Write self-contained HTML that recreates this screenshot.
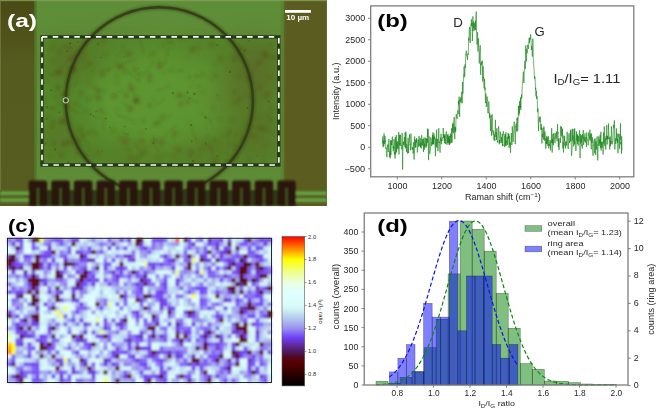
<!DOCTYPE html><html><head><meta charset="utf-8"><style>html,body{margin:0;padding:0;background:#fff;overflow:hidden}svg{display:block}text{font-family:"Liberation Sans",sans-serif}</style></head><body>
<svg width="656" height="409" viewBox="0 0 656 409">
<defs>
<filter id="bl05" x="-5%" y="-5%" width="110%" height="110%"><feGaussianBlur stdDeviation="0.5"/></filter>
<filter id="bl07" x="-5%" y="-5%" width="110%" height="110%"><feGaussianBlur stdDeviation="0.7"/></filter>
<filter id="bl11" x="-5%" y="-5%" width="110%" height="110%"><feGaussianBlur stdDeviation="1.2"/></filter>
<filter id="bl13" x="-5%" y="-20%" width="110%" height="140%"><feGaussianBlur stdDeviation="1.3"/></filter>
<filter id="bl15" x="-5%" y="-5%" width="110%" height="110%"><feGaussianBlur stdDeviation="1.5"/></filter>
<filter id="bl1" x="-10%" y="-10%" width="120%" height="120%"><feGaussianBlur stdDeviation="1"/></filter>
<filter id="bl6" x="-20%" y="-20%" width="140%" height="140%"><feGaussianBlur stdDeviation="12"/></filter>
<linearGradient id="olL" x1="0" y1="0" x2="0" y2="1"><stop offset="0" stop-color="#4a4a14"/><stop offset="0.3" stop-color="#555a1e"/><stop offset="1" stop-color="#575c20"/></linearGradient>
<clipPath id="clipA"><rect x="0" y="0" width="326.8" height="206.2"/></clipPath>
</defs>
<rect width="656" height="409" fill="#fff"/>
<g id="pa" clip-path="url(#clipA)">
<rect x="0" y="0" width="327" height="206" fill="#5f8e38"/>
<rect x="42" y="37" width="237" height="128" fill="#54882c"/>
<ellipse cx="160" cy="100" rx="72" ry="52" fill="#5e9932" filter="url(#bl6)" opacity="0.85"/>
<g filter="url(#bl6)" opacity="0.55">
<ellipse cx="70" cy="60" rx="28" ry="20" fill="#5f5a22" opacity="0.8"/>
<ellipse cx="255" cy="70" rx="26" ry="35" fill="#5f5a22" opacity="0.9"/>
<ellipse cx="258" cy="135" rx="22" ry="28" fill="#5f5a22" opacity="0.8"/>
<ellipse cx="60" cy="140" rx="20" ry="24" fill="#5f5a22" opacity="0.6"/>
<ellipse cx="150" cy="155" rx="70" ry="10" fill="#5f5a22" opacity="0.6"/>
<ellipse cx="215" cy="150" rx="30" ry="14" fill="#5f5a22" opacity="0.6"/>
<ellipse cx="120" cy="45" rx="40" ry="8" fill="#5f5a22" opacity="0.4"/>
<ellipse cx="200" cy="48" rx="30" ry="8" fill="#5f5a22" opacity="0.5"/>
<ellipse cx="225" cy="100" rx="18" ry="25" fill="#5f5a22" opacity="0.5"/>
</g>
<g filter="url(#bl15)">
<circle cx="119.5" cy="57.7" r="2.6" fill="#584818" opacity="0.12"/>
<circle cx="168.9" cy="84.3" r="1.1" fill="#584818" opacity="0.23"/>
<circle cx="52.7" cy="92.8" r="1.2" fill="#584818" opacity="0.12"/>
<circle cx="142.9" cy="141.5" r="1.3" fill="#584818" opacity="0.16"/>
<circle cx="190.2" cy="156.5" r="2.4" fill="#584818" opacity="0.20"/>
<circle cx="271.5" cy="44.8" r="3.1" fill="#584818" opacity="0.17"/>
<circle cx="77.6" cy="53.6" r="1.8" fill="#584818" opacity="0.30"/>
<circle cx="86.1" cy="111.1" r="2.6" fill="#584818" opacity="0.19"/>
<circle cx="171.6" cy="46.8" r="1.1" fill="#584818" opacity="0.15"/>
<circle cx="202.5" cy="92.0" r="1.8" fill="#584818" opacity="0.25"/>
<circle cx="149.6" cy="76.2" r="3.0" fill="#584818" opacity="0.27"/>
<circle cx="100.9" cy="110.2" r="2.3" fill="#584818" opacity="0.32"/>
<circle cx="214.0" cy="74.7" r="3.5" fill="#584818" opacity="0.13"/>
<circle cx="141.4" cy="132.9" r="1.4" fill="#584818" opacity="0.22"/>
<circle cx="53.1" cy="121.9" r="2.9" fill="#584818" opacity="0.24"/>
<circle cx="248.0" cy="77.9" r="2.7" fill="#584818" opacity="0.25"/>
<circle cx="179.1" cy="95.6" r="3.1" fill="#584818" opacity="0.34"/>
<circle cx="154.5" cy="121.4" r="1.2" fill="#584818" opacity="0.28"/>
<circle cx="194.8" cy="162.1" r="3.1" fill="#584818" opacity="0.17"/>
<circle cx="133.9" cy="121.9" r="1.1" fill="#584818" opacity="0.22"/>
<circle cx="83.2" cy="53.5" r="1.1" fill="#584818" opacity="0.29"/>
<circle cx="74.1" cy="69.7" r="2.0" fill="#584818" opacity="0.32"/>
<circle cx="62.8" cy="94.7" r="2.4" fill="#584818" opacity="0.32"/>
<circle cx="234.9" cy="146.1" r="1.7" fill="#584818" opacity="0.20"/>
<circle cx="127.6" cy="148.6" r="3.4" fill="#584818" opacity="0.14"/>
<circle cx="85.1" cy="67.8" r="1.6" fill="#584818" opacity="0.22"/>
<circle cx="181.3" cy="71.6" r="1.0" fill="#584818" opacity="0.20"/>
<circle cx="130.0" cy="109.2" r="3.4" fill="#584818" opacity="0.27"/>
<circle cx="164.1" cy="115.6" r="2.7" fill="#584818" opacity="0.11"/>
<circle cx="253.6" cy="135.7" r="3.2" fill="#584818" opacity="0.30"/>
<circle cx="135.4" cy="88.5" r="1.3" fill="#584818" opacity="0.26"/>
<circle cx="58.5" cy="47.4" r="1.5" fill="#584818" opacity="0.14"/>
<circle cx="123.2" cy="45.5" r="1.0" fill="#584818" opacity="0.14"/>
<circle cx="67.6" cy="84.1" r="1.1" fill="#584818" opacity="0.32"/>
<circle cx="187.1" cy="57.4" r="1.6" fill="#584818" opacity="0.19"/>
<circle cx="128.9" cy="54.2" r="3.1" fill="#584818" opacity="0.35"/>
<circle cx="152.6" cy="99.0" r="1.2" fill="#584818" opacity="0.13"/>
<circle cx="123.8" cy="71.8" r="3.1" fill="#584818" opacity="0.14"/>
<circle cx="49.4" cy="156.9" r="2.3" fill="#584818" opacity="0.14"/>
<circle cx="170.6" cy="42.4" r="2.3" fill="#584818" opacity="0.34"/>
<circle cx="245.2" cy="125.3" r="1.7" fill="#584818" opacity="0.19"/>
<circle cx="82.9" cy="134.7" r="2.3" fill="#584818" opacity="0.29"/>
<circle cx="120.8" cy="66.7" r="3.0" fill="#584818" opacity="0.35"/>
<circle cx="242.7" cy="139.0" r="3.0" fill="#584818" opacity="0.28"/>
<circle cx="96.8" cy="103.2" r="1.9" fill="#584818" opacity="0.11"/>
<circle cx="50.5" cy="73.6" r="1.6" fill="#584818" opacity="0.27"/>
<circle cx="266.9" cy="94.5" r="3.3" fill="#584818" opacity="0.35"/>
<circle cx="266.5" cy="84.2" r="1.6" fill="#584818" opacity="0.16"/>
<circle cx="89.8" cy="64.3" r="2.6" fill="#584818" opacity="0.33"/>
<circle cx="239.8" cy="98.5" r="2.6" fill="#584818" opacity="0.30"/>
<circle cx="63.8" cy="120.9" r="3.3" fill="#584818" opacity="0.30"/>
<circle cx="218.8" cy="98.3" r="1.4" fill="#584818" opacity="0.30"/>
<circle cx="121.5" cy="138.3" r="3.4" fill="#584818" opacity="0.20"/>
<circle cx="137.5" cy="156.4" r="2.8" fill="#584818" opacity="0.14"/>
<circle cx="73.6" cy="57.7" r="3.3" fill="#584818" opacity="0.30"/>
<circle cx="78.1" cy="141.5" r="3.5" fill="#584818" opacity="0.26"/>
<circle cx="125.6" cy="107.0" r="1.3" fill="#584818" opacity="0.10"/>
<circle cx="270.2" cy="119.6" r="2.3" fill="#584818" opacity="0.33"/>
<circle cx="145.1" cy="147.1" r="3.1" fill="#584818" opacity="0.15"/>
<circle cx="102.7" cy="75.3" r="1.6" fill="#584818" opacity="0.25"/>
<circle cx="104.4" cy="91.0" r="1.3" fill="#584818" opacity="0.33"/>
<circle cx="126.4" cy="95.8" r="2.5" fill="#584818" opacity="0.33"/>
<circle cx="142.0" cy="152.8" r="2.3" fill="#584818" opacity="0.23"/>
<circle cx="166.0" cy="41.3" r="2.1" fill="#584818" opacity="0.15"/>
<circle cx="44.9" cy="138.1" r="1.4" fill="#584818" opacity="0.22"/>
<circle cx="213.0" cy="108.0" r="1.8" fill="#584818" opacity="0.23"/>
<circle cx="173.4" cy="136.2" r="1.3" fill="#584818" opacity="0.24"/>
<circle cx="101.9" cy="73.3" r="2.9" fill="#584818" opacity="0.23"/>
<circle cx="174.9" cy="133.2" r="3.3" fill="#584818" opacity="0.21"/>
<circle cx="186.7" cy="101.7" r="2.3" fill="#584818" opacity="0.27"/>
<circle cx="149.4" cy="105.1" r="2.2" fill="#584818" opacity="0.34"/>
<circle cx="206.9" cy="147.7" r="3.4" fill="#584818" opacity="0.16"/>
<circle cx="174.4" cy="156.0" r="3.1" fill="#584818" opacity="0.13"/>
<circle cx="72.3" cy="93.8" r="1.2" fill="#584818" opacity="0.16"/>
<circle cx="61.0" cy="122.0" r="3.0" fill="#584818" opacity="0.32"/>
<circle cx="80.0" cy="127.8" r="2.7" fill="#584818" opacity="0.14"/>
<circle cx="249.7" cy="159.0" r="1.5" fill="#584818" opacity="0.34"/>
<circle cx="136.8" cy="99.4" r="3.5" fill="#584818" opacity="0.31"/>
<circle cx="81.6" cy="92.5" r="2.3" fill="#584818" opacity="0.18"/>
<circle cx="89.6" cy="78.5" r="2.8" fill="#584818" opacity="0.10"/>
<circle cx="173.1" cy="93.6" r="1.0" fill="#584818" opacity="0.18"/>
<circle cx="189.4" cy="102.5" r="1.2" fill="#584818" opacity="0.35"/>
<circle cx="227.7" cy="159.5" r="1.3" fill="#584818" opacity="0.17"/>
<circle cx="53.2" cy="135.6" r="1.7" fill="#584818" opacity="0.13"/>
<circle cx="142.4" cy="152.0" r="3.0" fill="#584818" opacity="0.16"/>
<circle cx="78.8" cy="153.0" r="2.4" fill="#584818" opacity="0.28"/>
<circle cx="64.8" cy="46.1" r="2.7" fill="#584818" opacity="0.21"/>
<circle cx="60.9" cy="155.4" r="2.6" fill="#584818" opacity="0.30"/>
<circle cx="63.5" cy="145.2" r="1.2" fill="#584818" opacity="0.32"/>
<circle cx="149.7" cy="81.1" r="2.4" fill="#584818" opacity="0.33"/>
<circle cx="106.4" cy="55.0" r="2.3" fill="#584818" opacity="0.16"/>
<circle cx="69.5" cy="59.0" r="1.1" fill="#584818" opacity="0.15"/>
<circle cx="116.7" cy="76.8" r="2.9" fill="#584818" opacity="0.17"/>
<circle cx="160.5" cy="61.1" r="1.9" fill="#584818" opacity="0.10"/>
<circle cx="102.4" cy="40.9" r="2.8" fill="#584818" opacity="0.24"/>
<circle cx="88.1" cy="97.9" r="3.3" fill="#584818" opacity="0.13"/>
<circle cx="234.8" cy="92.6" r="2.2" fill="#584818" opacity="0.31"/>
<circle cx="135.6" cy="101.8" r="2.7" fill="#584818" opacity="0.35"/>
<circle cx="123.9" cy="142.2" r="2.8" fill="#584818" opacity="0.26"/>
<circle cx="138.3" cy="82.1" r="1.1" fill="#584818" opacity="0.13"/>
<circle cx="60.5" cy="130.9" r="1.6" fill="#584818" opacity="0.14"/>
<circle cx="63.7" cy="143.3" r="3.2" fill="#584818" opacity="0.27"/>
<circle cx="109.7" cy="69.0" r="1.7" fill="#584818" opacity="0.21"/>
<circle cx="80.7" cy="94.3" r="1.7" fill="#584818" opacity="0.34"/>
<circle cx="270.6" cy="106.8" r="1.6" fill="#584818" opacity="0.34"/>
<circle cx="116.1" cy="83.2" r="1.0" fill="#584818" opacity="0.20"/>
<circle cx="154.6" cy="101.3" r="1.5" fill="#584818" opacity="0.23"/>
<circle cx="45.2" cy="71.8" r="1.2" fill="#584818" opacity="0.20"/>
<circle cx="53.7" cy="41.8" r="1.8" fill="#584818" opacity="0.16"/>
<circle cx="180.4" cy="104.6" r="2.9" fill="#584818" opacity="0.26"/>
<circle cx="210.8" cy="148.0" r="2.0" fill="#584818" opacity="0.18"/>
<circle cx="273.4" cy="57.5" r="2.8" fill="#584818" opacity="0.26"/>
<circle cx="54.2" cy="142.6" r="3.2" fill="#584818" opacity="0.26"/>
<circle cx="215.0" cy="139.7" r="1.3" fill="#584818" opacity="0.23"/>
<circle cx="161.5" cy="142.5" r="3.0" fill="#584818" opacity="0.31"/>
<circle cx="180.1" cy="149.7" r="2.7" fill="#584818" opacity="0.27"/>
<circle cx="97.6" cy="42.9" r="1.3" fill="#584818" opacity="0.19"/>
<circle cx="68.4" cy="142.6" r="2.4" fill="#584818" opacity="0.26"/>
<circle cx="189.9" cy="123.4" r="2.2" fill="#584818" opacity="0.10"/>
<circle cx="229.9" cy="131.8" r="2.3" fill="#584818" opacity="0.23"/>
<circle cx="197.6" cy="47.2" r="2.8" fill="#584818" opacity="0.16"/>
<circle cx="61.3" cy="71.9" r="2.8" fill="#584818" opacity="0.15"/>
<circle cx="216.4" cy="160.0" r="2.2" fill="#584818" opacity="0.20"/>
<circle cx="155.6" cy="123.8" r="2.9" fill="#584818" opacity="0.25"/>
<circle cx="193.8" cy="48.6" r="1.4" fill="#584818" opacity="0.16"/>
<circle cx="217.2" cy="76.7" r="2.4" fill="#584818" opacity="0.10"/>
<circle cx="58.1" cy="72.3" r="2.7" fill="#584818" opacity="0.27"/>
<circle cx="201.4" cy="75.1" r="2.3" fill="#584818" opacity="0.22"/>
<circle cx="152.7" cy="53.7" r="3.2" fill="#584818" opacity="0.15"/>
<circle cx="271.9" cy="155.1" r="1.0" fill="#584818" opacity="0.21"/>
<circle cx="235.0" cy="159.0" r="2.1" fill="#584818" opacity="0.17"/>
<circle cx="92.9" cy="156.3" r="1.5" fill="#584818" opacity="0.25"/>
<circle cx="77.0" cy="104.0" r="3.4" fill="#584818" opacity="0.13"/>
<circle cx="235.1" cy="102.1" r="3.2" fill="#584818" opacity="0.28"/>
<circle cx="97.9" cy="150.3" r="2.2" fill="#584818" opacity="0.11"/>
<circle cx="44.8" cy="100.0" r="2.1" fill="#584818" opacity="0.18"/>
<circle cx="76.8" cy="81.7" r="1.8" fill="#584818" opacity="0.31"/>
<circle cx="44.4" cy="132.1" r="3.1" fill="#584818" opacity="0.13"/>
<circle cx="259.9" cy="127.4" r="3.3" fill="#584818" opacity="0.17"/>
<circle cx="130.7" cy="87.7" r="3.5" fill="#584818" opacity="0.25"/>
<circle cx="128.0" cy="92.1" r="1.7" fill="#584818" opacity="0.11"/>
<circle cx="67.7" cy="142.5" r="1.7" fill="#584818" opacity="0.33"/>
<circle cx="102.1" cy="72.0" r="2.3" fill="#584818" opacity="0.15"/>
<circle cx="131.0" cy="157.6" r="3.2" fill="#584818" opacity="0.30"/>
<circle cx="191.0" cy="152.3" r="3.4" fill="#584818" opacity="0.24"/>
<circle cx="211.7" cy="45.1" r="2.8" fill="#584818" opacity="0.21"/>
<circle cx="219.4" cy="118.9" r="1.7" fill="#584818" opacity="0.11"/>
<circle cx="259.9" cy="54.8" r="2.2" fill="#584818" opacity="0.19"/>
<circle cx="113.4" cy="130.6" r="3.4" fill="#584818" opacity="0.17"/>
<circle cx="196.8" cy="76.3" r="2.4" fill="#584818" opacity="0.20"/>
<circle cx="83.0" cy="59.0" r="1.5" fill="#584818" opacity="0.33"/>
<circle cx="159.8" cy="66.3" r="3.3" fill="#584818" opacity="0.35"/>
<circle cx="148.8" cy="56.3" r="1.5" fill="#584818" opacity="0.12"/>
<circle cx="123.7" cy="50.3" r="1.6" fill="#584818" opacity="0.16"/>
<circle cx="176.7" cy="149.0" r="2.9" fill="#584818" opacity="0.20"/>
<circle cx="140.4" cy="104.0" r="1.9" fill="#584818" opacity="0.18"/>
<circle cx="58.5" cy="73.4" r="3.4" fill="#584818" opacity="0.13"/>
<circle cx="161.3" cy="117.1" r="3.2" fill="#584818" opacity="0.15"/>
<circle cx="107.1" cy="69.8" r="2.0" fill="#584818" opacity="0.21"/>
<circle cx="266.3" cy="144.2" r="3.2" fill="#584818" opacity="0.11"/>
<circle cx="51.5" cy="127.0" r="3.2" fill="#584818" opacity="0.22"/>
<circle cx="180.8" cy="39.0" r="2.0" fill="#584818" opacity="0.33"/>
<circle cx="236.4" cy="145.1" r="3.4" fill="#584818" opacity="0.16"/>
<circle cx="69.4" cy="58.1" r="2.3" fill="#584818" opacity="0.27"/>
<circle cx="263.4" cy="128.5" r="2.6" fill="#584818" opacity="0.29"/>
<circle cx="150.6" cy="107.4" r="1.1" fill="#584818" opacity="0.30"/>
<circle cx="98.2" cy="153.1" r="2.6" fill="#584818" opacity="0.18"/>
<circle cx="73.8" cy="70.2" r="2.6" fill="#584818" opacity="0.27"/>
<circle cx="70.1" cy="47.7" r="2.3" fill="#584818" opacity="0.25"/>
<circle cx="134.4" cy="66.7" r="2.5" fill="#584818" opacity="0.10"/>
<circle cx="114.3" cy="96.1" r="3.4" fill="#584818" opacity="0.26"/>
<circle cx="249.9" cy="97.9" r="1.6" fill="#584818" opacity="0.16"/>
<circle cx="267.8" cy="126.4" r="1.8" fill="#584818" opacity="0.11"/>
<circle cx="160.1" cy="122.6" r="2.1" fill="#584818" opacity="0.16"/>
<circle cx="199.5" cy="153.7" r="1.6" fill="#584818" opacity="0.11"/>
<circle cx="122.8" cy="91.1" r="2.7" fill="#584818" opacity="0.15"/>
<circle cx="229.7" cy="130.7" r="2.3" fill="#584818" opacity="0.15"/>
<circle cx="270.0" cy="77.7" r="3.1" fill="#584818" opacity="0.16"/>
<circle cx="95.6" cy="133.3" r="1.7" fill="#584818" opacity="0.34"/>
<circle cx="159.5" cy="62.2" r="1.6" fill="#584818" opacity="0.20"/>
<circle cx="199.0" cy="156.6" r="1.4" fill="#584818" opacity="0.20"/>
<circle cx="93.6" cy="159.8" r="1.4" fill="#584818" opacity="0.11"/>
<circle cx="58.0" cy="87.8" r="3.2" fill="#584818" opacity="0.32"/>
<circle cx="214.7" cy="162.7" r="3.3" fill="#584818" opacity="0.18"/>
<circle cx="87.2" cy="155.0" r="2.9" fill="#584818" opacity="0.11"/>
<circle cx="198.8" cy="85.9" r="1.9" fill="#584818" opacity="0.18"/>
<circle cx="83.4" cy="39.4" r="1.7" fill="#584818" opacity="0.19"/>
<circle cx="266.6" cy="54.3" r="3.4" fill="#584818" opacity="0.15"/>
<circle cx="127.1" cy="140.9" r="3.1" fill="#584818" opacity="0.21"/>
<circle cx="55.5" cy="97.7" r="1.9" fill="#584818" opacity="0.33"/>
<circle cx="89.0" cy="84.2" r="3.2" fill="#584818" opacity="0.11"/>
<circle cx="139.7" cy="139.7" r="2.9" fill="#584818" opacity="0.11"/>
<circle cx="52.1" cy="46.8" r="3.3" fill="#584818" opacity="0.16"/>
<circle cx="218.1" cy="150.4" r="1.8" fill="#584818" opacity="0.17"/>
<circle cx="267.1" cy="115.5" r="1.7" fill="#584818" opacity="0.28"/>
<circle cx="117.7" cy="73.2" r="1.0" fill="#584818" opacity="0.29"/>
<circle cx="257.5" cy="117.6" r="3.4" fill="#584818" opacity="0.11"/>
<circle cx="98.5" cy="97.9" r="3.4" fill="#584818" opacity="0.34"/>
<circle cx="134.1" cy="70.1" r="2.1" fill="#584818" opacity="0.22"/>
<circle cx="260.2" cy="61.7" r="3.0" fill="#584818" opacity="0.28"/>
<circle cx="235.7" cy="134.8" r="2.5" fill="#584818" opacity="0.18"/>
<circle cx="118.5" cy="83.9" r="3.0" fill="#584818" opacity="0.12"/>
<circle cx="90.0" cy="132.4" r="1.6" fill="#584818" opacity="0.12"/>
<circle cx="51.9" cy="107.5" r="1.8" fill="#584818" opacity="0.35"/>
<circle cx="249.8" cy="161.5" r="1.7" fill="#584818" opacity="0.12"/>
<circle cx="66.5" cy="100.8" r="2.8" fill="#584818" opacity="0.21"/>
<circle cx="98.6" cy="90.7" r="2.6" fill="#584818" opacity="0.27"/>
<circle cx="218.3" cy="144.0" r="2.7" fill="#584818" opacity="0.13"/>
<circle cx="239.9" cy="75.4" r="2.4" fill="#584818" opacity="0.19"/>
<circle cx="216.0" cy="63.7" r="1.6" fill="#584818" opacity="0.16"/>
<circle cx="79.7" cy="148.6" r="2.4" fill="#584818" opacity="0.18"/>
<circle cx="136.3" cy="162.1" r="2.3" fill="#584818" opacity="0.16"/>
<circle cx="232.4" cy="120.0" r="3.5" fill="#584818" opacity="0.13"/>
<circle cx="154.6" cy="140.6" r="3.1" fill="#584818" opacity="0.33"/>
<circle cx="53.4" cy="75.4" r="1.3" fill="#584818" opacity="0.15"/>
<circle cx="270.7" cy="111.3" r="3.3" fill="#584818" opacity="0.19"/>
<circle cx="245.8" cy="94.7" r="1.6" fill="#584818" opacity="0.29"/>
<circle cx="264.3" cy="52.1" r="2.5" fill="#584818" opacity="0.25"/>
<circle cx="94.7" cy="84.7" r="1.4" fill="#584818" opacity="0.15"/>
<circle cx="103.4" cy="113.3" r="2.6" fill="#584818" opacity="0.15"/>
<circle cx="46.7" cy="79.6" r="2.7" fill="#584818" opacity="0.15"/>
<circle cx="116.7" cy="64.2" r="3.0" fill="#584818" opacity="0.24"/>
<circle cx="58.7" cy="51.6" r="2.0" fill="#584818" opacity="0.24"/>
<circle cx="192.9" cy="50.3" r="1.4" fill="#584818" opacity="0.27"/>
<circle cx="139.5" cy="74.1" r="1.8" fill="#584818" opacity="0.34"/>
<circle cx="116.8" cy="109.2" r="1.9" fill="#584818" opacity="0.20"/>
<circle cx="245.4" cy="162.6" r="1.9" fill="#584818" opacity="0.15"/>
<circle cx="213.6" cy="64.3" r="1.0" fill="#584818" opacity="0.33"/>
<circle cx="142.7" cy="140.7" r="2.0" fill="#584818" opacity="0.32"/>
<circle cx="151.4" cy="59.2" r="1.0" fill="#584818" opacity="0.24"/>
<circle cx="193.3" cy="151.8" r="1.2" fill="#584818" opacity="0.26"/>
<circle cx="130.4" cy="101.6" r="1.4" fill="#584818" opacity="0.17"/>
<circle cx="165.4" cy="153.8" r="1.3" fill="#584818" opacity="0.22"/>
<circle cx="231.5" cy="158.9" r="1.5" fill="#584818" opacity="0.13"/>
<circle cx="263.7" cy="160.0" r="2.2" fill="#584818" opacity="0.11"/>
<circle cx="259.8" cy="87.1" r="3.3" fill="#584818" opacity="0.26"/>
<circle cx="236.1" cy="58.9" r="3.0" fill="#584818" opacity="0.16"/>
<circle cx="138.2" cy="143.9" r="3.1" fill="#584818" opacity="0.15"/>
<circle cx="94.8" cy="88.6" r="2.3" fill="#584818" opacity="0.20"/>
<circle cx="72.7" cy="69.6" r="2.8" fill="#584818" opacity="0.32"/>
<circle cx="53.6" cy="108.7" r="2.9" fill="#584818" opacity="0.11"/>
<circle cx="239.3" cy="53.6" r="2.5" fill="#584818" opacity="0.24"/>
<circle cx="190.1" cy="77.0" r="2.1" fill="#584818" opacity="0.25"/>
<circle cx="143.2" cy="120.7" r="2.1" fill="#584818" opacity="0.21"/>
<circle cx="49.4" cy="115.7" r="2.2" fill="#584818" opacity="0.16"/>
<circle cx="221.9" cy="135.7" r="2.1" fill="#584818" opacity="0.14"/>
<circle cx="154.3" cy="52.3" r="1.3" fill="#584818" opacity="0.21"/>
<circle cx="65.4" cy="93.8" r="2.3" fill="#584818" opacity="0.11"/>
<circle cx="192.3" cy="49.2" r="2.8" fill="#584818" opacity="0.29"/>
<circle cx="163.2" cy="45.7" r="2.3" fill="#584818" opacity="0.19"/>
<circle cx="265.6" cy="55.9" r="3.1" fill="#584818" opacity="0.35"/>
<circle cx="214.6" cy="140.1" r="1.5" fill="#584818" opacity="0.35"/>
<circle cx="158.6" cy="157.6" r="3.3" fill="#584818" opacity="0.14"/>
<circle cx="227.7" cy="154.4" r="1.2" fill="#584818" opacity="0.19"/>
<circle cx="220.2" cy="58.7" r="3.2" fill="#584818" opacity="0.17"/>
<circle cx="234.0" cy="56.8" r="2.3" fill="#584818" opacity="0.33"/>
<circle cx="92.5" cy="71.6" r="2.3" fill="#584818" opacity="0.18"/>
<circle cx="52.6" cy="61.6" r="1.4" fill="#584818" opacity="0.33"/>
<circle cx="202.4" cy="150.0" r="1.4" fill="#584818" opacity="0.30"/>
<circle cx="70.8" cy="104.8" r="2.6" fill="#584818" opacity="0.19"/>
</g>
<g filter="url(#bl07)">
<circle cx="247.4" cy="107.8" r="0.9" fill="#4a3010" opacity="0.47"/>
<circle cx="68.4" cy="162.1" r="1.0" fill="#4a3010" opacity="0.35"/>
<circle cx="229.9" cy="71.8" r="1.2" fill="#4a3010" opacity="0.39"/>
<circle cx="127.9" cy="133.8" r="0.9" fill="#4a3010" opacity="0.29"/>
<circle cx="217.3" cy="45.0" r="1.1" fill="#4a3010" opacity="0.31"/>
<circle cx="192.9" cy="161.0" r="1.0" fill="#4a3010" opacity="0.42"/>
<circle cx="116.8" cy="39.2" r="0.6" fill="#4a3010" opacity="0.29"/>
<circle cx="187.5" cy="92.6" r="0.9" fill="#4a3010" opacity="0.47"/>
<circle cx="74.8" cy="67.2" r="1.0" fill="#4a3010" opacity="0.26"/>
<circle cx="44.6" cy="83.0" r="0.7" fill="#4a3010" opacity="0.34"/>
<circle cx="96.3" cy="111.4" r="1.0" fill="#4a3010" opacity="0.30"/>
<circle cx="189.4" cy="97.9" r="0.7" fill="#4a3010" opacity="0.48"/>
<circle cx="100.8" cy="57.5" r="0.7" fill="#4a3010" opacity="0.41"/>
<circle cx="247.0" cy="136.0" r="0.8" fill="#4a3010" opacity="0.32"/>
<circle cx="46.7" cy="119.0" r="0.9" fill="#4a3010" opacity="0.34"/>
<circle cx="194.4" cy="94.0" r="1.2" fill="#4a3010" opacity="0.43"/>
<circle cx="101.9" cy="151.0" r="0.6" fill="#4a3010" opacity="0.38"/>
<circle cx="138.6" cy="68.5" r="0.6" fill="#4a3010" opacity="0.44"/>
<circle cx="46.9" cy="107.3" r="1.2" fill="#4a3010" opacity="0.29"/>
<circle cx="90.5" cy="114.4" r="0.9" fill="#4a3010" opacity="0.41"/>
<circle cx="233.5" cy="60.7" r="0.8" fill="#4a3010" opacity="0.33"/>
<circle cx="55.3" cy="149.3" r="1.1" fill="#4a3010" opacity="0.43"/>
<circle cx="45.5" cy="143.7" r="1.0" fill="#4a3010" opacity="0.37"/>
<circle cx="216.8" cy="95.1" r="0.7" fill="#4a3010" opacity="0.28"/>
<circle cx="98.1" cy="43.8" r="0.8" fill="#4a3010" opacity="0.44"/>
<circle cx="206.0" cy="143.8" r="1.0" fill="#4a3010" opacity="0.32"/>
<circle cx="173.0" cy="93.1" r="1.1" fill="#4a3010" opacity="0.38"/>
<circle cx="105.8" cy="118.6" r="1.2" fill="#4a3010" opacity="0.30"/>
<circle cx="249.1" cy="40.9" r="0.8" fill="#4a3010" opacity="0.31"/>
<circle cx="217.3" cy="156.1" r="1.0" fill="#4a3010" opacity="0.33"/>
<circle cx="249.1" cy="79.7" r="0.7" fill="#4a3010" opacity="0.48"/>
<circle cx="191.0" cy="124.9" r="1.0" fill="#4a3010" opacity="0.49"/>
<circle cx="153.4" cy="143.1" r="1.0" fill="#4a3010" opacity="0.46"/>
<circle cx="145.9" cy="128.9" r="0.9" fill="#4a3010" opacity="0.33"/>
<circle cx="93.4" cy="116.2" r="0.6" fill="#4a3010" opacity="0.48"/>
<circle cx="77.7" cy="42.3" r="0.7" fill="#4a3010" opacity="0.48"/>
<circle cx="124.4" cy="56.6" r="0.6" fill="#4a3010" opacity="0.26"/>
<circle cx="205.4" cy="117.6" r="1.0" fill="#4a3010" opacity="0.43"/>
<circle cx="59.3" cy="112.2" r="0.8" fill="#4a3010" opacity="0.45"/>
<circle cx="235.0" cy="149.5" r="0.6" fill="#4a3010" opacity="0.47"/>
<circle cx="257.1" cy="156.1" r="0.7" fill="#4a3010" opacity="0.30"/>
<circle cx="70.1" cy="43.3" r="1.1" fill="#4a3010" opacity="0.45"/>
<circle cx="191.8" cy="141.3" r="1.0" fill="#4a3010" opacity="0.32"/>
<circle cx="67.3" cy="51.1" r="1.1" fill="#4a3010" opacity="0.30"/>
<circle cx="118.4" cy="91.5" r="0.6" fill="#4a3010" opacity="0.31"/>
<circle cx="109.8" cy="127.8" r="0.8" fill="#4a3010" opacity="0.33"/>
<circle cx="268.6" cy="101.5" r="1.1" fill="#4a3010" opacity="0.40"/>
<circle cx="51.2" cy="90.2" r="0.9" fill="#4a3010" opacity="0.44"/>
<circle cx="124.8" cy="126.4" r="0.9" fill="#4a3010" opacity="0.30"/>
<circle cx="244.9" cy="50.3" r="1.1" fill="#4a3010" opacity="0.29"/>
</g>
<g filter="url(#bl1)" stroke="#5a3c14" stroke-width="1.0" fill="none">
<line x1="69.7" y1="59.5" x2="50.9" y2="76.9" opacity="0.15"/>
<line x1="165.2" y1="98.1" x2="156.1" y2="104.9" opacity="0.25"/>
<line x1="122.6" y1="131.5" x2="139.7" y2="149.8" opacity="0.21"/>
<line x1="104.0" y1="120.5" x2="104.0" y2="130.4" opacity="0.28"/>
<line x1="83.0" y1="126.6" x2="70.1" y2="144.6" opacity="0.28"/>
<line x1="129.0" y1="79.8" x2="136.8" y2="102.5" opacity="0.17"/>
<line x1="237.1" y1="44.1" x2="247.2" y2="51.7" opacity="0.33"/>
<line x1="168.4" y1="86.4" x2="157.0" y2="90.8" opacity="0.24"/>
<line x1="176.0" y1="124.9" x2="162.0" y2="138.6" opacity="0.22"/>
<line x1="135.7" y1="58.2" x2="118.2" y2="67.6" opacity="0.30"/>
<line x1="101.7" y1="89.4" x2="87.8" y2="101.5" opacity="0.18"/>
<line x1="150.5" y1="142.9" x2="158.9" y2="150.7" opacity="0.21"/>
<line x1="199.4" y1="139.5" x2="208.9" y2="144.5" opacity="0.20"/>
<line x1="120.9" y1="101.7" x2="133.0" y2="108.4" opacity="0.19"/>
<line x1="247.9" y1="124.8" x2="271.9" y2="132.8" opacity="0.17"/>
<line x1="147.2" y1="151.8" x2="130.3" y2="164.5" opacity="0.24"/>
<line x1="94.7" y1="116.4" x2="105.8" y2="120.3" opacity="0.23"/>
<line x1="75.1" y1="84.6" x2="58.8" y2="97.1" opacity="0.25"/>
<line x1="181.1" y1="94.2" x2="198.2" y2="102.3" opacity="0.23"/>
<line x1="209.9" y1="140.5" x2="213.9" y2="158.4" opacity="0.30"/>
<line x1="154.0" y1="62.2" x2="138.7" y2="80.4" opacity="0.30"/>
<line x1="208.7" y1="134.8" x2="198.3" y2="151.3" opacity="0.24"/>
<line x1="116.8" y1="114.9" x2="131.6" y2="119.6" opacity="0.31"/>
<line x1="200.7" y1="111.9" x2="211.7" y2="122.9" opacity="0.24"/>
<line x1="193.9" y1="81.5" x2="180.9" y2="102.6" opacity="0.19"/>
<line x1="191.3" y1="126.6" x2="197.1" y2="142.4" opacity="0.34"/>
<line x1="58.2" y1="102.1" x2="77.5" y2="112.8" opacity="0.34"/>
<line x1="168.5" y1="48.0" x2="164.4" y2="65.3" opacity="0.29"/>
<line x1="172.5" y1="114.1" x2="157.5" y2="123.0" opacity="0.23"/>
<line x1="258.5" y1="62.9" x2="250.2" y2="75.5" opacity="0.30"/>
<line x1="83.1" y1="154.2" x2="87.1" y2="162.3" opacity="0.20"/>
<line x1="140.0" y1="39.0" x2="143.9" y2="54.1" opacity="0.29"/>
<line x1="124.1" y1="68.6" x2="140.3" y2="82.4" opacity="0.34"/>
<line x1="174.2" y1="65.8" x2="161.9" y2="74.6" opacity="0.19"/>
<line x1="94.5" y1="128.8" x2="78.5" y2="139.8" opacity="0.24"/>
<line x1="182.4" y1="70.2" x2="168.1" y2="71.8" opacity="0.28"/>
<line x1="227.2" y1="132.2" x2="228.5" y2="145.5" opacity="0.26"/>
<line x1="80.5" y1="130.4" x2="90.8" y2="151.3" opacity="0.20"/>
<line x1="135.8" y1="68.6" x2="138.4" y2="79.7" opacity="0.15"/>
<line x1="203.1" y1="72.7" x2="212.8" y2="82.0" opacity="0.25"/>
</g>
<rect x="0" y="0" width="35.3" height="206" fill="url(#olL)"/>
<rect x="283.8" y="0" width="43.2" height="206" fill="#5a5c20"/>
<rect x="34" y="0" width="3" height="206" fill="#4f7a2a" filter="url(#bl07)" opacity="0.7"/>
<rect x="281" y="0" width="4" height="206" fill="#5a7a2c" filter="url(#bl1)" opacity="0.6"/>
<rect x="0" y="0" width="327" height="1.2" fill="#859c58" opacity="0.85"/>
<rect x="0" y="0" width="1.0" height="190" fill="#7a7a48" opacity="0.7"/>
<circle cx="159.3" cy="100.9" r="93.6" fill="none" stroke="#3a4419" stroke-width="4.8" stroke-opacity="0.55" filter="url(#bl1)"/>
<circle cx="159.3" cy="100.9" r="93.6" fill="none" stroke="#333a16" stroke-width="2.4" stroke-opacity="0.9" filter="url(#bl07)"/>
<g filter="url(#bl13)">
<rect x="0" y="191.5" width="32" height="3.5" fill="#63a844"/>
<rect x="0" y="198.3" width="32" height="3.5" fill="#63a844"/>
<rect x="292" y="191.5" width="35" height="3.5" fill="#63a844"/>
<rect x="292" y="198.3" width="35" height="3.5" fill="#63a844"/>
<rect x="29" y="190" width="267" height="16" fill="#2f3a14"/>
<rect x="28.7" y="180.5" width="18.5" height="25.5" rx="2.5" fill="#2a190b"/>
<rect x="37.1" y="188" width="1.8" height="18" fill="#4a7224" opacity="0.8"/>
<rect x="51.3" y="180.5" width="18.5" height="25.5" rx="2.5" fill="#2a190b"/>
<rect x="59.7" y="188" width="1.8" height="18" fill="#4a7224" opacity="0.8"/>
<rect x="73.9" y="180.5" width="18.5" height="25.5" rx="2.5" fill="#2a190b"/>
<rect x="82.3" y="188" width="1.8" height="18" fill="#4a7224" opacity="0.8"/>
<rect x="96.5" y="180.5" width="18.5" height="25.5" rx="2.5" fill="#2a190b"/>
<rect x="104.9" y="188" width="1.8" height="18" fill="#4a7224" opacity="0.8"/>
<rect x="119.1" y="180.5" width="18.5" height="25.5" rx="2.5" fill="#2a190b"/>
<rect x="127.5" y="188" width="1.8" height="18" fill="#4a7224" opacity="0.8"/>
<rect x="141.7" y="180.5" width="18.5" height="25.5" rx="2.5" fill="#2a190b"/>
<rect x="150.1" y="188" width="1.8" height="18" fill="#4a7224" opacity="0.8"/>
<rect x="164.3" y="180.5" width="18.5" height="25.5" rx="2.5" fill="#2a190b"/>
<rect x="172.7" y="188" width="1.8" height="18" fill="#4a7224" opacity="0.8"/>
<rect x="186.9" y="180.5" width="18.5" height="25.5" rx="2.5" fill="#2a190b"/>
<rect x="195.3" y="188" width="1.8" height="18" fill="#4a7224" opacity="0.8"/>
<rect x="209.5" y="180.5" width="18.5" height="25.5" rx="2.5" fill="#2a190b"/>
<rect x="217.9" y="188" width="1.8" height="18" fill="#4a7224" opacity="0.8"/>
<rect x="232.1" y="180.5" width="18.5" height="25.5" rx="2.5" fill="#2a190b"/>
<rect x="240.5" y="188" width="1.8" height="18" fill="#4a7224" opacity="0.8"/>
<rect x="254.7" y="180.5" width="18.5" height="25.5" rx="2.5" fill="#2a190b"/>
<rect x="263.1" y="188" width="1.8" height="18" fill="#4a7224" opacity="0.8"/>
<rect x="277.3" y="180.5" width="18.5" height="25.5" rx="2.5" fill="#2a190b"/>
<rect x="285.7" y="188" width="1.8" height="18" fill="#4a7224" opacity="0.8"/>
</g>
<rect x="42" y="36.9" width="236.8" height="128.1" fill="none" stroke="#142410" stroke-opacity="0.75" stroke-width="3.4" filter="url(#bl07)"/>
<g stroke="#ffffff" stroke-width="1.7" fill="none">
<path d="M41.9 36.9H279.3" stroke-dasharray="5.5 5.3"/>
<path d="M42.6 165H279.3" stroke-dasharray="5.5 5.3"/>
<path d="M42 36.9V165.5" stroke-dasharray="5.5 5.3" stroke-dashoffset="0.9"/>
<path d="M278.8 38V165.5" stroke-dasharray="5.5 5.34"/>
</g>
<circle cx="65.8" cy="100.3" r="2.7" fill="none" stroke="#e2e2d2" stroke-width="0.9"/>
<text x="7.00" y="27.30" font-size="17.5" text-anchor="start" fill="#ffffff" font-weight="bold" textLength="30.0" lengthAdjust="spacingAndGlyphs" >(a)</text>
<rect x="285" y="10" width="25.9" height="2.8" fill="#ffffff"/>
<text x="286.20" y="20.40" font-size="7.6" text-anchor="start" fill="#ffffff" font-weight="bold" textLength="23.1" lengthAdjust="spacingAndGlyphs" >10 µm</text>
</g>
<polyline points="382.56,143.70 382.81,136.52 383.05,147.21 383.30,140.25 383.54,143.69 383.79,146.36 384.03,133.33 384.28,139.23 384.52,144.14 384.77,139.90 385.01,135.85 385.26,141.98 385.50,140.71 385.75,148.80 385.99,148.46 386.24,147.59 386.48,153.13 386.73,156.09 386.97,157.17 387.22,149.05 387.46,145.68 387.70,146.43 387.95,144.39 388.19,152.02 388.44,147.43 388.68,142.84 388.93,139.06 389.17,147.59 389.42,148.29 389.66,157.08 389.91,151.39 390.15,158.38 390.40,157.29 390.64,140.42 390.89,154.97 391.13,143.90 391.38,140.35 391.62,145.20 391.87,141.91 392.11,139.85 392.36,136.57 392.60,143.15 392.84,148.04 393.09,148.88 393.33,151.20 393.58,146.33 393.82,148.79 394.07,139.17 394.31,152.94 394.56,154.51 394.80,152.00 395.05,158.57 395.29,136.89 395.54,154.38 395.78,150.73 396.03,147.66 396.27,135.01 396.52,152.32 396.76,141.62 397.01,145.98 397.25,146.34 397.49,148.22 397.74,141.40 397.98,149.32 398.23,146.71 398.47,141.84 398.72,131.95 398.96,154.38 399.21,139.71 399.45,134.81 399.70,144.67 399.94,142.95 400.19,145.91 400.43,134.80 400.68,138.97 400.92,144.58 401.17,145.55 401.41,145.40 401.66,145.19 401.90,149.37 402.15,133.14 402.39,150.82 402.63,169.48 402.88,152.08 403.12,144.80 403.37,141.71 403.61,144.07 403.86,144.95 404.10,141.93 404.35,137.06 404.59,144.24 404.84,146.79 405.08,132.67 405.33,136.24 405.57,148.38 405.82,131.64 406.06,133.92 406.31,145.44 406.55,151.86 406.80,144.22 407.04,147.89 407.28,151.65 407.53,153.56 407.77,149.29 408.02,137.87 408.26,143.72 408.51,153.11 408.75,142.49 409.00,141.61 409.24,138.19 409.49,134.37 409.73,141.86 409.98,144.62 410.22,143.96 410.47,150.31 410.71,141.74 410.96,133.65 411.20,139.37 411.45,144.39 411.69,145.39 411.93,148.57 412.18,149.81 412.42,147.42 412.67,149.21 412.91,147.70 413.16,153.70 413.40,144.49 413.65,142.19 413.89,150.07 414.14,159.52 414.38,148.14 414.63,136.55 414.87,145.25 415.12,147.64 415.36,147.61 415.61,140.41 415.85,147.26 416.10,139.12 416.34,142.84 416.59,138.16 416.83,140.92 417.07,144.40 417.32,152.46 417.56,150.34 417.81,146.07 418.05,139.60 418.30,140.13 418.54,146.67 418.79,141.99 419.03,136.14 419.28,141.75 419.52,145.91 419.77,146.24 420.01,138.86 420.26,137.93 420.50,147.35 420.75,142.59 420.99,144.96 421.24,148.40 421.48,136.95 421.72,135.23 421.97,145.43 422.21,143.85 422.46,139.58 422.70,145.55 422.95,144.83 423.19,138.96 423.44,152.08 423.68,144.53 423.93,137.53 424.17,138.05 424.42,149.67 424.66,143.57 424.91,147.15 425.15,141.00 425.40,137.73 425.64,139.98 425.89,146.71 426.13,147.73 426.38,138.62 426.62,146.10 426.86,141.40 427.11,138.32 427.35,143.04 427.60,128.58 427.84,136.89 428.09,129.30 428.33,149.96 428.58,160.17 428.82,141.19 429.07,136.39 429.31,142.82 429.56,143.26 429.80,153.84 430.05,150.08 430.29,149.78 430.54,145.73 430.78,137.30 431.03,139.94 431.27,139.77 431.51,145.52 431.76,146.19 432.00,142.31 432.25,143.50 432.49,134.98 432.74,144.58 432.98,132.42 433.23,143.83 433.47,137.61 433.72,144.29 433.96,133.57 434.21,137.50 434.45,139.12 434.70,136.44 434.94,144.00 435.19,149.36 435.43,156.13 435.68,138.62 435.92,143.24 436.17,146.66 436.41,143.02 436.65,129.61 436.90,147.70 437.14,143.65 437.39,143.30 437.63,139.04 437.88,151.09 438.12,147.56 438.37,137.07 438.61,130.07 438.86,128.27 439.10,142.93 439.35,142.62 439.59,141.64 439.84,149.58 440.08,152.62 440.33,139.45 440.57,137.81 440.82,141.19 441.06,133.77 441.30,144.20 441.55,139.64 441.79,139.44 442.04,140.90 442.28,137.67 442.53,138.33 442.77,138.38 443.02,138.12 443.26,127.96 443.51,137.88 443.75,134.61 444.00,134.14 444.24,140.68 444.49,135.72 444.73,143.15 444.98,134.40 445.22,141.87 445.47,144.02 445.71,138.31 445.96,133.38 446.20,131.71 446.44,131.50 446.69,138.01 446.93,144.72 447.18,137.06 447.42,135.18 447.67,143.09 447.91,133.95 448.16,134.32 448.40,142.73 448.65,136.53 448.89,143.97 449.14,144.78 449.38,135.85 449.63,144.67 449.87,138.93 450.12,143.61 450.36,133.65 450.61,137.71 450.85,134.98 451.09,142.84 451.34,139.05 451.58,128.39 451.83,128.17 452.07,142.62 452.32,130.37 452.56,124.19 452.81,131.40 453.05,122.75 453.30,133.31 453.54,132.12 453.79,122.20 454.03,117.83 454.28,116.93 454.52,130.62 454.77,139.09 455.01,126.71 455.26,132.30 455.50,127.53 455.75,130.85 455.99,118.30 456.23,113.96 456.48,115.06 456.72,117.87 456.97,117.84 457.21,118.81 457.46,114.36 457.70,112.61 457.95,110.49 458.19,114.22 458.44,100.86 458.68,104.41 458.93,99.86 459.17,96.56 459.42,108.67 459.66,116.86 459.91,99.41 460.15,101.61 460.40,100.79 460.64,100.33 460.88,97.16 461.13,102.71 461.37,97.36 461.62,95.58 461.86,91.98 462.11,103.33 462.35,87.51 462.60,82.01 462.84,93.70 463.09,90.31 463.33,81.79 463.58,74.74 463.82,75.42 464.07,66.57 464.31,69.98 464.56,77.19 464.80,75.54 465.05,64.42 465.29,67.71 465.54,59.95 465.78,53.91 466.02,54.28 466.27,50.76 466.51,55.20 466.76,54.93 467.00,56.29 467.25,55.87 467.49,59.92 467.74,54.15 467.98,53.43 468.23,55.03 468.47,44.69 468.72,37.92 468.96,40.56 469.21,30.47 469.45,28.01 469.70,26.94 469.94,35.37 470.19,43.02 470.43,31.39 470.67,27.45 470.92,24.46 471.16,24.50 471.41,19.23 471.65,26.00 471.90,22.85 472.14,29.65 472.39,41.00 472.63,32.35 472.88,16.35 473.12,31.13 473.37,21.52 473.61,25.98 473.86,27.96 474.10,24.86 474.35,23.17 474.59,30.34 474.84,26.69 475.08,23.00 475.33,20.63 475.57,30.14 475.81,20.47 476.06,14.35 476.30,11.56 476.55,34.23 476.79,34.28 477.04,44.57 477.28,36.73 477.53,32.30 477.77,43.66 478.02,51.44 478.26,43.25 478.51,38.44 478.75,47.74 479.00,49.28 479.24,63.56 479.49,59.20 479.73,52.00 479.98,52.00 480.22,45.23 480.46,60.50 480.71,74.90 480.95,62.88 481.20,65.35 481.44,64.21 481.69,61.67 481.93,63.40 482.18,60.51 482.42,61.19 482.67,81.50 482.91,80.17 483.16,66.21 483.40,78.22 483.65,76.92 483.89,82.00 484.14,88.19 484.38,78.68 484.63,79.45 484.87,90.09 485.12,87.60 485.36,100.22 485.60,103.05 485.85,93.60 486.09,96.92 486.34,106.95 486.58,101.69 486.83,100.67 487.07,96.60 487.32,97.95 487.56,107.45 487.81,112.65 488.05,112.30 488.30,113.36 488.54,104.57 488.79,101.38 489.03,103.64 489.28,111.13 489.52,118.03 489.77,113.46 490.01,119.56 490.25,119.64 490.50,130.78 490.74,128.22 490.99,115.18 491.23,126.90 491.48,135.74 491.72,129.47 491.97,116.31 492.21,114.40 492.46,126.44 492.70,131.63 492.95,130.26 493.19,135.00 493.44,131.46 493.68,131.94 493.93,140.24 494.17,137.81 494.42,134.40 494.66,137.77 494.91,141.02 495.15,129.74 495.39,119.82 495.64,131.22 495.88,137.02 496.13,132.03 496.37,134.75 496.62,139.92 496.86,128.24 497.11,138.53 497.35,142.07 497.60,141.22 497.84,142.61 498.09,139.37 498.33,133.27 498.58,126.48 498.82,129.50 499.07,135.09 499.31,144.32 499.56,140.01 499.80,142.91 500.04,139.81 500.29,131.63 500.53,134.10 500.78,138.34 501.02,142.59 501.27,139.41 501.51,137.13 501.76,143.18 502.00,142.90 502.25,133.69 502.49,146.12 502.74,144.24 502.98,146.05 503.23,131.26 503.47,131.20 503.72,133.78 503.96,134.70 504.21,135.64 504.45,135.85 504.70,147.17 504.94,140.06 505.18,134.10 505.43,145.58 505.67,136.29 505.92,132.43 506.16,145.95 506.41,144.25 506.65,140.99 506.90,141.93 507.14,136.82 507.39,144.87 507.63,142.01 507.88,137.00 508.12,132.96 508.37,135.89 508.61,139.00 508.86,133.89 509.10,147.96 509.35,135.91 509.59,137.04 509.83,145.23 510.08,142.12 510.32,148.66 510.57,152.73 510.81,142.62 511.06,141.46 511.30,133.06 511.55,139.35 511.79,144.98 512.04,143.51 512.28,126.34 512.53,130.49 512.77,137.55 513.02,140.78 513.26,141.81 513.51,135.94 513.75,129.88 514.00,123.73 514.24,121.65 514.49,126.34 514.73,133.17 514.97,135.69 515.22,144.16 515.46,138.69 515.71,126.45 515.95,127.12 516.20,123.59 516.44,131.49 516.69,120.62 516.93,118.43 517.18,120.16 517.42,117.40 517.67,131.36 517.91,125.61 518.16,122.79 518.40,105.84 518.65,110.72 518.89,115.46 519.14,106.47 519.38,113.54 519.62,101.07 519.87,106.98 520.11,105.93 520.36,108.00 520.60,97.65 520.85,110.14 521.09,97.36 521.34,98.49 521.58,94.54 521.83,97.97 522.07,90.22 522.32,85.53 522.56,81.16 522.81,79.93 523.05,76.60 523.30,71.65 523.54,77.13 523.79,82.78 524.03,83.01 524.28,69.37 524.52,69.55 524.76,61.19 525.01,62.26 525.25,68.85 525.50,57.65 525.74,45.48 525.99,54.30 526.23,61.67 526.48,61.07 526.72,48.82 526.97,52.52 527.21,53.17 527.46,44.89 527.70,45.40 527.95,45.09 528.19,47.83 528.44,48.90 528.68,43.47 528.93,41.15 529.17,38.00 529.41,43.23 529.66,40.17 529.90,37.43 530.15,39.50 530.39,37.59 530.64,34.33 530.88,38.97 531.13,42.33 531.37,50.04 531.62,45.79 531.86,47.12 532.11,51.07 532.35,56.56 532.60,51.30 532.84,38.57 533.09,49.53 533.33,58.61 533.58,59.81 533.82,67.92 534.07,68.67 534.31,74.55 534.55,78.84 534.80,76.35 535.04,77.34 535.29,82.24 535.53,89.89 535.78,87.75 536.02,96.40 536.27,90.76 536.51,96.19 536.76,99.06 537.00,96.09 537.25,98.23 537.49,112.22 537.74,112.12 537.98,108.35 538.23,117.89 538.47,130.92 538.72,121.54 538.96,118.21 539.20,116.99 539.45,119.66 539.69,121.61 539.94,122.27 540.18,116.52 540.43,120.70 540.67,123.40 540.92,129.99 541.16,123.83 541.41,129.42 541.65,127.48 541.90,143.46 542.14,136.04 542.39,133.76 542.63,137.28 542.88,128.07 543.12,130.17 543.37,135.80 543.61,139.69 543.86,126.41 544.10,128.45 544.34,131.71 544.59,140.73 544.83,131.55 545.08,131.88 545.32,138.66 545.57,139.61 545.81,148.59 546.06,138.26 546.30,144.05 546.55,136.23 546.79,139.96 547.04,143.88 547.28,138.39 547.53,137.32 547.77,145.79 548.02,142.36 548.26,136.09 548.51,139.86 548.75,148.32 548.99,144.06 549.24,146.09 549.48,145.35 549.73,140.81 549.97,140.12 550.22,141.31 550.46,150.36 550.71,141.41 550.95,140.49 551.20,142.92 551.44,140.01 551.69,128.19 551.93,143.79 552.18,152.54 552.42,138.99 552.67,143.31 552.91,134.07 553.16,143.38 553.40,145.24 553.65,136.27 553.89,133.03 554.13,135.69 554.38,136.63 554.62,140.14 554.87,143.25 555.11,142.50 555.36,133.17 555.60,133.43 555.85,138.77 556.09,138.45 556.34,134.76 556.58,131.56 556.83,138.72 557.07,141.19 557.32,138.63 557.56,124.11 557.81,133.50 558.05,132.35 558.30,147.00 558.54,138.66 558.78,147.14 559.03,149.97 559.27,146.61 559.52,142.72 559.76,139.76 560.01,137.96 560.25,138.42 560.50,142.70 560.74,125.95 560.99,132.72 561.23,135.74 561.48,127.05 561.72,130.51 561.97,135.08 562.21,137.44 562.46,128.74 562.70,143.12 562.95,148.62 563.19,141.76 563.44,152.50 563.68,149.57 563.92,135.51 564.17,141.00 564.41,140.62 564.66,136.15 564.90,146.14 565.15,141.48 565.39,143.83 565.64,148.51 565.88,144.60 566.13,141.56 566.37,143.17 566.62,145.45 566.86,136.34 567.11,131.75 567.35,134.91 567.60,140.07 567.84,147.17 568.09,147.79 568.33,149.01 568.57,141.75 568.82,134.77 569.06,133.30 569.31,138.90 569.55,143.02 569.80,140.42 570.04,139.58 570.29,136.87 570.53,130.62 570.78,141.66 571.02,129.63 571.27,148.82 571.51,155.75 571.76,153.48 572.00,150.00 572.25,144.25 572.49,128.84 572.74,140.51 572.98,135.57 573.23,140.52 573.47,140.54 573.71,146.47 573.96,129.28 574.20,136.13 574.45,144.44 574.69,128.40 574.94,134.81 575.18,137.82 575.43,140.68 575.67,145.95 575.92,150.98 576.16,144.75 576.41,131.40 576.65,134.76 576.90,140.84 577.14,134.72 577.39,144.02 577.63,134.43 577.88,137.88 578.12,145.68 578.36,138.38 578.61,136.17 578.85,141.64 579.10,140.12 579.34,134.38 579.59,130.21 579.83,142.77 580.08,158.17 580.32,133.99 580.57,137.92 580.81,143.71 581.06,138.98 581.30,142.31 581.55,135.34 581.79,145.90 582.04,144.51 582.28,148.60 582.53,134.20 582.77,138.91 583.02,134.61 583.26,130.05 583.50,144.87 583.75,144.49 583.99,136.81 584.24,138.83 584.48,141.34 584.73,135.89 584.97,133.41 585.22,142.25 585.46,142.69 585.71,137.05 585.95,138.00 586.20,139.34 586.44,147.03 586.69,132.50 586.93,138.29 587.18,139.51 587.42,140.26 587.67,140.30 587.91,139.57 588.15,145.29 588.40,140.11 588.64,132.62 588.89,135.67 589.13,135.42 589.38,136.17 589.62,139.39 589.87,129.68 590.11,140.84 590.36,139.73 590.60,133.63 590.85,136.67 591.09,146.26 591.34,149.30 591.58,133.52 591.83,143.00 592.07,142.54 592.32,137.30 592.56,138.86 592.81,151.00 593.05,155.67 593.29,145.20 593.54,145.41 593.78,143.75 594.03,140.56 594.27,139.38 594.52,148.21 594.76,153.43 595.01,138.47 595.25,142.32 595.50,148.88 595.74,154.96 595.99,141.54 596.23,146.94 596.48,149.45 596.72,139.00 596.97,137.37 597.21,136.50 597.46,146.91 597.70,160.36 597.94,152.48 598.19,144.39 598.43,145.11 598.68,136.57 598.92,136.46 599.17,145.99 599.41,139.31 599.66,140.18 599.90,143.70 600.15,134.78 600.39,148.12 600.64,137.82 600.88,131.75 601.13,150.49 601.37,145.96 601.62,141.84 601.86,147.60 602.11,146.30 602.35,146.54 602.60,141.79 602.84,143.67 603.08,154.48 603.33,137.81 603.57,132.53 603.82,143.55 604.06,136.95 604.31,126.43 604.55,145.48 604.80,146.18 605.04,144.41 605.29,138.17 605.53,141.05 605.78,149.46 606.02,135.80 606.27,139.67 606.51,136.70 606.76,125.09 607.00,140.02 607.25,144.45 607.49,135.77 607.73,139.09 607.98,137.47 608.22,139.29 608.47,123.50 608.71,130.58 608.96,136.94 609.20,138.87 609.45,137.76 609.69,149.34 609.94,145.45 610.18,136.44 610.43,146.01 610.67,142.64 610.92,140.82 611.16,143.63 611.41,126.37 611.65,130.70 611.90,136.80 612.14,144.35 612.39,141.48 612.63,141.93 612.87,141.48 613.12,139.16 613.36,124.73 613.61,126.89 613.85,127.14 614.10,128.37 614.34,120.33 614.59,138.25 614.83,149.43 615.08,141.75 615.32,138.26 615.57,139.50 615.81,143.94 616.06,137.44 616.30,128.38 616.55,135.24 616.79,141.13 617.04,133.50 617.28,139.52 617.52,143.01 617.77,139.06 618.01,153.31 618.26,133.70 618.50,136.83 618.75,137.48 618.99,137.75 619.24,137.99 619.48,148.68 619.73,134.03 619.97,135.01 620.22,139.59 620.46,123.35 620.71,144.31 620.95,141.97 621.20,143.13 621.44,153.75 621.69,136.35 621.93,150.49" fill="none" stroke="#118211" stroke-width="0.6" stroke-linejoin="round"/>
<rect x="370.7" y="5.9" width="263.09999999999997" height="170.9" fill="none" stroke="#7f7f7f" stroke-width="1.3"/>
<line x1="368.09999999999997" y1="168.75" x2="370.7" y2="168.75" stroke="#7f7f7f" stroke-width="1"/>
<text x="365.10" y="171.85" font-size="8.8" text-anchor="end" fill="#262626" font-weight="normal" textLength="20.60" lengthAdjust="spacingAndGlyphs" >−500</text>
<line x1="368.09999999999997" y1="147.25" x2="370.7" y2="147.25" stroke="#7f7f7f" stroke-width="1"/>
<text x="365.10" y="150.35" font-size="8.8" text-anchor="end" fill="#262626" font-weight="normal" textLength="4.95" lengthAdjust="spacingAndGlyphs" >0</text>
<line x1="368.09999999999997" y1="125.75" x2="370.7" y2="125.75" stroke="#7f7f7f" stroke-width="1"/>
<text x="365.10" y="128.85" font-size="8.8" text-anchor="end" fill="#262626" font-weight="normal" textLength="14.85" lengthAdjust="spacingAndGlyphs" >500</text>
<line x1="368.09999999999997" y1="104.25" x2="370.7" y2="104.25" stroke="#7f7f7f" stroke-width="1"/>
<text x="365.10" y="107.35" font-size="8.8" text-anchor="end" fill="#262626" font-weight="normal" textLength="19.80" lengthAdjust="spacingAndGlyphs" >1000</text>
<line x1="368.09999999999997" y1="82.75" x2="370.7" y2="82.75" stroke="#7f7f7f" stroke-width="1"/>
<text x="365.10" y="85.85" font-size="8.8" text-anchor="end" fill="#262626" font-weight="normal" textLength="19.80" lengthAdjust="spacingAndGlyphs" >1500</text>
<line x1="368.09999999999997" y1="61.25" x2="370.7" y2="61.25" stroke="#7f7f7f" stroke-width="1"/>
<text x="365.10" y="64.35" font-size="8.8" text-anchor="end" fill="#262626" font-weight="normal" textLength="19.80" lengthAdjust="spacingAndGlyphs" >2000</text>
<line x1="368.09999999999997" y1="39.75" x2="370.7" y2="39.75" stroke="#7f7f7f" stroke-width="1"/>
<text x="365.10" y="42.85" font-size="8.8" text-anchor="end" fill="#262626" font-weight="normal" textLength="19.80" lengthAdjust="spacingAndGlyphs" >2500</text>
<line x1="368.09999999999997" y1="18.25" x2="370.7" y2="18.25" stroke="#7f7f7f" stroke-width="1"/>
<text x="365.10" y="21.35" font-size="8.8" text-anchor="end" fill="#262626" font-weight="normal" textLength="19.80" lengthAdjust="spacingAndGlyphs" >3000</text>
<line x1="397.25" y1="176.8" x2="397.25" y2="179.4" stroke="#7f7f7f" stroke-width="1"/>
<text x="397.45" y="188.50" font-size="8.8" text-anchor="middle" fill="#262626" font-weight="normal" textLength="19.9" lengthAdjust="spacingAndGlyphs" >1000</text>
<line x1="441.75" y1="176.8" x2="441.75" y2="179.4" stroke="#7f7f7f" stroke-width="1"/>
<text x="441.95" y="188.50" font-size="8.8" text-anchor="middle" fill="#262626" font-weight="normal" textLength="19.9" lengthAdjust="spacingAndGlyphs" >1200</text>
<line x1="486.25" y1="176.8" x2="486.25" y2="179.4" stroke="#7f7f7f" stroke-width="1"/>
<text x="486.45" y="188.50" font-size="8.8" text-anchor="middle" fill="#262626" font-weight="normal" textLength="19.9" lengthAdjust="spacingAndGlyphs" >1400</text>
<line x1="530.75" y1="176.8" x2="530.75" y2="179.4" stroke="#7f7f7f" stroke-width="1"/>
<text x="530.95" y="188.50" font-size="8.8" text-anchor="middle" fill="#262626" font-weight="normal" textLength="19.9" lengthAdjust="spacingAndGlyphs" >1600</text>
<line x1="575.25" y1="176.8" x2="575.25" y2="179.4" stroke="#7f7f7f" stroke-width="1"/>
<text x="575.45" y="188.50" font-size="8.8" text-anchor="middle" fill="#262626" font-weight="normal" textLength="19.9" lengthAdjust="spacingAndGlyphs" >1800</text>
<line x1="619.75" y1="176.8" x2="619.75" y2="179.4" stroke="#7f7f7f" stroke-width="1"/>
<text x="619.95" y="188.50" font-size="8.8" text-anchor="middle" fill="#262626" font-weight="normal" textLength="19.9" lengthAdjust="spacingAndGlyphs" >2000</text>
<text x="377.20" y="27.30" font-size="17.5" text-anchor="start" fill="#000" font-weight="bold" textLength="30.5" lengthAdjust="spacingAndGlyphs" >(b)</text>
<text x="453.30" y="27.10" font-size="13.5" text-anchor="start" fill="#262626" font-weight="normal" textLength="9.6" lengthAdjust="spacingAndGlyphs" >D</text>
<text x="534.60" y="35.70" font-size="13.5" text-anchor="start" fill="#262626" font-weight="normal" textLength="10.2" lengthAdjust="spacingAndGlyphs" >G</text>
<text x="553.50" y="82.80" font-size="13.2" fill="#262626" text-anchor="start" textLength="66.9" lengthAdjust="spacingAndGlyphs" >I<tspan font-size="8.6" dy="2.1">D</tspan><tspan dy="-2.1">/I</tspan><tspan font-size="8.6" dy="2.1">G</tspan><tspan dy="-2.1">= 1.11</tspan></text>
<text x="464.9" y="199.9" font-size="8.8" fill="#262626" textLength="76" lengthAdjust="spacingAndGlyphs">Raman shift (cm<tspan font-size="6.2" dy="-3">−1</tspan><tspan dy="3">)</tspan></text>
<text transform="translate(338.7,91.3) rotate(-90)" x="0" y="0" font-size="8.8" text-anchor="middle" fill="#262626" textLength="57.6" lengthAdjust="spacingAndGlyphs">Intensity (a.u.)</text>
<g filter="url(#bl11)">
<rect x="7.50" y="238.30" width="4.30" height="4.31" fill="#8264f4"/>
<rect x="11.50" y="238.30" width="4.30" height="4.31" fill="#9891f0"/>
<rect x="15.50" y="238.30" width="4.30" height="4.31" fill="#6e3dec"/>
<rect x="19.50" y="238.30" width="4.30" height="4.31" fill="#703ff6"/>
<rect x="23.50" y="238.30" width="4.30" height="4.31" fill="#d5f9f6"/>
<rect x="27.50" y="238.30" width="4.30" height="4.31" fill="#a6adf0"/>
<rect x="31.50" y="238.30" width="4.30" height="4.31" fill="#500820"/>
<rect x="35.50" y="238.30" width="4.30" height="4.31" fill="#4f0000"/>
<rect x="39.50" y="238.30" width="4.30" height="4.31" fill="#f8ff40"/>
<rect x="43.50" y="238.30" width="4.30" height="4.31" fill="#9e9cf0"/>
<rect x="47.50" y="238.30" width="4.30" height="4.31" fill="#8f7ff2"/>
<rect x="51.50" y="238.30" width="4.30" height="4.31" fill="#7c58f6"/>
<rect x="55.50" y="238.30" width="4.30" height="4.31" fill="#754af7"/>
<rect x="59.50" y="238.30" width="4.30" height="4.31" fill="#7953f6"/>
<rect x="63.50" y="238.30" width="4.30" height="4.31" fill="#a9b2f0"/>
<rect x="67.50" y="238.30" width="4.30" height="4.31" fill="#958bf1"/>
<rect x="71.50" y="238.30" width="4.30" height="4.31" fill="#6e3cea"/>
<rect x="75.50" y="238.30" width="4.30" height="4.31" fill="#6b38d8"/>
<rect x="79.50" y="238.30" width="4.30" height="4.31" fill="#d9fbf8"/>
<rect x="83.50" y="238.30" width="4.30" height="4.31" fill="#c5e3f3"/>
<rect x="87.50" y="238.30" width="4.30" height="4.31" fill="#acb9f0"/>
<rect x="91.50" y="238.30" width="4.30" height="4.31" fill="#8d7bf2"/>
<rect x="95.50" y="238.30" width="4.30" height="4.31" fill="#b3c6f0"/>
<rect x="99.50" y="238.30" width="4.30" height="4.31" fill="#aebdf0"/>
<rect x="103.50" y="238.30" width="4.30" height="4.31" fill="#c6e4f3"/>
<rect x="107.50" y="238.30" width="4.30" height="4.31" fill="#7a53f6"/>
<rect x="111.50" y="238.30" width="4.30" height="4.31" fill="#a6acf0"/>
<rect x="115.50" y="238.30" width="4.30" height="4.31" fill="#a7aff0"/>
<rect x="119.50" y="238.30" width="4.30" height="4.31" fill="#6d3ce8"/>
<rect x="123.50" y="238.30" width="4.30" height="4.31" fill="#9d9af0"/>
<rect x="127.50" y="238.30" width="4.30" height="4.31" fill="#6a38d6"/>
<rect x="131.50" y="238.30" width="4.30" height="4.31" fill="#d9fcf9"/>
<rect x="135.50" y="238.30" width="4.30" height="4.31" fill="#530513"/>
<rect x="139.50" y="238.30" width="4.30" height="4.31" fill="#51071e"/>
<rect x="143.50" y="238.30" width="4.30" height="4.31" fill="#d8fbf8"/>
<rect x="147.50" y="238.30" width="4.30" height="4.31" fill="#dafcf9"/>
<rect x="151.50" y="238.30" width="4.30" height="4.31" fill="#7448f7"/>
<rect x="155.50" y="238.30" width="4.30" height="4.31" fill="#6e3dec"/>
<rect x="159.50" y="238.30" width="4.30" height="4.31" fill="#7040f6"/>
<rect x="163.50" y="238.30" width="4.30" height="4.31" fill="#8060f5"/>
<rect x="167.50" y="238.30" width="4.30" height="4.31" fill="#c9e9f4"/>
<rect x="171.50" y="238.30" width="4.30" height="4.31" fill="#bcd6f1"/>
<rect x="175.50" y="238.30" width="4.30" height="4.31" fill="#ff4000"/>
<rect x="179.50" y="238.30" width="4.30" height="4.31" fill="#dafcfa"/>
<rect x="183.50" y="238.30" width="4.30" height="4.31" fill="#500925"/>
<rect x="187.50" y="238.30" width="4.30" height="4.31" fill="#7448f7"/>
<rect x="191.50" y="238.30" width="4.30" height="4.31" fill="#cff1f5"/>
<rect x="195.50" y="238.30" width="4.30" height="4.31" fill="#8c78f2"/>
<rect x="199.50" y="238.30" width="4.30" height="4.31" fill="#7447f7"/>
<rect x="203.50" y="238.30" width="4.30" height="4.31" fill="#cff2f5"/>
<rect x="207.50" y="238.30" width="4.30" height="4.31" fill="#5e2693"/>
<rect x="211.50" y="238.30" width="4.30" height="4.31" fill="#8264f4"/>
<rect x="215.50" y="238.30" width="4.30" height="4.31" fill="#7c59f6"/>
<rect x="219.50" y="238.30" width="4.30" height="4.31" fill="#6f3eef"/>
<rect x="223.50" y="238.30" width="4.30" height="4.31" fill="#c6e4f3"/>
<rect x="227.50" y="238.30" width="4.30" height="4.31" fill="#6d3be5"/>
<rect x="231.50" y="238.30" width="4.30" height="4.31" fill="#ceeff5"/>
<rect x="235.50" y="238.30" width="4.30" height="4.31" fill="#c3e0f2"/>
<rect x="239.50" y="238.30" width="4.30" height="4.31" fill="#bcd5f1"/>
<rect x="243.50" y="238.30" width="4.30" height="4.31" fill="#703ff5"/>
<rect x="247.50" y="238.30" width="4.30" height="4.31" fill="#500a27"/>
<rect x="251.50" y="238.30" width="4.30" height="4.31" fill="#9c99f0"/>
<rect x="255.50" y="238.30" width="4.30" height="4.31" fill="#8569f4"/>
<rect x="259.50" y="238.30" width="4.30" height="4.31" fill="#6b38da"/>
<rect x="263.50" y="238.30" width="4.30" height="4.31" fill="#7448f7"/>
<rect x="267.50" y="238.30" width="4.30" height="4.31" fill="#6f3ff4"/>
<rect x="7.50" y="242.31" width="4.30" height="4.31" fill="#abb6f0"/>
<rect x="11.50" y="242.31" width="4.30" height="4.31" fill="#6c3ade"/>
<rect x="15.50" y="242.31" width="4.30" height="4.31" fill="#c3e0f2"/>
<rect x="19.50" y="242.31" width="4.30" height="4.31" fill="#7850f6"/>
<rect x="23.50" y="242.31" width="4.30" height="4.31" fill="#d8fbf8"/>
<rect x="27.50" y="242.31" width="4.30" height="4.31" fill="#d6f9f7"/>
<rect x="31.50" y="242.31" width="4.30" height="4.31" fill="#8060f5"/>
<rect x="35.50" y="242.31" width="4.30" height="4.31" fill="#cbebf4"/>
<rect x="39.50" y="242.31" width="4.30" height="4.31" fill="#bcd5f1"/>
<rect x="43.50" y="242.31" width="4.30" height="4.31" fill="#9181f1"/>
<rect x="47.50" y="242.31" width="4.30" height="4.31" fill="#7d5af5"/>
<rect x="51.50" y="242.31" width="4.30" height="4.31" fill="#c7e5f3"/>
<rect x="55.50" y="242.31" width="4.30" height="4.31" fill="#a1a1f0"/>
<rect x="59.50" y="242.31" width="4.30" height="4.31" fill="#7448f7"/>
<rect x="63.50" y="242.31" width="4.30" height="4.31" fill="#a0a1f0"/>
<rect x="67.50" y="242.31" width="4.30" height="4.31" fill="#bbd5f1"/>
<rect x="71.50" y="242.31" width="4.30" height="4.31" fill="#4d0000"/>
<rect x="75.50" y="242.31" width="4.30" height="4.31" fill="#bdd7f1"/>
<rect x="79.50" y="242.31" width="4.30" height="4.31" fill="#c0dbf2"/>
<rect x="83.50" y="242.31" width="4.30" height="4.31" fill="#b2c3f0"/>
<rect x="87.50" y="242.31" width="4.30" height="4.31" fill="#cae9f4"/>
<rect x="91.50" y="242.31" width="4.30" height="4.31" fill="#bcd5f1"/>
<rect x="95.50" y="242.31" width="4.30" height="4.31" fill="#a7aef0"/>
<rect x="99.50" y="242.31" width="4.30" height="4.31" fill="#856af4"/>
<rect x="103.50" y="242.31" width="4.30" height="4.31" fill="#968cf0"/>
<rect x="107.50" y="242.31" width="4.30" height="4.31" fill="#acb7f0"/>
<rect x="111.50" y="242.31" width="4.30" height="4.31" fill="#642fb2"/>
<rect x="115.50" y="242.31" width="4.30" height="4.31" fill="#aab3f0"/>
<rect x="119.50" y="242.31" width="4.30" height="4.31" fill="#c5e2f3"/>
<rect x="123.50" y="242.31" width="4.30" height="4.31" fill="#d9fcf9"/>
<rect x="127.50" y="242.31" width="4.30" height="4.31" fill="#a4a8f0"/>
<rect x="131.50" y="242.31" width="4.30" height="4.31" fill="#c2def2"/>
<rect x="135.50" y="242.31" width="4.30" height="4.31" fill="#570000"/>
<rect x="139.50" y="242.31" width="4.30" height="4.31" fill="#6d3be5"/>
<rect x="143.50" y="242.31" width="4.30" height="4.31" fill="#c3e0f2"/>
<rect x="147.50" y="242.31" width="4.30" height="4.31" fill="#d4f8f6"/>
<rect x="151.50" y="242.31" width="4.30" height="4.31" fill="#8468f4"/>
<rect x="155.50" y="242.31" width="4.30" height="4.31" fill="#9f9ef0"/>
<rect x="159.50" y="242.31" width="4.30" height="4.31" fill="#8c79f2"/>
<rect x="163.50" y="242.31" width="4.30" height="4.31" fill="#b7cef0"/>
<rect x="167.50" y="242.31" width="4.30" height="4.31" fill="#a9b3f0"/>
<rect x="171.50" y="242.31" width="4.30" height="4.31" fill="#9b97f0"/>
<rect x="175.50" y="242.31" width="4.30" height="4.31" fill="#9992f0"/>
<rect x="179.50" y="242.31" width="4.30" height="4.31" fill="#d9fbf8"/>
<rect x="183.50" y="242.31" width="4.30" height="4.31" fill="#b7cdf0"/>
<rect x="187.50" y="242.31" width="4.30" height="4.31" fill="#8469f4"/>
<rect x="191.50" y="242.31" width="4.30" height="4.31" fill="#6833c6"/>
<rect x="195.50" y="242.31" width="4.30" height="4.31" fill="#d4f8f6"/>
<rect x="199.50" y="242.31" width="4.30" height="4.31" fill="#d9fbf8"/>
<rect x="203.50" y="242.31" width="4.30" height="4.31" fill="#a8b1f0"/>
<rect x="207.50" y="242.31" width="4.30" height="4.31" fill="#7346f7"/>
<rect x="211.50" y="242.31" width="4.30" height="4.31" fill="#8162f5"/>
<rect x="215.50" y="242.31" width="4.30" height="4.31" fill="#6b39dc"/>
<rect x="219.50" y="242.31" width="4.30" height="4.31" fill="#9f9ef0"/>
<rect x="223.50" y="242.31" width="4.30" height="4.31" fill="#bed8f1"/>
<rect x="227.50" y="242.31" width="4.30" height="4.31" fill="#530516"/>
<rect x="231.50" y="242.31" width="4.30" height="4.31" fill="#d7faf7"/>
<rect x="235.50" y="242.31" width="4.30" height="4.31" fill="#a6acf0"/>
<rect x="239.50" y="242.31" width="4.30" height="4.31" fill="#7b56f6"/>
<rect x="243.50" y="242.31" width="4.30" height="4.31" fill="#774df7"/>
<rect x="247.50" y="242.31" width="4.30" height="4.31" fill="#968bf0"/>
<rect x="251.50" y="242.31" width="4.30" height="4.31" fill="#7a54f6"/>
<rect x="255.50" y="242.31" width="4.30" height="4.31" fill="#9283f1"/>
<rect x="259.50" y="242.31" width="4.30" height="4.31" fill="#a6acf0"/>
<rect x="263.50" y="242.31" width="4.30" height="4.31" fill="#6a37d5"/>
<rect x="267.50" y="242.31" width="4.30" height="4.31" fill="#b1c2f0"/>
<rect x="7.50" y="246.31" width="4.30" height="4.31" fill="#d6faf7"/>
<rect x="11.50" y="246.31" width="4.30" height="4.31" fill="#b7cff0"/>
<rect x="15.50" y="246.31" width="4.30" height="4.31" fill="#510000"/>
<rect x="19.50" y="246.31" width="4.30" height="4.31" fill="#7f5ef5"/>
<rect x="23.50" y="246.31" width="4.30" height="4.31" fill="#dafcf9"/>
<rect x="27.50" y="246.31" width="4.30" height="4.31" fill="#e0ffff"/>
<rect x="31.50" y="246.31" width="4.30" height="4.31" fill="#764bf7"/>
<rect x="35.50" y="246.31" width="4.30" height="4.31" fill="#9181f1"/>
<rect x="39.50" y="246.31" width="4.30" height="4.31" fill="#d9fbf9"/>
<rect x="43.50" y="246.31" width="4.30" height="4.31" fill="#d4f8f6"/>
<rect x="47.50" y="246.31" width="4.30" height="4.31" fill="#6833c5"/>
<rect x="51.50" y="246.31" width="4.30" height="4.31" fill="#c7e6f3"/>
<rect x="55.50" y="246.31" width="4.30" height="4.31" fill="#bdd7f1"/>
<rect x="59.50" y="246.31" width="4.30" height="4.31" fill="#c9e9f4"/>
<rect x="63.50" y="246.31" width="4.30" height="4.31" fill="#b5caf0"/>
<rect x="67.50" y="246.31" width="4.30" height="4.31" fill="#805ff5"/>
<rect x="71.50" y="246.31" width="4.30" height="4.31" fill="#d8fbf8"/>
<rect x="75.50" y="246.31" width="4.30" height="4.31" fill="#c4e1f3"/>
<rect x="79.50" y="246.31" width="4.30" height="4.31" fill="#9b96f0"/>
<rect x="83.50" y="246.31" width="4.30" height="4.31" fill="#afbef0"/>
<rect x="87.50" y="246.31" width="4.30" height="4.31" fill="#7952f6"/>
<rect x="91.50" y="246.31" width="4.30" height="4.31" fill="#b8d0f0"/>
<rect x="95.50" y="246.31" width="4.30" height="4.31" fill="#c3e0f2"/>
<rect x="99.50" y="246.31" width="4.30" height="4.31" fill="#a5abf0"/>
<rect x="103.50" y="246.31" width="4.30" height="4.31" fill="#d5f9f6"/>
<rect x="107.50" y="246.31" width="4.30" height="4.31" fill="#6e3dea"/>
<rect x="111.50" y="246.31" width="4.30" height="4.31" fill="#d8fbf8"/>
<rect x="115.50" y="246.31" width="4.30" height="4.31" fill="#866df4"/>
<rect x="119.50" y="246.31" width="4.30" height="4.31" fill="#adb9f0"/>
<rect x="123.50" y="246.31" width="4.30" height="4.31" fill="#764bf7"/>
<rect x="127.50" y="246.31" width="4.30" height="4.31" fill="#d0f2f5"/>
<rect x="131.50" y="246.31" width="4.30" height="4.31" fill="#bdd7f1"/>
<rect x="135.50" y="246.31" width="4.30" height="4.31" fill="#a9b3f0"/>
<rect x="139.50" y="246.31" width="4.30" height="4.31" fill="#7c58f6"/>
<rect x="143.50" y="246.31" width="4.30" height="4.31" fill="#6c3adf"/>
<rect x="147.50" y="246.31" width="4.30" height="4.31" fill="#9d9af0"/>
<rect x="151.50" y="246.31" width="4.30" height="4.31" fill="#866bf4"/>
<rect x="155.50" y="246.31" width="4.30" height="4.31" fill="#9f9df0"/>
<rect x="159.50" y="246.31" width="4.30" height="4.31" fill="#9b97f0"/>
<rect x="163.50" y="246.31" width="4.30" height="4.31" fill="#dafcfa"/>
<rect x="167.50" y="246.31" width="4.30" height="4.31" fill="#bdd7f1"/>
<rect x="171.50" y="246.31" width="4.30" height="4.31" fill="#bad3f0"/>
<rect x="175.50" y="246.31" width="4.30" height="4.31" fill="#d7faf7"/>
<rect x="179.50" y="246.31" width="4.30" height="4.31" fill="#dafcf9"/>
<rect x="183.50" y="246.31" width="4.30" height="4.31" fill="#9f9df0"/>
<rect x="187.50" y="246.31" width="4.30" height="4.31" fill="#7d5af5"/>
<rect x="191.50" y="246.31" width="4.30" height="4.31" fill="#a6acf0"/>
<rect x="195.50" y="246.31" width="4.30" height="4.31" fill="#9283f1"/>
<rect x="199.50" y="246.31" width="4.30" height="4.31" fill="#abb6f0"/>
<rect x="203.50" y="246.31" width="4.30" height="4.31" fill="#7e5cf5"/>
<rect x="207.50" y="246.31" width="4.30" height="4.31" fill="#cff0f5"/>
<rect x="211.50" y="246.31" width="4.30" height="4.31" fill="#9d9bf0"/>
<rect x="215.50" y="246.31" width="4.30" height="4.31" fill="#652fb5"/>
<rect x="219.50" y="246.31" width="4.30" height="4.31" fill="#ccecf4"/>
<rect x="223.50" y="246.31" width="4.30" height="4.31" fill="#6e3deb"/>
<rect x="227.50" y="246.31" width="4.30" height="4.31" fill="#7a55f6"/>
<rect x="231.50" y="246.31" width="4.30" height="4.31" fill="#d1f4f5"/>
<rect x="235.50" y="246.31" width="4.30" height="4.31" fill="#50103f"/>
<rect x="239.50" y="246.31" width="4.30" height="4.31" fill="#aebbf0"/>
<rect x="243.50" y="246.31" width="4.30" height="4.31" fill="#bcd6f1"/>
<rect x="247.50" y="246.31" width="4.30" height="4.31" fill="#7448f7"/>
<rect x="251.50" y="246.31" width="4.30" height="4.31" fill="#c2def2"/>
<rect x="255.50" y="246.31" width="4.30" height="4.31" fill="#6f3eef"/>
<rect x="259.50" y="246.31" width="4.30" height="4.31" fill="#7952f6"/>
<rect x="263.50" y="246.31" width="4.30" height="4.31" fill="#c9e8f4"/>
<rect x="267.50" y="246.31" width="4.30" height="4.31" fill="#d7faf7"/>
<rect x="7.50" y="250.32" width="4.30" height="4.31" fill="#d7faf7"/>
<rect x="11.50" y="250.32" width="4.30" height="4.31" fill="#d8fbf8"/>
<rect x="15.50" y="250.32" width="4.30" height="4.31" fill="#856bf4"/>
<rect x="19.50" y="250.32" width="4.30" height="4.31" fill="#9e9bf0"/>
<rect x="23.50" y="250.32" width="4.30" height="4.31" fill="#ddfdfc"/>
<rect x="27.50" y="250.32" width="4.30" height="4.31" fill="#e1fffd"/>
<rect x="31.50" y="250.32" width="4.30" height="4.31" fill="#bed9f1"/>
<rect x="35.50" y="250.32" width="4.30" height="4.31" fill="#ccedf4"/>
<rect x="39.50" y="250.32" width="4.30" height="4.31" fill="#9c98f0"/>
<rect x="43.50" y="250.32" width="4.30" height="4.31" fill="#7a53f6"/>
<rect x="47.50" y="250.32" width="4.30" height="4.31" fill="#7346f7"/>
<rect x="51.50" y="250.32" width="4.30" height="4.31" fill="#570102"/>
<rect x="55.50" y="250.32" width="4.30" height="4.31" fill="#c1ddf2"/>
<rect x="59.50" y="250.32" width="4.30" height="4.31" fill="#8e7bf2"/>
<rect x="63.50" y="250.32" width="4.30" height="4.31" fill="#a1a2f0"/>
<rect x="67.50" y="250.32" width="4.30" height="4.31" fill="#774ef7"/>
<rect x="71.50" y="250.32" width="4.30" height="4.31" fill="#ddfdfc"/>
<rect x="75.50" y="250.32" width="4.30" height="4.31" fill="#6c3ade"/>
<rect x="79.50" y="250.32" width="4.30" height="4.31" fill="#764cf7"/>
<rect x="83.50" y="250.32" width="4.30" height="4.31" fill="#8d7bf2"/>
<rect x="87.50" y="250.32" width="4.30" height="4.31" fill="#7c59f6"/>
<rect x="91.50" y="250.32" width="4.30" height="4.31" fill="#520618"/>
<rect x="95.50" y="250.32" width="4.30" height="4.31" fill="#9081f2"/>
<rect x="99.50" y="250.32" width="4.30" height="4.31" fill="#7850f6"/>
<rect x="103.50" y="250.32" width="4.30" height="4.31" fill="#b1c3f0"/>
<rect x="107.50" y="250.32" width="4.30" height="4.31" fill="#dcfdfb"/>
<rect x="111.50" y="250.32" width="4.30" height="4.31" fill="#cae9f4"/>
<rect x="115.50" y="250.32" width="4.30" height="4.31" fill="#c8e8f4"/>
<rect x="119.50" y="250.32" width="4.30" height="4.31" fill="#d5f8f6"/>
<rect x="123.50" y="250.32" width="4.30" height="4.31" fill="#c9e8f4"/>
<rect x="127.50" y="250.32" width="4.30" height="4.31" fill="#c5e3f3"/>
<rect x="131.50" y="250.32" width="4.30" height="4.31" fill="#8972f3"/>
<rect x="135.50" y="250.32" width="4.30" height="4.31" fill="#caeaf4"/>
<rect x="139.50" y="250.32" width="4.30" height="4.31" fill="#9c97f0"/>
<rect x="143.50" y="250.32" width="4.30" height="4.31" fill="#9891f0"/>
<rect x="147.50" y="250.32" width="4.30" height="4.31" fill="#7b57f6"/>
<rect x="151.50" y="250.32" width="4.30" height="4.31" fill="#b9d2f0"/>
<rect x="155.50" y="250.32" width="4.30" height="4.31" fill="#c9e8f4"/>
<rect x="159.50" y="250.32" width="4.30" height="4.31" fill="#d9fbf9"/>
<rect x="163.50" y="250.32" width="4.30" height="4.31" fill="#c7e5f3"/>
<rect x="167.50" y="250.32" width="4.30" height="4.31" fill="#b2c3f0"/>
<rect x="171.50" y="250.32" width="4.30" height="4.31" fill="#d3f7f6"/>
<rect x="175.50" y="250.32" width="4.30" height="4.31" fill="#bbd5f1"/>
<rect x="179.50" y="250.32" width="4.30" height="4.31" fill="#c9e9f4"/>
<rect x="183.50" y="250.32" width="4.30" height="4.31" fill="#8366f4"/>
<rect x="187.50" y="250.32" width="4.30" height="4.31" fill="#d1f4f5"/>
<rect x="191.50" y="250.32" width="4.30" height="4.31" fill="#c8e7f3"/>
<rect x="195.50" y="250.32" width="4.30" height="4.31" fill="#8973f3"/>
<rect x="199.50" y="250.32" width="4.30" height="4.31" fill="#a8aff0"/>
<rect x="203.50" y="250.32" width="4.30" height="4.31" fill="#7c58f6"/>
<rect x="207.50" y="250.32" width="4.30" height="4.31" fill="#570106"/>
<rect x="211.50" y="250.32" width="4.30" height="4.31" fill="#aebcf0"/>
<rect x="215.50" y="250.32" width="4.30" height="4.31" fill="#8d7bf2"/>
<rect x="219.50" y="250.32" width="4.30" height="4.31" fill="#6e3ded"/>
<rect x="223.50" y="250.32" width="4.30" height="4.31" fill="#6733c2"/>
<rect x="227.50" y="250.32" width="4.30" height="4.31" fill="#580001"/>
<rect x="231.50" y="250.32" width="4.30" height="4.31" fill="#b7cdf0"/>
<rect x="235.50" y="250.32" width="4.30" height="4.31" fill="#8d7af2"/>
<rect x="239.50" y="250.32" width="4.30" height="4.31" fill="#dafcfa"/>
<rect x="243.50" y="250.32" width="4.30" height="4.31" fill="#d5f9f7"/>
<rect x="247.50" y="250.32" width="4.30" height="4.31" fill="#754bf7"/>
<rect x="251.50" y="250.32" width="4.30" height="4.31" fill="#7d5bf5"/>
<rect x="255.50" y="250.32" width="4.30" height="4.31" fill="#a9b1f0"/>
<rect x="259.50" y="250.32" width="4.30" height="4.31" fill="#cbecf4"/>
<rect x="263.50" y="250.32" width="4.30" height="4.31" fill="#b4c9f0"/>
<rect x="267.50" y="250.32" width="4.30" height="4.31" fill="#d2f6f6"/>
<rect x="7.50" y="254.32" width="4.30" height="4.31" fill="#622ba4"/>
<rect x="11.50" y="254.32" width="4.30" height="4.31" fill="#420000"/>
<rect x="15.50" y="254.32" width="4.30" height="4.31" fill="#a2a4f0"/>
<rect x="19.50" y="254.32" width="4.30" height="4.31" fill="#c2dff2"/>
<rect x="23.50" y="254.32" width="4.30" height="4.31" fill="#6d3ce9"/>
<rect x="27.50" y="254.32" width="4.30" height="4.31" fill="#774ef7"/>
<rect x="31.50" y="254.32" width="4.30" height="4.31" fill="#978ff0"/>
<rect x="35.50" y="254.32" width="4.30" height="4.31" fill="#500820"/>
<rect x="39.50" y="254.32" width="4.30" height="4.31" fill="#6c3ae0"/>
<rect x="43.50" y="254.32" width="4.30" height="4.31" fill="#6e3deb"/>
<rect x="47.50" y="254.32" width="4.30" height="4.31" fill="#6c3ae1"/>
<rect x="51.50" y="254.32" width="4.30" height="4.31" fill="#9b96f0"/>
<rect x="55.50" y="254.32" width="4.30" height="4.31" fill="#b4c7f0"/>
<rect x="59.50" y="254.32" width="4.30" height="4.31" fill="#8060f5"/>
<rect x="63.50" y="254.32" width="4.30" height="4.31" fill="#7b55f6"/>
<rect x="67.50" y="254.32" width="4.30" height="4.31" fill="#bad3f0"/>
<rect x="71.50" y="254.32" width="4.30" height="4.31" fill="#bfdaf1"/>
<rect x="75.50" y="254.32" width="4.30" height="4.31" fill="#ceeff5"/>
<rect x="79.50" y="254.32" width="4.30" height="4.31" fill="#500821"/>
<rect x="83.50" y="254.32" width="4.30" height="4.31" fill="#6b39dc"/>
<rect x="87.50" y="254.32" width="4.30" height="4.31" fill="#c3e0f2"/>
<rect x="91.50" y="254.32" width="4.30" height="4.31" fill="#d1f4f5"/>
<rect x="95.50" y="254.32" width="4.30" height="4.31" fill="#b3c6f0"/>
<rect x="99.50" y="254.32" width="4.30" height="4.31" fill="#d8fbf8"/>
<rect x="103.50" y="254.32" width="4.30" height="4.31" fill="#adbbf0"/>
<rect x="107.50" y="254.32" width="4.30" height="4.31" fill="#acb8f0"/>
<rect x="111.50" y="254.32" width="4.30" height="4.31" fill="#b8d0f0"/>
<rect x="115.50" y="254.32" width="4.30" height="4.31" fill="#866cf4"/>
<rect x="119.50" y="254.32" width="4.30" height="4.31" fill="#9c97f0"/>
<rect x="123.50" y="254.32" width="4.30" height="4.31" fill="#6d3be5"/>
<rect x="127.50" y="254.32" width="4.30" height="4.31" fill="#6631bd"/>
<rect x="131.50" y="254.32" width="4.30" height="4.31" fill="#8467f4"/>
<rect x="135.50" y="254.32" width="4.30" height="4.31" fill="#dbfcfa"/>
<rect x="139.50" y="254.32" width="4.30" height="4.31" fill="#a6acf0"/>
<rect x="143.50" y="254.32" width="4.30" height="4.31" fill="#978ef0"/>
<rect x="147.50" y="254.32" width="4.30" height="4.31" fill="#c7e5f3"/>
<rect x="151.50" y="254.32" width="4.30" height="4.31" fill="#d1f4f5"/>
<rect x="155.50" y="254.32" width="4.30" height="4.31" fill="#dbfcfa"/>
<rect x="159.50" y="254.32" width="4.30" height="4.31" fill="#9387f1"/>
<rect x="163.50" y="254.32" width="4.30" height="4.31" fill="#6b38d8"/>
<rect x="167.50" y="254.32" width="4.30" height="4.31" fill="#9a95f0"/>
<rect x="171.50" y="254.32" width="4.30" height="4.31" fill="#bfdaf2"/>
<rect x="175.50" y="254.32" width="4.30" height="4.31" fill="#500d34"/>
<rect x="179.50" y="254.32" width="4.30" height="4.31" fill="#a5aaf0"/>
<rect x="183.50" y="254.32" width="4.30" height="4.31" fill="#866df4"/>
<rect x="187.50" y="254.32" width="4.30" height="4.31" fill="#500a28"/>
<rect x="191.50" y="254.32" width="4.30" height="4.31" fill="#abb7f0"/>
<rect x="195.50" y="254.32" width="4.30" height="4.31" fill="#d9fbf9"/>
<rect x="199.50" y="254.32" width="4.30" height="4.31" fill="#6d3be5"/>
<rect x="203.50" y="254.32" width="4.30" height="4.31" fill="#774df7"/>
<rect x="207.50" y="254.32" width="4.30" height="4.31" fill="#d5f9f7"/>
<rect x="211.50" y="254.32" width="4.30" height="4.31" fill="#7952f6"/>
<rect x="215.50" y="254.32" width="4.30" height="4.31" fill="#b7cef0"/>
<rect x="219.50" y="254.32" width="4.30" height="4.31" fill="#6b38da"/>
<rect x="223.50" y="254.32" width="4.30" height="4.31" fill="#a1a1f0"/>
<rect x="227.50" y="254.32" width="4.30" height="4.31" fill="#9992f0"/>
<rect x="231.50" y="254.32" width="4.30" height="4.31" fill="#8469f4"/>
<rect x="235.50" y="254.32" width="4.30" height="4.31" fill="#7448f7"/>
<rect x="239.50" y="254.32" width="4.30" height="4.31" fill="#8060f5"/>
<rect x="243.50" y="254.32" width="4.30" height="4.31" fill="#580002"/>
<rect x="247.50" y="254.32" width="4.30" height="4.31" fill="#8468f4"/>
<rect x="251.50" y="254.32" width="4.30" height="4.31" fill="#7a54f6"/>
<rect x="255.50" y="254.32" width="4.30" height="4.31" fill="#6631bd"/>
<rect x="259.50" y="254.32" width="4.30" height="4.31" fill="#784ff6"/>
<rect x="263.50" y="254.32" width="4.30" height="4.31" fill="#d8fbf8"/>
<rect x="267.50" y="254.32" width="4.30" height="4.31" fill="#d6faf7"/>
<rect x="7.50" y="258.33" width="4.30" height="4.31" fill="#4f0000"/>
<rect x="11.50" y="258.33" width="4.30" height="4.31" fill="#500924"/>
<rect x="15.50" y="258.33" width="4.30" height="4.31" fill="#8469f4"/>
<rect x="19.50" y="258.33" width="4.30" height="4.31" fill="#cff1f5"/>
<rect x="23.50" y="258.33" width="4.30" height="4.31" fill="#8973f3"/>
<rect x="27.50" y="258.33" width="4.30" height="4.31" fill="#876ff3"/>
<rect x="31.50" y="258.33" width="4.30" height="4.31" fill="#bcd6f1"/>
<rect x="35.50" y="258.33" width="4.30" height="4.31" fill="#540000"/>
<rect x="39.50" y="258.33" width="4.30" height="4.31" fill="#9b96f0"/>
<rect x="43.50" y="258.33" width="4.30" height="4.31" fill="#8367f4"/>
<rect x="47.50" y="258.33" width="4.30" height="4.31" fill="#cae9f4"/>
<rect x="51.50" y="258.33" width="4.30" height="4.31" fill="#6f3eef"/>
<rect x="55.50" y="258.33" width="4.30" height="4.31" fill="#ccedf4"/>
<rect x="59.50" y="258.33" width="4.30" height="4.31" fill="#d9fbf8"/>
<rect x="63.50" y="258.33" width="4.30" height="4.31" fill="#6733c4"/>
<rect x="67.50" y="258.33" width="4.30" height="4.31" fill="#9a94f0"/>
<rect x="71.50" y="258.33" width="4.30" height="4.31" fill="#9890f0"/>
<rect x="75.50" y="258.33" width="4.30" height="4.31" fill="#9c97f0"/>
<rect x="79.50" y="258.33" width="4.30" height="4.31" fill="#7040f6"/>
<rect x="83.50" y="258.33" width="4.30" height="4.31" fill="#7447f7"/>
<rect x="87.50" y="258.33" width="4.30" height="4.31" fill="#5f2795"/>
<rect x="91.50" y="258.33" width="4.30" height="4.31" fill="#6a37d2"/>
<rect x="95.50" y="258.33" width="4.30" height="4.31" fill="#dafcf9"/>
<rect x="99.50" y="258.33" width="4.30" height="4.31" fill="#d7fbf8"/>
<rect x="103.50" y="258.33" width="4.30" height="4.31" fill="#9386f1"/>
<rect x="107.50" y="258.33" width="4.30" height="4.31" fill="#d0f2f5"/>
<rect x="111.50" y="258.33" width="4.30" height="4.31" fill="#7951f6"/>
<rect x="115.50" y="258.33" width="4.30" height="4.31" fill="#cff1f5"/>
<rect x="119.50" y="258.33" width="4.30" height="4.31" fill="#a2a4f0"/>
<rect x="123.50" y="258.33" width="4.30" height="4.31" fill="#cff0f5"/>
<rect x="127.50" y="258.33" width="4.30" height="4.31" fill="#774df7"/>
<rect x="131.50" y="258.33" width="4.30" height="4.31" fill="#6a37d6"/>
<rect x="135.50" y="258.33" width="4.30" height="4.31" fill="#cdeef5"/>
<rect x="139.50" y="258.33" width="4.30" height="4.31" fill="#c7e6f3"/>
<rect x="143.50" y="258.33" width="4.30" height="4.31" fill="#cdeef4"/>
<rect x="147.50" y="258.33" width="4.30" height="4.31" fill="#bad2f0"/>
<rect x="151.50" y="258.33" width="4.30" height="4.31" fill="#c8e7f3"/>
<rect x="155.50" y="258.33" width="4.30" height="4.31" fill="#bfdaf2"/>
<rect x="159.50" y="258.33" width="4.30" height="4.31" fill="#d9fbf9"/>
<rect x="163.50" y="258.33" width="4.30" height="4.31" fill="#8b75f3"/>
<rect x="167.50" y="258.33" width="4.30" height="4.31" fill="#6f3ef0"/>
<rect x="171.50" y="258.33" width="4.30" height="4.31" fill="#642eb2"/>
<rect x="175.50" y="258.33" width="4.30" height="4.31" fill="#adbaf0"/>
<rect x="179.50" y="258.33" width="4.30" height="4.31" fill="#d5f9f7"/>
<rect x="183.50" y="258.33" width="4.30" height="4.31" fill="#7b56f6"/>
<rect x="187.50" y="258.33" width="4.30" height="4.31" fill="#7f5ff5"/>
<rect x="191.50" y="258.33" width="4.30" height="4.31" fill="#f8ff40"/>
<rect x="195.50" y="258.33" width="4.30" height="4.31" fill="#dcfdfb"/>
<rect x="199.50" y="258.33" width="4.30" height="4.31" fill="#550000"/>
<rect x="203.50" y="258.33" width="4.30" height="4.31" fill="#6733c3"/>
<rect x="207.50" y="258.33" width="4.30" height="4.31" fill="#6d3be4"/>
<rect x="211.50" y="258.33" width="4.30" height="4.31" fill="#d6faf7"/>
<rect x="215.50" y="258.33" width="4.30" height="4.31" fill="#500a29"/>
<rect x="219.50" y="258.33" width="4.30" height="4.31" fill="#8162f5"/>
<rect x="223.50" y="258.33" width="4.30" height="4.31" fill="#754af7"/>
<rect x="227.50" y="258.33" width="4.30" height="4.31" fill="#6a37d4"/>
<rect x="231.50" y="258.33" width="4.30" height="4.31" fill="#7346f7"/>
<rect x="235.50" y="258.33" width="4.30" height="4.31" fill="#a5aaf0"/>
<rect x="239.50" y="258.33" width="4.30" height="4.31" fill="#450000"/>
<rect x="243.50" y="258.33" width="4.30" height="4.31" fill="#6c39de"/>
<rect x="247.50" y="258.33" width="4.30" height="4.31" fill="#bfd9f1"/>
<rect x="251.50" y="258.33" width="4.30" height="4.31" fill="#9b96f0"/>
<rect x="255.50" y="258.33" width="4.30" height="4.31" fill="#8871f3"/>
<rect x="259.50" y="258.33" width="4.30" height="4.31" fill="#7040f7"/>
<rect x="263.50" y="258.33" width="4.30" height="4.31" fill="#9b96f0"/>
<rect x="267.50" y="258.33" width="4.30" height="4.31" fill="#cdeef4"/>
<rect x="7.50" y="262.33" width="4.30" height="4.31" fill="#4b0000"/>
<rect x="11.50" y="262.33" width="4.30" height="4.31" fill="#6b38d9"/>
<rect x="15.50" y="262.33" width="4.30" height="4.31" fill="#754af7"/>
<rect x="19.50" y="262.33" width="4.30" height="4.31" fill="#784ff6"/>
<rect x="23.50" y="262.33" width="4.30" height="4.31" fill="#a7adf0"/>
<rect x="27.50" y="262.33" width="4.30" height="4.31" fill="#8d79f2"/>
<rect x="31.50" y="262.33" width="4.30" height="4.31" fill="#55030b"/>
<rect x="35.50" y="262.33" width="4.30" height="4.31" fill="#540410"/>
<rect x="39.50" y="262.33" width="4.30" height="4.31" fill="#652fb4"/>
<rect x="43.50" y="262.33" width="4.30" height="4.31" fill="#a3a6f0"/>
<rect x="47.50" y="262.33" width="4.30" height="4.31" fill="#6e3deb"/>
<rect x="51.50" y="262.33" width="4.30" height="4.31" fill="#9d9af0"/>
<rect x="55.50" y="262.33" width="4.30" height="4.31" fill="#8e7bf2"/>
<rect x="59.50" y="262.33" width="4.30" height="4.31" fill="#bfd9f1"/>
<rect x="63.50" y="262.33" width="4.30" height="4.31" fill="#54040f"/>
<rect x="67.50" y="262.33" width="4.30" height="4.31" fill="#50134d"/>
<rect x="71.50" y="262.33" width="4.30" height="4.31" fill="#5e2692"/>
<rect x="75.50" y="262.33" width="4.30" height="4.31" fill="#7e5bf5"/>
<rect x="79.50" y="262.33" width="4.30" height="4.31" fill="#9890f0"/>
<rect x="83.50" y="262.33" width="4.30" height="4.31" fill="#9284f1"/>
<rect x="87.50" y="262.33" width="4.30" height="4.31" fill="#dbfcfa"/>
<rect x="91.50" y="262.33" width="4.30" height="4.31" fill="#b7cdf0"/>
<rect x="95.50" y="262.33" width="4.30" height="4.31" fill="#9b96f0"/>
<rect x="99.50" y="262.33" width="4.30" height="4.31" fill="#c5e2f3"/>
<rect x="103.50" y="262.33" width="4.30" height="4.31" fill="#7245f8"/>
<rect x="107.50" y="262.33" width="4.30" height="4.31" fill="#7b57f6"/>
<rect x="111.50" y="262.33" width="4.30" height="4.31" fill="#d1f4f5"/>
<rect x="115.50" y="262.33" width="4.30" height="4.31" fill="#c9e8f4"/>
<rect x="119.50" y="262.33" width="4.30" height="4.31" fill="#580000"/>
<rect x="123.50" y="262.33" width="4.30" height="4.31" fill="#cbebf4"/>
<rect x="127.50" y="262.33" width="4.30" height="4.31" fill="#d3f6f6"/>
<rect x="131.50" y="262.33" width="4.30" height="4.31" fill="#d2f6f6"/>
<rect x="135.50" y="262.33" width="4.30" height="4.31" fill="#d5f9f6"/>
<rect x="139.50" y="262.33" width="4.30" height="4.31" fill="#dafcfa"/>
<rect x="143.50" y="262.33" width="4.30" height="4.31" fill="#f0ff80"/>
<rect x="147.50" y="262.33" width="4.30" height="4.31" fill="#7347f7"/>
<rect x="151.50" y="262.33" width="4.30" height="4.31" fill="#7141f8"/>
<rect x="155.50" y="262.33" width="4.30" height="4.31" fill="#856bf4"/>
<rect x="159.50" y="262.33" width="4.30" height="4.31" fill="#6e3ded"/>
<rect x="163.50" y="262.33" width="4.30" height="4.31" fill="#8468f4"/>
<rect x="167.50" y="262.33" width="4.30" height="4.31" fill="#7e5cf5"/>
<rect x="171.50" y="262.33" width="4.30" height="4.31" fill="#9080f2"/>
<rect x="175.50" y="262.33" width="4.30" height="4.31" fill="#c2def2"/>
<rect x="179.50" y="262.33" width="4.30" height="4.31" fill="#a4a9f0"/>
<rect x="183.50" y="262.33" width="4.30" height="4.31" fill="#a4a7f0"/>
<rect x="187.50" y="262.33" width="4.30" height="4.31" fill="#52061a"/>
<rect x="191.50" y="262.33" width="4.30" height="4.31" fill="#c4e1f3"/>
<rect x="195.50" y="262.33" width="4.30" height="4.31" fill="#9b96f0"/>
<rect x="199.50" y="262.33" width="4.30" height="4.31" fill="#d0f2f5"/>
<rect x="203.50" y="262.33" width="4.30" height="4.31" fill="#a9b1f0"/>
<rect x="207.50" y="262.33" width="4.30" height="4.31" fill="#b3c7f0"/>
<rect x="211.50" y="262.33" width="4.30" height="4.31" fill="#8c77f2"/>
<rect x="215.50" y="262.33" width="4.30" height="4.31" fill="#c7e5f3"/>
<rect x="219.50" y="262.33" width="4.30" height="4.31" fill="#d8fbf8"/>
<rect x="223.50" y="262.33" width="4.30" height="4.31" fill="#a3a6f0"/>
<rect x="227.50" y="262.33" width="4.30" height="4.31" fill="#6b39db"/>
<rect x="231.50" y="262.33" width="4.30" height="4.31" fill="#500a27"/>
<rect x="235.50" y="262.33" width="4.30" height="4.31" fill="#7243f8"/>
<rect x="239.50" y="262.33" width="4.30" height="4.31" fill="#6e3dee"/>
<rect x="243.50" y="262.33" width="4.30" height="4.31" fill="#410000"/>
<rect x="247.50" y="262.33" width="4.30" height="4.31" fill="#560209"/>
<rect x="251.50" y="262.33" width="4.30" height="4.31" fill="#8366f4"/>
<rect x="255.50" y="262.33" width="4.30" height="4.31" fill="#580000"/>
<rect x="259.50" y="262.33" width="4.30" height="4.31" fill="#a8aff0"/>
<rect x="263.50" y="262.33" width="4.30" height="4.31" fill="#c0dcf2"/>
<rect x="267.50" y="262.33" width="4.30" height="4.31" fill="#c1ddf2"/>
<rect x="7.50" y="266.34" width="4.30" height="4.31" fill="#642eb2"/>
<rect x="11.50" y="266.34" width="4.30" height="4.31" fill="#540000"/>
<rect x="15.50" y="266.34" width="4.30" height="4.31" fill="#6d3be6"/>
<rect x="19.50" y="266.34" width="4.30" height="4.31" fill="#5a2281"/>
<rect x="23.50" y="266.34" width="4.30" height="4.31" fill="#caeaf4"/>
<rect x="27.50" y="266.34" width="4.30" height="4.31" fill="#bfdaf2"/>
<rect x="31.50" y="266.34" width="4.30" height="4.31" fill="#570103"/>
<rect x="35.50" y="266.34" width="4.30" height="4.31" fill="#560209"/>
<rect x="39.50" y="266.34" width="4.30" height="4.31" fill="#6e3dea"/>
<rect x="43.50" y="266.34" width="4.30" height="4.31" fill="#9b97f0"/>
<rect x="47.50" y="266.34" width="4.30" height="4.31" fill="#6e3dee"/>
<rect x="51.50" y="266.34" width="4.30" height="4.31" fill="#c4e1f3"/>
<rect x="55.50" y="266.34" width="4.30" height="4.31" fill="#9182f1"/>
<rect x="59.50" y="266.34" width="4.30" height="4.31" fill="#cbecf4"/>
<rect x="63.50" y="266.34" width="4.30" height="4.31" fill="#7243f8"/>
<rect x="67.50" y="266.34" width="4.30" height="4.31" fill="#d9fbf8"/>
<rect x="71.50" y="266.34" width="4.30" height="4.31" fill="#9a94f0"/>
<rect x="75.50" y="266.34" width="4.30" height="4.31" fill="#9b96f0"/>
<rect x="79.50" y="266.34" width="4.30" height="4.31" fill="#7f5ff5"/>
<rect x="83.50" y="266.34" width="4.30" height="4.31" fill="#6f3ef0"/>
<rect x="87.50" y="266.34" width="4.30" height="4.31" fill="#d7fbf8"/>
<rect x="91.50" y="266.34" width="4.30" height="4.31" fill="#9387f1"/>
<rect x="95.50" y="266.34" width="4.30" height="4.31" fill="#50134b"/>
<rect x="99.50" y="266.34" width="4.30" height="4.31" fill="#dbfcfa"/>
<rect x="103.50" y="266.34" width="4.30" height="4.31" fill="#6e3dec"/>
<rect x="107.50" y="266.34" width="4.30" height="4.31" fill="#aebcf0"/>
<rect x="111.50" y="266.34" width="4.30" height="4.31" fill="#c1def2"/>
<rect x="115.50" y="266.34" width="4.30" height="4.31" fill="#6f3ef2"/>
<rect x="119.50" y="266.34" width="4.30" height="4.31" fill="#6e3dec"/>
<rect x="123.50" y="266.34" width="4.30" height="4.31" fill="#774ef7"/>
<rect x="127.50" y="266.34" width="4.30" height="4.31" fill="#d8fbf8"/>
<rect x="131.50" y="266.34" width="4.30" height="4.31" fill="#b7cef0"/>
<rect x="135.50" y="266.34" width="4.30" height="4.31" fill="#cbecf4"/>
<rect x="139.50" y="266.34" width="4.30" height="4.31" fill="#958af1"/>
<rect x="143.50" y="266.34" width="4.30" height="4.31" fill="#b0c0f0"/>
<rect x="147.50" y="266.34" width="4.30" height="4.31" fill="#9890f0"/>
<rect x="151.50" y="266.34" width="4.30" height="4.31" fill="#6935cd"/>
<rect x="155.50" y="266.34" width="4.30" height="4.31" fill="#a7adf0"/>
<rect x="159.50" y="266.34" width="4.30" height="4.31" fill="#9f9df0"/>
<rect x="163.50" y="266.34" width="4.30" height="4.31" fill="#b5c9f0"/>
<rect x="167.50" y="266.34" width="4.30" height="4.31" fill="#a5abf0"/>
<rect x="171.50" y="266.34" width="4.30" height="4.31" fill="#6c3adf"/>
<rect x="175.50" y="266.34" width="4.30" height="4.31" fill="#d9fcf9"/>
<rect x="179.50" y="266.34" width="4.30" height="4.31" fill="#ccecf4"/>
<rect x="183.50" y="266.34" width="4.30" height="4.31" fill="#8263f4"/>
<rect x="187.50" y="266.34" width="4.30" height="4.31" fill="#560208"/>
<rect x="191.50" y="266.34" width="4.30" height="4.31" fill="#d5f9f7"/>
<rect x="195.50" y="266.34" width="4.30" height="4.31" fill="#968df0"/>
<rect x="199.50" y="266.34" width="4.30" height="4.31" fill="#cef0f5"/>
<rect x="203.50" y="266.34" width="4.30" height="4.31" fill="#958af1"/>
<rect x="207.50" y="266.34" width="4.30" height="4.31" fill="#6e3dec"/>
<rect x="211.50" y="266.34" width="4.30" height="4.31" fill="#d7faf7"/>
<rect x="215.50" y="266.34" width="4.30" height="4.31" fill="#784ff6"/>
<rect x="219.50" y="266.34" width="4.30" height="4.31" fill="#9e9df0"/>
<rect x="223.50" y="266.34" width="4.30" height="4.31" fill="#6e3cea"/>
<rect x="227.50" y="266.34" width="4.30" height="4.31" fill="#51071d"/>
<rect x="231.50" y="266.34" width="4.30" height="4.31" fill="#b5caf0"/>
<rect x="235.50" y="266.34" width="4.30" height="4.31" fill="#6e3ce9"/>
<rect x="239.50" y="266.34" width="4.30" height="4.31" fill="#570105"/>
<rect x="243.50" y="266.34" width="4.30" height="4.31" fill="#4d0000"/>
<rect x="247.50" y="266.34" width="4.30" height="4.31" fill="#7c57f6"/>
<rect x="251.50" y="266.34" width="4.30" height="4.31" fill="#9b97f0"/>
<rect x="255.50" y="266.34" width="4.30" height="4.31" fill="#5f2794"/>
<rect x="259.50" y="266.34" width="4.30" height="4.31" fill="#560206"/>
<rect x="263.50" y="266.34" width="4.30" height="4.31" fill="#754bf7"/>
<rect x="267.50" y="266.34" width="4.30" height="4.31" fill="#8972f3"/>
<rect x="7.50" y="270.34" width="4.30" height="4.31" fill="#cbebf4"/>
<rect x="11.50" y="270.34" width="4.30" height="4.31" fill="#6d3ce7"/>
<rect x="15.50" y="270.34" width="4.30" height="4.31" fill="#d6f9f7"/>
<rect x="19.50" y="270.34" width="4.30" height="4.31" fill="#d5f8f6"/>
<rect x="23.50" y="270.34" width="4.30" height="4.31" fill="#5f2796"/>
<rect x="27.50" y="270.34" width="4.30" height="4.31" fill="#c3dff2"/>
<rect x="31.50" y="270.34" width="4.30" height="4.31" fill="#7952f6"/>
<rect x="35.50" y="270.34" width="4.30" height="4.31" fill="#ccedf4"/>
<rect x="39.50" y="270.34" width="4.30" height="4.31" fill="#caeaf4"/>
<rect x="43.50" y="270.34" width="4.30" height="4.31" fill="#9489f1"/>
<rect x="47.50" y="270.34" width="4.30" height="4.31" fill="#acb9f0"/>
<rect x="51.50" y="270.34" width="4.30" height="4.31" fill="#d8fbf8"/>
<rect x="55.50" y="270.34" width="4.30" height="4.31" fill="#570103"/>
<rect x="59.50" y="270.34" width="4.30" height="4.31" fill="#6c3ae1"/>
<rect x="63.50" y="270.34" width="4.30" height="4.31" fill="#958af1"/>
<rect x="67.50" y="270.34" width="4.30" height="4.31" fill="#b6cdf0"/>
<rect x="71.50" y="270.34" width="4.30" height="4.31" fill="#d9fcf9"/>
<rect x="75.50" y="270.34" width="4.30" height="4.31" fill="#6e3cea"/>
<rect x="79.50" y="270.34" width="4.30" height="4.31" fill="#8263f4"/>
<rect x="83.50" y="270.34" width="4.30" height="4.31" fill="#570104"/>
<rect x="87.50" y="270.34" width="4.30" height="4.31" fill="#6e3deb"/>
<rect x="91.50" y="270.34" width="4.30" height="4.31" fill="#8f7ef2"/>
<rect x="95.50" y="270.34" width="4.30" height="4.31" fill="#adb9f0"/>
<rect x="99.50" y="270.34" width="4.30" height="4.31" fill="#dbfcfa"/>
<rect x="103.50" y="270.34" width="4.30" height="4.31" fill="#9488f1"/>
<rect x="107.50" y="270.34" width="4.30" height="4.31" fill="#8870f3"/>
<rect x="111.50" y="270.34" width="4.30" height="4.31" fill="#6d3be3"/>
<rect x="115.50" y="270.34" width="4.30" height="4.31" fill="#9a94f0"/>
<rect x="119.50" y="270.34" width="4.30" height="4.31" fill="#7040f8"/>
<rect x="123.50" y="270.34" width="4.30" height="4.31" fill="#bed9f1"/>
<rect x="127.50" y="270.34" width="4.30" height="4.31" fill="#9284f1"/>
<rect x="131.50" y="270.34" width="4.30" height="4.31" fill="#530515"/>
<rect x="135.50" y="270.34" width="4.30" height="4.31" fill="#7244f8"/>
<rect x="139.50" y="270.34" width="4.30" height="4.31" fill="#a7adf0"/>
<rect x="143.50" y="270.34" width="4.30" height="4.31" fill="#7447f7"/>
<rect x="147.50" y="270.34" width="4.30" height="4.31" fill="#978df0"/>
<rect x="151.50" y="270.34" width="4.30" height="4.31" fill="#a4a9f0"/>
<rect x="155.50" y="270.34" width="4.30" height="4.31" fill="#d2f5f5"/>
<rect x="159.50" y="270.34" width="4.30" height="4.31" fill="#d9fcf9"/>
<rect x="163.50" y="270.34" width="4.30" height="4.31" fill="#d6f9f7"/>
<rect x="167.50" y="270.34" width="4.30" height="4.31" fill="#d9fcf9"/>
<rect x="171.50" y="270.34" width="4.30" height="4.31" fill="#a6abf0"/>
<rect x="175.50" y="270.34" width="4.30" height="4.31" fill="#f0ff80"/>
<rect x="179.50" y="270.34" width="4.30" height="4.31" fill="#9992f0"/>
<rect x="183.50" y="270.34" width="4.30" height="4.31" fill="#8d7bf2"/>
<rect x="187.50" y="270.34" width="4.30" height="4.31" fill="#9d9af0"/>
<rect x="191.50" y="270.34" width="4.30" height="4.31" fill="#a9b3f0"/>
<rect x="195.50" y="270.34" width="4.30" height="4.31" fill="#7449f7"/>
<rect x="199.50" y="270.34" width="4.30" height="4.31" fill="#f0ff80"/>
<rect x="203.50" y="270.34" width="4.30" height="4.31" fill="#b8d1f0"/>
<rect x="207.50" y="270.34" width="4.30" height="4.31" fill="#7953f6"/>
<rect x="211.50" y="270.34" width="4.30" height="4.31" fill="#8467f4"/>
<rect x="215.50" y="270.34" width="4.30" height="4.31" fill="#a3a7f0"/>
<rect x="219.50" y="270.34" width="4.30" height="4.31" fill="#d4f8f6"/>
<rect x="223.50" y="270.34" width="4.30" height="4.31" fill="#b0c1f0"/>
<rect x="227.50" y="270.34" width="4.30" height="4.31" fill="#cae9f4"/>
<rect x="231.50" y="270.34" width="4.30" height="4.31" fill="#7d59f5"/>
<rect x="235.50" y="270.34" width="4.30" height="4.31" fill="#6f3ef0"/>
<rect x="239.50" y="270.34" width="4.30" height="4.31" fill="#500000"/>
<rect x="243.50" y="270.34" width="4.30" height="4.31" fill="#55030d"/>
<rect x="247.50" y="270.34" width="4.30" height="4.31" fill="#7c58f6"/>
<rect x="251.50" y="270.34" width="4.30" height="4.31" fill="#c1def2"/>
<rect x="255.50" y="270.34" width="4.30" height="4.31" fill="#652fb4"/>
<rect x="259.50" y="270.34" width="4.30" height="4.31" fill="#6e3eef"/>
<rect x="263.50" y="270.34" width="4.30" height="4.31" fill="#7850f6"/>
<rect x="267.50" y="270.34" width="4.30" height="4.31" fill="#7f5ef5"/>
<rect x="7.50" y="274.35" width="4.30" height="4.31" fill="#9992f0"/>
<rect x="11.50" y="274.35" width="4.30" height="4.31" fill="#a0a0f0"/>
<rect x="15.50" y="274.35" width="4.30" height="4.31" fill="#8467f4"/>
<rect x="19.50" y="274.35" width="4.30" height="4.31" fill="#a5aaf0"/>
<rect x="23.50" y="274.35" width="4.30" height="4.31" fill="#6d3be5"/>
<rect x="27.50" y="274.35" width="4.30" height="4.31" fill="#8367f4"/>
<rect x="31.50" y="274.35" width="4.30" height="4.31" fill="#580001"/>
<rect x="35.50" y="274.35" width="4.30" height="4.31" fill="#7e5cf5"/>
<rect x="39.50" y="274.35" width="4.30" height="4.31" fill="#d0f3f5"/>
<rect x="43.50" y="274.35" width="4.30" height="4.31" fill="#a2a4f0"/>
<rect x="47.50" y="274.35" width="4.30" height="4.31" fill="#cef0f5"/>
<rect x="51.50" y="274.35" width="4.30" height="4.31" fill="#d1f3f5"/>
<rect x="55.50" y="274.35" width="4.30" height="4.31" fill="#540410"/>
<rect x="59.50" y="274.35" width="4.30" height="4.31" fill="#501658"/>
<rect x="63.50" y="274.35" width="4.30" height="4.31" fill="#d0f3f5"/>
<rect x="67.50" y="274.35" width="4.30" height="4.31" fill="#9181f1"/>
<rect x="71.50" y="274.35" width="4.30" height="4.31" fill="#9b96f0"/>
<rect x="75.50" y="274.35" width="4.30" height="4.31" fill="#d3f7f6"/>
<rect x="79.50" y="274.35" width="4.30" height="4.31" fill="#55030c"/>
<rect x="83.50" y="274.35" width="4.30" height="4.31" fill="#500d32"/>
<rect x="87.50" y="274.35" width="4.30" height="4.31" fill="#8468f4"/>
<rect x="91.50" y="274.35" width="4.30" height="4.31" fill="#6f3ff3"/>
<rect x="95.50" y="274.35" width="4.30" height="4.31" fill="#d1f4f5"/>
<rect x="99.50" y="274.35" width="4.30" height="4.31" fill="#d2f5f6"/>
<rect x="103.50" y="274.35" width="4.30" height="4.31" fill="#abb6f0"/>
<rect x="107.50" y="274.35" width="4.30" height="4.31" fill="#caeaf4"/>
<rect x="111.50" y="274.35" width="4.30" height="4.31" fill="#8367f4"/>
<rect x="115.50" y="274.35" width="4.30" height="4.31" fill="#6936d0"/>
<rect x="119.50" y="274.35" width="4.30" height="4.31" fill="#7e5df5"/>
<rect x="123.50" y="274.35" width="4.30" height="4.31" fill="#9487f1"/>
<rect x="127.50" y="274.35" width="4.30" height="4.31" fill="#7447f7"/>
<rect x="131.50" y="274.35" width="4.30" height="4.31" fill="#a7aff0"/>
<rect x="135.50" y="274.35" width="4.30" height="4.31" fill="#7851f6"/>
<rect x="139.50" y="274.35" width="4.30" height="4.31" fill="#8161f5"/>
<rect x="143.50" y="274.35" width="4.30" height="4.31" fill="#5b2388"/>
<rect x="147.50" y="274.35" width="4.30" height="4.31" fill="#d3f6f6"/>
<rect x="151.50" y="274.35" width="4.30" height="4.31" fill="#d6f9f7"/>
<rect x="155.50" y="274.35" width="4.30" height="4.31" fill="#907ff2"/>
<rect x="159.50" y="274.35" width="4.30" height="4.31" fill="#ceeff5"/>
<rect x="163.50" y="274.35" width="4.30" height="4.31" fill="#8a73f3"/>
<rect x="167.50" y="274.35" width="4.30" height="4.31" fill="#aab5f0"/>
<rect x="171.50" y="274.35" width="4.30" height="4.31" fill="#d9fcf9"/>
<rect x="175.50" y="274.35" width="4.30" height="4.31" fill="#c5e2f3"/>
<rect x="179.50" y="274.35" width="4.30" height="4.31" fill="#8a75f3"/>
<rect x="183.50" y="274.35" width="4.30" height="4.31" fill="#b5cbf0"/>
<rect x="187.50" y="274.35" width="4.30" height="4.31" fill="#adbaf0"/>
<rect x="191.50" y="274.35" width="4.30" height="4.31" fill="#d1f3f5"/>
<rect x="195.50" y="274.35" width="4.30" height="4.31" fill="#a3a6f0"/>
<rect x="199.50" y="274.35" width="4.30" height="4.31" fill="#8a75f3"/>
<rect x="203.50" y="274.35" width="4.30" height="4.31" fill="#cdeef4"/>
<rect x="207.50" y="274.35" width="4.30" height="4.31" fill="#856bf4"/>
<rect x="211.50" y="274.35" width="4.30" height="4.31" fill="#7b56f6"/>
<rect x="215.50" y="274.35" width="4.30" height="4.31" fill="#8d79f2"/>
<rect x="219.50" y="274.35" width="4.30" height="4.31" fill="#9284f1"/>
<rect x="223.50" y="274.35" width="4.30" height="4.31" fill="#6c39de"/>
<rect x="227.50" y="274.35" width="4.30" height="4.31" fill="#8468f4"/>
<rect x="231.50" y="274.35" width="4.30" height="4.31" fill="#9d9af0"/>
<rect x="235.50" y="274.35" width="4.30" height="4.31" fill="#9182f1"/>
<rect x="239.50" y="274.35" width="4.30" height="4.31" fill="#540412"/>
<rect x="243.50" y="274.35" width="4.30" height="4.31" fill="#7e5bf5"/>
<rect x="247.50" y="274.35" width="4.30" height="4.31" fill="#8c79f2"/>
<rect x="251.50" y="274.35" width="4.30" height="4.31" fill="#9182f1"/>
<rect x="255.50" y="274.35" width="4.30" height="4.31" fill="#6f3ff3"/>
<rect x="259.50" y="274.35" width="4.30" height="4.31" fill="#500820"/>
<rect x="263.50" y="274.35" width="4.30" height="4.31" fill="#570106"/>
<rect x="267.50" y="274.35" width="4.30" height="4.31" fill="#bad3f1"/>
<rect x="7.50" y="278.36" width="4.30" height="4.31" fill="#c1dcf2"/>
<rect x="11.50" y="278.36" width="4.30" height="4.31" fill="#d6f9f7"/>
<rect x="15.50" y="278.36" width="4.30" height="4.31" fill="#a5aaf0"/>
<rect x="19.50" y="278.36" width="4.30" height="4.31" fill="#c3e0f2"/>
<rect x="23.50" y="278.36" width="4.30" height="4.31" fill="#a0a0f0"/>
<rect x="27.50" y="278.36" width="4.30" height="4.31" fill="#501145"/>
<rect x="31.50" y="278.36" width="4.30" height="4.31" fill="#540000"/>
<rect x="35.50" y="278.36" width="4.30" height="4.31" fill="#570105"/>
<rect x="39.50" y="278.36" width="4.30" height="4.31" fill="#6c3adf"/>
<rect x="43.50" y="278.36" width="4.30" height="4.31" fill="#754bf7"/>
<rect x="47.50" y="278.36" width="4.30" height="4.31" fill="#9b96f0"/>
<rect x="51.50" y="278.36" width="4.30" height="4.31" fill="#a3a5f0"/>
<rect x="55.50" y="278.36" width="4.30" height="4.31" fill="#8265f4"/>
<rect x="59.50" y="278.36" width="4.30" height="4.31" fill="#7e5cf5"/>
<rect x="63.50" y="278.36" width="4.30" height="4.31" fill="#9c98f0"/>
<rect x="67.50" y="278.36" width="4.30" height="4.31" fill="#cbeaf4"/>
<rect x="71.50" y="278.36" width="4.30" height="4.31" fill="#d2f5f6"/>
<rect x="75.50" y="278.36" width="4.30" height="4.31" fill="#7d59f5"/>
<rect x="79.50" y="278.36" width="4.30" height="4.31" fill="#55030d"/>
<rect x="83.50" y="278.36" width="4.30" height="4.31" fill="#7851f6"/>
<rect x="87.50" y="278.36" width="4.30" height="4.31" fill="#6b39dc"/>
<rect x="91.50" y="278.36" width="4.30" height="4.31" fill="#7850f6"/>
<rect x="95.50" y="278.36" width="4.30" height="4.31" fill="#6d3ce7"/>
<rect x="99.50" y="278.36" width="4.30" height="4.31" fill="#dbfdfb"/>
<rect x="103.50" y="278.36" width="4.30" height="4.31" fill="#7449f7"/>
<rect x="107.50" y="278.36" width="4.30" height="4.31" fill="#9b97f0"/>
<rect x="111.50" y="278.36" width="4.30" height="4.31" fill="#856af4"/>
<rect x="115.50" y="278.36" width="4.30" height="4.31" fill="#7041f8"/>
<rect x="119.50" y="278.36" width="4.30" height="4.31" fill="#d5f9f7"/>
<rect x="123.50" y="278.36" width="4.30" height="4.31" fill="#c3e0f2"/>
<rect x="127.50" y="278.36" width="4.30" height="4.31" fill="#9a94f0"/>
<rect x="131.50" y="278.36" width="4.30" height="4.31" fill="#cbebf4"/>
<rect x="135.50" y="278.36" width="4.30" height="4.31" fill="#b3c5f0"/>
<rect x="139.50" y="278.36" width="4.30" height="4.31" fill="#501556"/>
<rect x="143.50" y="278.36" width="4.30" height="4.31" fill="#6b39dd"/>
<rect x="147.50" y="278.36" width="4.30" height="4.31" fill="#7449f7"/>
<rect x="151.50" y="278.36" width="4.30" height="4.31" fill="#d7faf7"/>
<rect x="155.50" y="278.36" width="4.30" height="4.31" fill="#b1c2f0"/>
<rect x="159.50" y="278.36" width="4.30" height="4.31" fill="#9e9df0"/>
<rect x="163.50" y="278.36" width="4.30" height="4.31" fill="#764cf7"/>
<rect x="167.50" y="278.36" width="4.30" height="4.31" fill="#d5f8f6"/>
<rect x="171.50" y="278.36" width="4.30" height="4.31" fill="#dafcf9"/>
<rect x="175.50" y="278.36" width="4.30" height="4.31" fill="#6b39da"/>
<rect x="179.50" y="278.36" width="4.30" height="4.31" fill="#9284f1"/>
<rect x="183.50" y="278.36" width="4.30" height="4.31" fill="#bdd7f1"/>
<rect x="187.50" y="278.36" width="4.30" height="4.31" fill="#ccedf4"/>
<rect x="191.50" y="278.36" width="4.30" height="4.31" fill="#a8aff0"/>
<rect x="195.50" y="278.36" width="4.30" height="4.31" fill="#c2def2"/>
<rect x="199.50" y="278.36" width="4.30" height="4.31" fill="#c9e9f4"/>
<rect x="203.50" y="278.36" width="4.30" height="4.31" fill="#9c97f0"/>
<rect x="207.50" y="278.36" width="4.30" height="4.31" fill="#c9e9f4"/>
<rect x="211.50" y="278.36" width="4.30" height="4.31" fill="#a7aef0"/>
<rect x="215.50" y="278.36" width="4.30" height="4.31" fill="#bdd7f1"/>
<rect x="219.50" y="278.36" width="4.30" height="4.31" fill="#774ff7"/>
<rect x="223.50" y="278.36" width="4.30" height="4.31" fill="#b1c2f0"/>
<rect x="227.50" y="278.36" width="4.30" height="4.31" fill="#9284f1"/>
<rect x="231.50" y="278.36" width="4.30" height="4.31" fill="#51071d"/>
<rect x="235.50" y="278.36" width="4.30" height="4.31" fill="#a1a1f0"/>
<rect x="239.50" y="278.36" width="4.30" height="4.31" fill="#3e0000"/>
<rect x="243.50" y="278.36" width="4.30" height="4.31" fill="#55030c"/>
<rect x="247.50" y="278.36" width="4.30" height="4.31" fill="#8d79f2"/>
<rect x="251.50" y="278.36" width="4.30" height="4.31" fill="#4e0000"/>
<rect x="255.50" y="278.36" width="4.30" height="4.31" fill="#6631be"/>
<rect x="259.50" y="278.36" width="4.30" height="4.31" fill="#a1a1f0"/>
<rect x="263.50" y="278.36" width="4.30" height="4.31" fill="#d4f8f6"/>
<rect x="267.50" y="278.36" width="4.30" height="4.31" fill="#bdd8f1"/>
<rect x="7.50" y="282.36" width="4.30" height="4.31" fill="#7c58f6"/>
<rect x="11.50" y="282.36" width="4.30" height="4.31" fill="#afbff0"/>
<rect x="15.50" y="282.36" width="4.30" height="4.31" fill="#c3e0f2"/>
<rect x="19.50" y="282.36" width="4.30" height="4.31" fill="#d8fbf8"/>
<rect x="23.50" y="282.36" width="4.30" height="4.31" fill="#a0a0f0"/>
<rect x="27.50" y="282.36" width="4.30" height="4.31" fill="#6e3eee"/>
<rect x="31.50" y="282.36" width="4.30" height="4.31" fill="#580002"/>
<rect x="35.50" y="282.36" width="4.30" height="4.31" fill="#54040e"/>
<rect x="39.50" y="282.36" width="4.30" height="4.31" fill="#9d9bf0"/>
<rect x="43.50" y="282.36" width="4.30" height="4.31" fill="#6b38d8"/>
<rect x="47.50" y="282.36" width="4.30" height="4.31" fill="#b7cef0"/>
<rect x="51.50" y="282.36" width="4.30" height="4.31" fill="#a9b3f0"/>
<rect x="55.50" y="282.36" width="4.30" height="4.31" fill="#c6e5f3"/>
<rect x="59.50" y="282.36" width="4.30" height="4.31" fill="#9e9cf0"/>
<rect x="63.50" y="282.36" width="4.30" height="4.31" fill="#8d7af2"/>
<rect x="67.50" y="282.36" width="4.30" height="4.31" fill="#d6f9f7"/>
<rect x="71.50" y="282.36" width="4.30" height="4.31" fill="#ceeff5"/>
<rect x="75.50" y="282.36" width="4.30" height="4.31" fill="#500c2f"/>
<rect x="79.50" y="282.36" width="4.30" height="4.31" fill="#6b38d8"/>
<rect x="83.50" y="282.36" width="4.30" height="4.31" fill="#774ef7"/>
<rect x="87.50" y="282.36" width="4.30" height="4.31" fill="#a3a6f0"/>
<rect x="91.50" y="282.36" width="4.30" height="4.31" fill="#6d3be4"/>
<rect x="95.50" y="282.36" width="4.30" height="4.31" fill="#d6f9f7"/>
<rect x="99.50" y="282.36" width="4.30" height="4.31" fill="#b2c4f0"/>
<rect x="103.50" y="282.36" width="4.30" height="4.31" fill="#b2c3f0"/>
<rect x="107.50" y="282.36" width="4.30" height="4.31" fill="#7142f8"/>
<rect x="111.50" y="282.36" width="4.30" height="4.31" fill="#958af1"/>
<rect x="115.50" y="282.36" width="4.30" height="4.31" fill="#8e7df2"/>
<rect x="119.50" y="282.36" width="4.30" height="4.31" fill="#d8fbf8"/>
<rect x="123.50" y="282.36" width="4.30" height="4.31" fill="#8a73f3"/>
<rect x="127.50" y="282.36" width="4.30" height="4.31" fill="#abb7f0"/>
<rect x="131.50" y="282.36" width="4.30" height="4.31" fill="#8d7af2"/>
<rect x="135.50" y="282.36" width="4.30" height="4.31" fill="#6d3be6"/>
<rect x="139.50" y="282.36" width="4.30" height="4.31" fill="#7c58f6"/>
<rect x="143.50" y="282.36" width="4.30" height="4.31" fill="#50175d"/>
<rect x="147.50" y="282.36" width="4.30" height="4.31" fill="#8467f4"/>
<rect x="151.50" y="282.36" width="4.30" height="4.31" fill="#876ff3"/>
<rect x="155.50" y="282.36" width="4.30" height="4.31" fill="#d9fcf9"/>
<rect x="159.50" y="282.36" width="4.30" height="4.31" fill="#8365f4"/>
<rect x="163.50" y="282.36" width="4.30" height="4.31" fill="#6b39dd"/>
<rect x="167.50" y="282.36" width="4.30" height="4.31" fill="#d1f3f5"/>
<rect x="171.50" y="282.36" width="4.30" height="4.31" fill="#d5f9f7"/>
<rect x="175.50" y="282.36" width="4.30" height="4.31" fill="#6e3dea"/>
<rect x="179.50" y="282.36" width="4.30" height="4.31" fill="#bcd5f1"/>
<rect x="183.50" y="282.36" width="4.30" height="4.31" fill="#abb5f0"/>
<rect x="187.50" y="282.36" width="4.30" height="4.31" fill="#9e9cf0"/>
<rect x="191.50" y="282.36" width="4.30" height="4.31" fill="#d5f9f6"/>
<rect x="195.50" y="282.36" width="4.30" height="4.31" fill="#aebbf0"/>
<rect x="199.50" y="282.36" width="4.30" height="4.31" fill="#8971f3"/>
<rect x="203.50" y="282.36" width="4.30" height="4.31" fill="#cbebf4"/>
<rect x="207.50" y="282.36" width="4.30" height="4.31" fill="#aab3f0"/>
<rect x="211.50" y="282.36" width="4.30" height="4.31" fill="#abb6f0"/>
<rect x="215.50" y="282.36" width="4.30" height="4.31" fill="#d5f8f6"/>
<rect x="219.50" y="282.36" width="4.30" height="4.31" fill="#c7e5f3"/>
<rect x="223.50" y="282.36" width="4.30" height="4.31" fill="#d3f6f6"/>
<rect x="227.50" y="282.36" width="4.30" height="4.31" fill="#c8e6f3"/>
<rect x="231.50" y="282.36" width="4.30" height="4.31" fill="#a2a4f0"/>
<rect x="235.50" y="282.36" width="4.30" height="4.31" fill="#370000"/>
<rect x="239.50" y="282.36" width="4.30" height="4.31" fill="#612a9f"/>
<rect x="243.50" y="282.36" width="4.30" height="4.31" fill="#530514"/>
<rect x="247.50" y="282.36" width="4.30" height="4.31" fill="#d2f6f6"/>
<rect x="251.50" y="282.36" width="4.30" height="4.31" fill="#7851f6"/>
<rect x="255.50" y="282.36" width="4.30" height="4.31" fill="#968bf0"/>
<rect x="259.50" y="282.36" width="4.30" height="4.31" fill="#d3f7f6"/>
<rect x="263.50" y="282.36" width="4.30" height="4.31" fill="#cdedf4"/>
<rect x="267.50" y="282.36" width="4.30" height="4.31" fill="#a3a6f0"/>
<rect x="7.50" y="286.37" width="4.30" height="4.31" fill="#c0dcf2"/>
<rect x="11.50" y="286.37" width="4.30" height="4.31" fill="#7c58f6"/>
<rect x="15.50" y="286.37" width="4.30" height="4.31" fill="#a3a6f0"/>
<rect x="19.50" y="286.37" width="4.30" height="4.31" fill="#9182f1"/>
<rect x="23.50" y="286.37" width="4.30" height="4.31" fill="#a1a1f0"/>
<rect x="27.50" y="286.37" width="4.30" height="4.31" fill="#7c59f6"/>
<rect x="31.50" y="286.37" width="4.30" height="4.31" fill="#55030a"/>
<rect x="35.50" y="286.37" width="4.30" height="4.31" fill="#7142f8"/>
<rect x="39.50" y="286.37" width="4.30" height="4.31" fill="#cdeff5"/>
<rect x="43.50" y="286.37" width="4.30" height="4.31" fill="#dafcf9"/>
<rect x="47.50" y="286.37" width="4.30" height="4.31" fill="#856bf4"/>
<rect x="51.50" y="286.37" width="4.30" height="4.31" fill="#bfd9f1"/>
<rect x="55.50" y="286.37" width="4.30" height="4.31" fill="#500d36"/>
<rect x="59.50" y="286.37" width="4.30" height="4.31" fill="#c1def2"/>
<rect x="63.50" y="286.37" width="4.30" height="4.31" fill="#9d99f0"/>
<rect x="67.50" y="286.37" width="4.30" height="4.31" fill="#b5caf0"/>
<rect x="71.50" y="286.37" width="4.30" height="4.31" fill="#6c3ae0"/>
<rect x="75.50" y="286.37" width="4.30" height="4.31" fill="#632dab"/>
<rect x="79.50" y="286.37" width="4.30" height="4.31" fill="#6630b9"/>
<rect x="83.50" y="286.37" width="4.30" height="4.31" fill="#9f9ef0"/>
<rect x="87.50" y="286.37" width="4.30" height="4.31" fill="#c7e6f3"/>
<rect x="91.50" y="286.37" width="4.30" height="4.31" fill="#b6cdf0"/>
<rect x="95.50" y="286.37" width="4.30" height="4.31" fill="#dbfcfa"/>
<rect x="99.50" y="286.37" width="4.30" height="4.31" fill="#c4e2f3"/>
<rect x="103.50" y="286.37" width="4.30" height="4.31" fill="#cff0f5"/>
<rect x="107.50" y="286.37" width="4.30" height="4.31" fill="#d2f4f5"/>
<rect x="111.50" y="286.37" width="4.30" height="4.31" fill="#b5caf0"/>
<rect x="115.50" y="286.37" width="4.30" height="4.31" fill="#a6adf0"/>
<rect x="119.50" y="286.37" width="4.30" height="4.31" fill="#a3a7f0"/>
<rect x="123.50" y="286.37" width="4.30" height="4.31" fill="#b1c1f0"/>
<rect x="127.50" y="286.37" width="4.30" height="4.31" fill="#b1c2f0"/>
<rect x="131.50" y="286.37" width="4.30" height="4.31" fill="#a5aaf0"/>
<rect x="135.50" y="286.37" width="4.30" height="4.31" fill="#856bf4"/>
<rect x="139.50" y="286.37" width="4.30" height="4.31" fill="#6a37d5"/>
<rect x="143.50" y="286.37" width="4.30" height="4.31" fill="#dbfcfb"/>
<rect x="147.50" y="286.37" width="4.30" height="4.31" fill="#aab5f0"/>
<rect x="151.50" y="286.37" width="4.30" height="4.31" fill="#aab3f0"/>
<rect x="155.50" y="286.37" width="4.30" height="4.31" fill="#9e9bf0"/>
<rect x="159.50" y="286.37" width="4.30" height="4.31" fill="#8973f3"/>
<rect x="163.50" y="286.37" width="4.30" height="4.31" fill="#7447f7"/>
<rect x="167.50" y="286.37" width="4.30" height="4.31" fill="#c3e0f2"/>
<rect x="171.50" y="286.37" width="4.30" height="4.31" fill="#bdd7f1"/>
<rect x="175.50" y="286.37" width="4.30" height="4.31" fill="#aebcf0"/>
<rect x="179.50" y="286.37" width="4.30" height="4.31" fill="#7b56f6"/>
<rect x="183.50" y="286.37" width="4.30" height="4.31" fill="#c0dcf2"/>
<rect x="187.50" y="286.37" width="4.30" height="4.31" fill="#958af1"/>
<rect x="191.50" y="286.37" width="4.30" height="4.31" fill="#856af4"/>
<rect x="195.50" y="286.37" width="4.30" height="4.31" fill="#7244f8"/>
<rect x="199.50" y="286.37" width="4.30" height="4.31" fill="#7142f8"/>
<rect x="203.50" y="286.37" width="4.30" height="4.31" fill="#7040f7"/>
<rect x="207.50" y="286.37" width="4.30" height="4.31" fill="#bdd7f1"/>
<rect x="211.50" y="286.37" width="4.30" height="4.31" fill="#c7e5f3"/>
<rect x="215.50" y="286.37" width="4.30" height="4.31" fill="#a0a0f0"/>
<rect x="219.50" y="286.37" width="4.30" height="4.31" fill="#b4c7f0"/>
<rect x="223.50" y="286.37" width="4.30" height="4.31" fill="#a5a9f0"/>
<rect x="227.50" y="286.37" width="4.30" height="4.31" fill="#500a29"/>
<rect x="231.50" y="286.37" width="4.30" height="4.31" fill="#540000"/>
<rect x="235.50" y="286.37" width="4.30" height="4.31" fill="#b1c2f0"/>
<rect x="239.50" y="286.37" width="4.30" height="4.31" fill="#8162f5"/>
<rect x="243.50" y="286.37" width="4.30" height="4.31" fill="#d1f4f5"/>
<rect x="247.50" y="286.37" width="4.30" height="4.31" fill="#a5aaf0"/>
<rect x="251.50" y="286.37" width="4.30" height="4.31" fill="#c3e0f2"/>
<rect x="255.50" y="286.37" width="4.30" height="4.31" fill="#6733c2"/>
<rect x="259.50" y="286.37" width="4.30" height="4.31" fill="#8870f3"/>
<rect x="263.50" y="286.37" width="4.30" height="4.31" fill="#7142f8"/>
<rect x="267.50" y="286.37" width="4.30" height="4.31" fill="#570105"/>
<rect x="7.50" y="290.37" width="4.30" height="4.31" fill="#6e3deb"/>
<rect x="11.50" y="290.37" width="4.30" height="4.31" fill="#8c77f2"/>
<rect x="15.50" y="290.37" width="4.30" height="4.31" fill="#7142f8"/>
<rect x="19.50" y="290.37" width="4.30" height="4.31" fill="#6e3ce9"/>
<rect x="23.50" y="290.37" width="4.30" height="4.31" fill="#9991f0"/>
<rect x="27.50" y="290.37" width="4.30" height="4.31" fill="#530516"/>
<rect x="31.50" y="290.37" width="4.30" height="4.31" fill="#9d99f0"/>
<rect x="35.50" y="290.37" width="4.30" height="4.31" fill="#580000"/>
<rect x="39.50" y="290.37" width="4.30" height="4.31" fill="#cdeef4"/>
<rect x="43.50" y="290.37" width="4.30" height="4.31" fill="#c1ddf2"/>
<rect x="47.50" y="290.37" width="4.30" height="4.31" fill="#7243f8"/>
<rect x="51.50" y="290.37" width="4.30" height="4.31" fill="#a5aaf0"/>
<rect x="55.50" y="290.37" width="4.30" height="4.31" fill="#7d59f5"/>
<rect x="59.50" y="290.37" width="4.30" height="4.31" fill="#6b38d9"/>
<rect x="63.50" y="290.37" width="4.30" height="4.31" fill="#d9fbf9"/>
<rect x="67.50" y="290.37" width="4.30" height="4.31" fill="#d0f2f5"/>
<rect x="71.50" y="290.37" width="4.30" height="4.31" fill="#6f3ef1"/>
<rect x="75.50" y="290.37" width="4.30" height="4.31" fill="#c1ddf2"/>
<rect x="79.50" y="290.37" width="4.30" height="4.31" fill="#8a74f3"/>
<rect x="83.50" y="290.37" width="4.30" height="4.31" fill="#9284f1"/>
<rect x="87.50" y="290.37" width="4.30" height="4.31" fill="#c5e2f3"/>
<rect x="91.50" y="290.37" width="4.30" height="4.31" fill="#d9fcf9"/>
<rect x="95.50" y="290.37" width="4.30" height="4.31" fill="#d9fcf9"/>
<rect x="99.50" y="290.37" width="4.30" height="4.31" fill="#b0c0f0"/>
<rect x="103.50" y="290.37" width="4.30" height="4.31" fill="#d9fbf9"/>
<rect x="107.50" y="290.37" width="4.30" height="4.31" fill="#d1f4f5"/>
<rect x="111.50" y="290.37" width="4.30" height="4.31" fill="#c6e5f3"/>
<rect x="115.50" y="290.37" width="4.30" height="4.31" fill="#8c78f2"/>
<rect x="119.50" y="290.37" width="4.30" height="4.31" fill="#c6e4f3"/>
<rect x="123.50" y="290.37" width="4.30" height="4.31" fill="#8c79f2"/>
<rect x="127.50" y="290.37" width="4.30" height="4.31" fill="#d0f2f5"/>
<rect x="131.50" y="290.37" width="4.30" height="4.31" fill="#9488f1"/>
<rect x="135.50" y="290.37" width="4.30" height="4.31" fill="#8060f5"/>
<rect x="139.50" y="290.37" width="4.30" height="4.31" fill="#754bf7"/>
<rect x="143.50" y="290.37" width="4.30" height="4.31" fill="#d1f4f5"/>
<rect x="147.50" y="290.37" width="4.30" height="4.31" fill="#9b96f0"/>
<rect x="151.50" y="290.37" width="4.30" height="4.31" fill="#c5e3f3"/>
<rect x="155.50" y="290.37" width="4.30" height="4.31" fill="#7448f7"/>
<rect x="159.50" y="290.37" width="4.30" height="4.31" fill="#6d3be3"/>
<rect x="163.50" y="290.37" width="4.30" height="4.31" fill="#8468f4"/>
<rect x="167.50" y="290.37" width="4.30" height="4.31" fill="#bad3f1"/>
<rect x="171.50" y="290.37" width="4.30" height="4.31" fill="#c0dbf2"/>
<rect x="175.50" y="290.37" width="4.30" height="4.31" fill="#c2def2"/>
<rect x="179.50" y="290.37" width="4.30" height="4.31" fill="#dafcf9"/>
<rect x="183.50" y="290.37" width="4.30" height="4.31" fill="#a3a5f0"/>
<rect x="187.50" y="290.37" width="4.30" height="4.31" fill="#754af7"/>
<rect x="191.50" y="290.37" width="4.30" height="4.31" fill="#9d9af0"/>
<rect x="195.50" y="290.37" width="4.30" height="4.31" fill="#bfdaf1"/>
<rect x="199.50" y="290.37" width="4.30" height="4.31" fill="#6f3ff3"/>
<rect x="203.50" y="290.37" width="4.30" height="4.31" fill="#7c58f6"/>
<rect x="207.50" y="290.37" width="4.30" height="4.31" fill="#ccedf4"/>
<rect x="211.50" y="290.37" width="4.30" height="4.31" fill="#a5aaf0"/>
<rect x="215.50" y="290.37" width="4.30" height="4.31" fill="#7449f7"/>
<rect x="219.50" y="290.37" width="4.30" height="4.31" fill="#9589f1"/>
<rect x="223.50" y="290.37" width="4.30" height="4.31" fill="#9f9ff0"/>
<rect x="227.50" y="290.37" width="4.30" height="4.31" fill="#6e3dee"/>
<rect x="231.50" y="290.37" width="4.30" height="4.31" fill="#50134b"/>
<rect x="235.50" y="290.37" width="4.30" height="4.31" fill="#adbaf0"/>
<rect x="239.50" y="290.37" width="4.30" height="4.31" fill="#560209"/>
<rect x="243.50" y="290.37" width="4.30" height="4.31" fill="#adbaf0"/>
<rect x="247.50" y="290.37" width="4.30" height="4.31" fill="#7e5bf5"/>
<rect x="251.50" y="290.37" width="4.30" height="4.31" fill="#9891f0"/>
<rect x="255.50" y="290.37" width="4.30" height="4.31" fill="#6e3eef"/>
<rect x="259.50" y="290.37" width="4.30" height="4.31" fill="#54040e"/>
<rect x="263.50" y="290.37" width="4.30" height="4.31" fill="#9c99f0"/>
<rect x="267.50" y="290.37" width="4.30" height="4.31" fill="#978ef0"/>
<rect x="7.50" y="294.38" width="4.30" height="4.31" fill="#d8fbf8"/>
<rect x="11.50" y="294.38" width="4.30" height="4.31" fill="#d6f9f7"/>
<rect x="15.50" y="294.38" width="4.30" height="4.31" fill="#632dab"/>
<rect x="19.50" y="294.38" width="4.30" height="4.31" fill="#50081e"/>
<rect x="23.50" y="294.38" width="4.30" height="4.31" fill="#dbfcfa"/>
<rect x="27.50" y="294.38" width="4.30" height="4.31" fill="#ddfdfc"/>
<rect x="31.50" y="294.38" width="4.30" height="4.31" fill="#490000"/>
<rect x="35.50" y="294.38" width="4.30" height="4.31" fill="#958bf1"/>
<rect x="39.50" y="294.38" width="4.30" height="4.31" fill="#d8fbf8"/>
<rect x="43.50" y="294.38" width="4.30" height="4.31" fill="#d4f8f6"/>
<rect x="47.50" y="294.38" width="4.30" height="4.31" fill="#c4e2f3"/>
<rect x="51.50" y="294.38" width="4.30" height="4.31" fill="#9b96f0"/>
<rect x="55.50" y="294.38" width="4.30" height="4.31" fill="#500924"/>
<rect x="59.50" y="294.38" width="4.30" height="4.31" fill="#c9e8f4"/>
<rect x="63.50" y="294.38" width="4.30" height="4.31" fill="#d5f9f7"/>
<rect x="67.50" y="294.38" width="4.30" height="4.31" fill="#d1f4f5"/>
<rect x="71.50" y="294.38" width="4.30" height="4.31" fill="#530512"/>
<rect x="75.50" y="294.38" width="4.30" height="4.31" fill="#c8e7f4"/>
<rect x="79.50" y="294.38" width="4.30" height="4.31" fill="#9b96f0"/>
<rect x="83.50" y="294.38" width="4.30" height="4.31" fill="#d5f9f6"/>
<rect x="87.50" y="294.38" width="4.30" height="4.31" fill="#d9fbf9"/>
<rect x="91.50" y="294.38" width="4.30" height="4.31" fill="#dbfcfa"/>
<rect x="95.50" y="294.38" width="4.30" height="4.31" fill="#ceeff5"/>
<rect x="99.50" y="294.38" width="4.30" height="4.31" fill="#bdd7f1"/>
<rect x="103.50" y="294.38" width="4.30" height="4.31" fill="#c7e6f3"/>
<rect x="107.50" y="294.38" width="4.30" height="4.31" fill="#d7fbf8"/>
<rect x="111.50" y="294.38" width="4.30" height="4.31" fill="#d0f3f5"/>
<rect x="115.50" y="294.38" width="4.30" height="4.31" fill="#d5f9f6"/>
<rect x="119.50" y="294.38" width="4.30" height="4.31" fill="#520000"/>
<rect x="123.50" y="294.38" width="4.30" height="4.31" fill="#7142f8"/>
<rect x="127.50" y="294.38" width="4.30" height="4.31" fill="#b4c8f0"/>
<rect x="131.50" y="294.38" width="4.30" height="4.31" fill="#b2c3f0"/>
<rect x="135.50" y="294.38" width="4.30" height="4.31" fill="#7951f6"/>
<rect x="139.50" y="294.38" width="4.30" height="4.31" fill="#9284f1"/>
<rect x="143.50" y="294.38" width="4.30" height="4.31" fill="#470000"/>
<rect x="147.50" y="294.38" width="4.30" height="4.31" fill="#501554"/>
<rect x="151.50" y="294.38" width="4.30" height="4.31" fill="#856af4"/>
<rect x="155.50" y="294.38" width="4.30" height="4.31" fill="#7142f8"/>
<rect x="159.50" y="294.38" width="4.30" height="4.31" fill="#7245f8"/>
<rect x="163.50" y="294.38" width="4.30" height="4.31" fill="#b0c0f0"/>
<rect x="167.50" y="294.38" width="4.30" height="4.31" fill="#9e9bf0"/>
<rect x="171.50" y="294.38" width="4.30" height="4.31" fill="#d4f8f6"/>
<rect x="175.50" y="294.38" width="4.30" height="4.31" fill="#856af4"/>
<rect x="179.50" y="294.38" width="4.30" height="4.31" fill="#8163f5"/>
<rect x="183.50" y="294.38" width="4.30" height="4.31" fill="#bed9f1"/>
<rect x="187.50" y="294.38" width="4.30" height="4.31" fill="#d9fbf9"/>
<rect x="191.50" y="294.38" width="4.30" height="4.31" fill="#ffff00"/>
<rect x="195.50" y="294.38" width="4.30" height="4.31" fill="#dbfcfb"/>
<rect x="199.50" y="294.38" width="4.30" height="4.31" fill="#9a94f0"/>
<rect x="203.50" y="294.38" width="4.30" height="4.31" fill="#a7aef0"/>
<rect x="207.50" y="294.38" width="4.30" height="4.31" fill="#d1f4f5"/>
<rect x="211.50" y="294.38" width="4.30" height="4.31" fill="#d1f3f5"/>
<rect x="215.50" y="294.38" width="4.30" height="4.31" fill="#570000"/>
<rect x="219.50" y="294.38" width="4.30" height="4.31" fill="#b8cff0"/>
<rect x="223.50" y="294.38" width="4.30" height="4.31" fill="#9b97f0"/>
<rect x="227.50" y="294.38" width="4.30" height="4.31" fill="#a2a4f0"/>
<rect x="231.50" y="294.38" width="4.30" height="4.31" fill="#b4c8f0"/>
<rect x="235.50" y="294.38" width="4.30" height="4.31" fill="#a2a4f0"/>
<rect x="239.50" y="294.38" width="4.30" height="4.31" fill="#d9fcf9"/>
<rect x="243.50" y="294.38" width="4.30" height="4.31" fill="#764cf7"/>
<rect x="247.50" y="294.38" width="4.30" height="4.31" fill="#876ef3"/>
<rect x="251.50" y="294.38" width="4.30" height="4.31" fill="#805ff5"/>
<rect x="255.50" y="294.38" width="4.30" height="4.31" fill="#6f3ef0"/>
<rect x="259.50" y="294.38" width="4.30" height="4.31" fill="#7851f6"/>
<rect x="263.50" y="294.38" width="4.30" height="4.31" fill="#d7faf8"/>
<rect x="267.50" y="294.38" width="4.30" height="4.31" fill="#d6f9f7"/>
<rect x="7.50" y="298.38" width="4.30" height="4.31" fill="#cef0f5"/>
<rect x="11.50" y="298.38" width="4.30" height="4.31" fill="#7c59f6"/>
<rect x="15.50" y="298.38" width="4.30" height="4.31" fill="#8a75f3"/>
<rect x="19.50" y="298.38" width="4.30" height="4.31" fill="#bed9f1"/>
<rect x="23.50" y="298.38" width="4.30" height="4.31" fill="#9f9ff0"/>
<rect x="27.50" y="298.38" width="4.30" height="4.31" fill="#d8fbf8"/>
<rect x="31.50" y="298.38" width="4.30" height="4.31" fill="#50081f"/>
<rect x="35.50" y="298.38" width="4.30" height="4.31" fill="#540000"/>
<rect x="39.50" y="298.38" width="4.30" height="4.31" fill="#c7e5f3"/>
<rect x="43.50" y="298.38" width="4.30" height="4.31" fill="#d9fcf9"/>
<rect x="47.50" y="298.38" width="4.30" height="4.31" fill="#9d9bf0"/>
<rect x="51.50" y="298.38" width="4.30" height="4.31" fill="#bbd4f1"/>
<rect x="55.50" y="298.38" width="4.30" height="4.31" fill="#530513"/>
<rect x="59.50" y="298.38" width="4.30" height="4.31" fill="#6d3ce9"/>
<rect x="63.50" y="298.38" width="4.30" height="4.31" fill="#a7aff0"/>
<rect x="67.50" y="298.38" width="4.30" height="4.31" fill="#b1c1f0"/>
<rect x="71.50" y="298.38" width="4.30" height="4.31" fill="#6a38d6"/>
<rect x="75.50" y="298.38" width="4.30" height="4.31" fill="#7346f7"/>
<rect x="79.50" y="298.38" width="4.30" height="4.31" fill="#cae9f4"/>
<rect x="83.50" y="298.38" width="4.30" height="4.31" fill="#d9fcf9"/>
<rect x="87.50" y="298.38" width="4.30" height="4.31" fill="#dafcfa"/>
<rect x="91.50" y="298.38" width="4.30" height="4.31" fill="#e0ffff"/>
<rect x="95.50" y="298.38" width="4.30" height="4.31" fill="#a9b3f0"/>
<rect x="99.50" y="298.38" width="4.30" height="4.31" fill="#9d99f0"/>
<rect x="103.50" y="298.38" width="4.30" height="4.31" fill="#876df3"/>
<rect x="107.50" y="298.38" width="4.30" height="4.31" fill="#c9e9f4"/>
<rect x="111.50" y="298.38" width="4.30" height="4.31" fill="#c8e7f4"/>
<rect x="115.50" y="298.38" width="4.30" height="4.31" fill="#c9e9f4"/>
<rect x="119.50" y="298.38" width="4.30" height="4.31" fill="#b5caf0"/>
<rect x="123.50" y="298.38" width="4.30" height="4.31" fill="#7b55f6"/>
<rect x="127.50" y="298.38" width="4.30" height="4.31" fill="#d8fbf8"/>
<rect x="131.50" y="298.38" width="4.30" height="4.31" fill="#d8fbf8"/>
<rect x="135.50" y="298.38" width="4.30" height="4.31" fill="#56020a"/>
<rect x="139.50" y="298.38" width="4.30" height="4.31" fill="#6835cb"/>
<rect x="143.50" y="298.38" width="4.30" height="4.31" fill="#9386f1"/>
<rect x="147.50" y="298.38" width="4.30" height="4.31" fill="#d9fbf9"/>
<rect x="151.50" y="298.38" width="4.30" height="4.31" fill="#aebdf0"/>
<rect x="155.50" y="298.38" width="4.30" height="4.31" fill="#876df3"/>
<rect x="159.50" y="298.38" width="4.30" height="4.31" fill="#6a37d3"/>
<rect x="163.50" y="298.38" width="4.30" height="4.31" fill="#754af7"/>
<rect x="167.50" y="298.38" width="4.30" height="4.31" fill="#bdd7f1"/>
<rect x="171.50" y="298.38" width="4.30" height="4.31" fill="#c7e5f3"/>
<rect x="175.50" y="298.38" width="4.30" height="4.31" fill="#b3c5f0"/>
<rect x="179.50" y="298.38" width="4.30" height="4.31" fill="#d8fbf8"/>
<rect x="183.50" y="298.38" width="4.30" height="4.31" fill="#b6cdf0"/>
<rect x="187.50" y="298.38" width="4.30" height="4.31" fill="#9d9af0"/>
<rect x="191.50" y="298.38" width="4.30" height="4.31" fill="#dfffff"/>
<rect x="195.50" y="298.38" width="4.30" height="4.31" fill="#dcfdfc"/>
<rect x="199.50" y="298.38" width="4.30" height="4.31" fill="#754af7"/>
<rect x="203.50" y="298.38" width="4.30" height="4.31" fill="#7e5df5"/>
<rect x="207.50" y="298.38" width="4.30" height="4.31" fill="#a9b2f0"/>
<rect x="211.50" y="298.38" width="4.30" height="4.31" fill="#d9fbf9"/>
<rect x="215.50" y="298.38" width="4.30" height="4.31" fill="#cff2f5"/>
<rect x="219.50" y="298.38" width="4.30" height="4.31" fill="#b1c2f0"/>
<rect x="223.50" y="298.38" width="4.30" height="4.31" fill="#6631bb"/>
<rect x="227.50" y="298.38" width="4.30" height="4.31" fill="#6f3ef0"/>
<rect x="231.50" y="298.38" width="4.30" height="4.31" fill="#b3c5f0"/>
<rect x="235.50" y="298.38" width="4.30" height="4.31" fill="#6e3deb"/>
<rect x="239.50" y="298.38" width="4.30" height="4.31" fill="#8973f3"/>
<rect x="243.50" y="298.38" width="4.30" height="4.31" fill="#c1def2"/>
<rect x="247.50" y="298.38" width="4.30" height="4.31" fill="#6b38da"/>
<rect x="251.50" y="298.38" width="4.30" height="4.31" fill="#a2a3f0"/>
<rect x="255.50" y="298.38" width="4.30" height="4.31" fill="#b3c6f0"/>
<rect x="259.50" y="298.38" width="4.30" height="4.31" fill="#7448f7"/>
<rect x="263.50" y="298.38" width="4.30" height="4.31" fill="#b0c1f0"/>
<rect x="267.50" y="298.38" width="4.30" height="4.31" fill="#d2f5f6"/>
<rect x="7.50" y="302.39" width="4.30" height="4.31" fill="#dcfdfb"/>
<rect x="11.50" y="302.39" width="4.30" height="4.31" fill="#8f7ff2"/>
<rect x="15.50" y="302.39" width="4.30" height="4.31" fill="#9a94f0"/>
<rect x="19.50" y="302.39" width="4.30" height="4.31" fill="#9991f0"/>
<rect x="23.50" y="302.39" width="4.30" height="4.31" fill="#d6f9f7"/>
<rect x="27.50" y="302.39" width="4.30" height="4.31" fill="#8468f4"/>
<rect x="31.50" y="302.39" width="4.30" height="4.31" fill="#3c0000"/>
<rect x="35.50" y="302.39" width="4.30" height="4.31" fill="#8c79f2"/>
<rect x="39.50" y="302.39" width="4.30" height="4.31" fill="#d6f9f7"/>
<rect x="43.50" y="302.39" width="4.30" height="4.31" fill="#6d3ce8"/>
<rect x="47.50" y="302.39" width="4.30" height="4.31" fill="#a7aef0"/>
<rect x="51.50" y="302.39" width="4.30" height="4.31" fill="#8e7bf2"/>
<rect x="55.50" y="302.39" width="4.30" height="4.31" fill="#d8fbf8"/>
<rect x="59.50" y="302.39" width="4.30" height="4.31" fill="#dbfcfa"/>
<rect x="63.50" y="302.39" width="4.30" height="4.31" fill="#dffefe"/>
<rect x="67.50" y="302.39" width="4.30" height="4.31" fill="#defefd"/>
<rect x="71.50" y="302.39" width="4.30" height="4.31" fill="#ceeff5"/>
<rect x="75.50" y="302.39" width="4.30" height="4.31" fill="#a9b2f0"/>
<rect x="79.50" y="302.39" width="4.30" height="4.31" fill="#6f3ef2"/>
<rect x="83.50" y="302.39" width="4.30" height="4.31" fill="#acb7f0"/>
<rect x="87.50" y="302.39" width="4.30" height="4.31" fill="#e1fffb"/>
<rect x="91.50" y="302.39" width="4.30" height="4.31" fill="#d9fcf9"/>
<rect x="95.50" y="302.39" width="4.30" height="4.31" fill="#500000"/>
<rect x="99.50" y="302.39" width="4.30" height="4.31" fill="#9f9ff0"/>
<rect x="103.50" y="302.39" width="4.30" height="4.31" fill="#8870f3"/>
<rect x="107.50" y="302.39" width="4.30" height="4.31" fill="#f0ff80"/>
<rect x="111.50" y="302.39" width="4.30" height="4.31" fill="#d6f9f7"/>
<rect x="115.50" y="302.39" width="4.30" height="4.31" fill="#7e5cf5"/>
<rect x="119.50" y="302.39" width="4.30" height="4.31" fill="#d5f9f7"/>
<rect x="123.50" y="302.39" width="4.30" height="4.31" fill="#7e5cf5"/>
<rect x="127.50" y="302.39" width="4.30" height="4.31" fill="#cef0f5"/>
<rect x="131.50" y="302.39" width="4.30" height="4.31" fill="#c6e4f3"/>
<rect x="135.50" y="302.39" width="4.30" height="4.31" fill="#d4f8f6"/>
<rect x="139.50" y="302.39" width="4.30" height="4.31" fill="#7e5df5"/>
<rect x="143.50" y="302.39" width="4.30" height="4.31" fill="#d8fbf8"/>
<rect x="147.50" y="302.39" width="4.30" height="4.31" fill="#9e9df0"/>
<rect x="151.50" y="302.39" width="4.30" height="4.31" fill="#aab4f0"/>
<rect x="155.50" y="302.39" width="4.30" height="4.31" fill="#d5f9f6"/>
<rect x="159.50" y="302.39" width="4.30" height="4.31" fill="#6c3ae1"/>
<rect x="163.50" y="302.39" width="4.30" height="4.31" fill="#703ff5"/>
<rect x="167.50" y="302.39" width="4.30" height="4.31" fill="#968bf0"/>
<rect x="171.50" y="302.39" width="4.30" height="4.31" fill="#c5e3f3"/>
<rect x="175.50" y="302.39" width="4.30" height="4.31" fill="#b0c0f0"/>
<rect x="179.50" y="302.39" width="4.30" height="4.31" fill="#d8fbf8"/>
<rect x="183.50" y="302.39" width="4.30" height="4.31" fill="#c2def2"/>
<rect x="187.50" y="302.39" width="4.30" height="4.31" fill="#a9b2f0"/>
<rect x="191.50" y="302.39" width="4.30" height="4.31" fill="#a3a5f0"/>
<rect x="195.50" y="302.39" width="4.30" height="4.31" fill="#d3f6f6"/>
<rect x="199.50" y="302.39" width="4.30" height="4.31" fill="#774df7"/>
<rect x="203.50" y="302.39" width="4.30" height="4.31" fill="#8467f4"/>
<rect x="207.50" y="302.39" width="4.30" height="4.31" fill="#bcd6f1"/>
<rect x="211.50" y="302.39" width="4.30" height="4.31" fill="#8c77f2"/>
<rect x="215.50" y="302.39" width="4.30" height="4.31" fill="#8060f5"/>
<rect x="219.50" y="302.39" width="4.30" height="4.31" fill="#a3a6f0"/>
<rect x="223.50" y="302.39" width="4.30" height="4.31" fill="#d9fcf9"/>
<rect x="227.50" y="302.39" width="4.30" height="4.31" fill="#d3f7f6"/>
<rect x="231.50" y="302.39" width="4.30" height="4.31" fill="#d2f5f6"/>
<rect x="235.50" y="302.39" width="4.30" height="4.31" fill="#7952f6"/>
<rect x="239.50" y="302.39" width="4.30" height="4.31" fill="#a0a1f0"/>
<rect x="243.50" y="302.39" width="4.30" height="4.31" fill="#9285f1"/>
<rect x="247.50" y="302.39" width="4.30" height="4.31" fill="#570106"/>
<rect x="251.50" y="302.39" width="4.30" height="4.31" fill="#876ef3"/>
<rect x="255.50" y="302.39" width="4.30" height="4.31" fill="#764cf7"/>
<rect x="259.50" y="302.39" width="4.30" height="4.31" fill="#7245f8"/>
<rect x="263.50" y="302.39" width="4.30" height="4.31" fill="#b8d1f0"/>
<rect x="267.50" y="302.39" width="4.30" height="4.31" fill="#8973f3"/>
<rect x="7.50" y="306.39" width="4.30" height="4.31" fill="#c0dcf2"/>
<rect x="11.50" y="306.39" width="4.30" height="4.31" fill="#bed9f1"/>
<rect x="15.50" y="306.39" width="4.30" height="4.31" fill="#7e5cf5"/>
<rect x="19.50" y="306.39" width="4.30" height="4.31" fill="#9c98f0"/>
<rect x="23.50" y="306.39" width="4.30" height="4.31" fill="#c8e7f3"/>
<rect x="27.50" y="306.39" width="4.30" height="4.31" fill="#ccedf4"/>
<rect x="31.50" y="306.39" width="4.30" height="4.31" fill="#bed9f1"/>
<rect x="35.50" y="306.39" width="4.30" height="4.31" fill="#5f2793"/>
<rect x="39.50" y="306.39" width="4.30" height="4.31" fill="#d8fbf8"/>
<rect x="43.50" y="306.39" width="4.30" height="4.31" fill="#d8fbf8"/>
<rect x="47.50" y="306.39" width="4.30" height="4.31" fill="#8061f5"/>
<rect x="51.50" y="306.39" width="4.30" height="4.31" fill="#500e39"/>
<rect x="55.50" y="306.39" width="4.30" height="4.31" fill="#aebbf0"/>
<rect x="59.50" y="306.39" width="4.30" height="4.31" fill="#d7faf8"/>
<rect x="63.50" y="306.39" width="4.30" height="4.31" fill="#f8ff40"/>
<rect x="67.50" y="306.39" width="4.30" height="4.31" fill="#dafcfa"/>
<rect x="71.50" y="306.39" width="4.30" height="4.31" fill="#d8fbf8"/>
<rect x="75.50" y="306.39" width="4.30" height="4.31" fill="#856af4"/>
<rect x="79.50" y="306.39" width="4.30" height="4.31" fill="#7d59f5"/>
<rect x="83.50" y="306.39" width="4.30" height="4.31" fill="#7f5ff5"/>
<rect x="87.50" y="306.39" width="4.30" height="4.31" fill="#abb5f0"/>
<rect x="91.50" y="306.39" width="4.30" height="4.31" fill="#dffffe"/>
<rect x="95.50" y="306.39" width="4.30" height="4.31" fill="#abb5f0"/>
<rect x="99.50" y="306.39" width="4.30" height="4.31" fill="#7243f8"/>
<rect x="103.50" y="306.39" width="4.30" height="4.31" fill="#bed9f1"/>
<rect x="107.50" y="306.39" width="4.30" height="4.31" fill="#c8e6f3"/>
<rect x="111.50" y="306.39" width="4.30" height="4.31" fill="#dbfdfb"/>
<rect x="115.50" y="306.39" width="4.30" height="4.31" fill="#d6f9f7"/>
<rect x="119.50" y="306.39" width="4.30" height="4.31" fill="#8569f4"/>
<rect x="123.50" y="306.39" width="4.30" height="4.31" fill="#d8fbf8"/>
<rect x="127.50" y="306.39" width="4.30" height="4.31" fill="#b3c6f0"/>
<rect x="131.50" y="306.39" width="4.30" height="4.31" fill="#d5f8f6"/>
<rect x="135.50" y="306.39" width="4.30" height="4.31" fill="#ccedf4"/>
<rect x="139.50" y="306.39" width="4.30" height="4.31" fill="#a1a2f0"/>
<rect x="143.50" y="306.39" width="4.30" height="4.31" fill="#520617"/>
<rect x="147.50" y="306.39" width="4.30" height="4.31" fill="#7f5ef5"/>
<rect x="151.50" y="306.39" width="4.30" height="4.31" fill="#cbeaf4"/>
<rect x="155.50" y="306.39" width="4.30" height="4.31" fill="#d9fbf9"/>
<rect x="159.50" y="306.39" width="4.30" height="4.31" fill="#6a37d6"/>
<rect x="163.50" y="306.39" width="4.30" height="4.31" fill="#b4c8f0"/>
<rect x="167.50" y="306.39" width="4.30" height="4.31" fill="#6a37d2"/>
<rect x="171.50" y="306.39" width="4.30" height="4.31" fill="#7040f8"/>
<rect x="175.50" y="306.39" width="4.30" height="4.31" fill="#d6f9f7"/>
<rect x="179.50" y="306.39" width="4.30" height="4.31" fill="#ddfdfc"/>
<rect x="183.50" y="306.39" width="4.30" height="4.31" fill="#ceeff5"/>
<rect x="187.50" y="306.39" width="4.30" height="4.31" fill="#d2f6f6"/>
<rect x="191.50" y="306.39" width="4.30" height="4.31" fill="#b4c8f0"/>
<rect x="195.50" y="306.39" width="4.30" height="4.31" fill="#bbd5f1"/>
<rect x="199.50" y="306.39" width="4.30" height="4.31" fill="#8c79f2"/>
<rect x="203.50" y="306.39" width="4.30" height="4.31" fill="#9891f0"/>
<rect x="207.50" y="306.39" width="4.30" height="4.31" fill="#7448f7"/>
<rect x="211.50" y="306.39" width="4.30" height="4.31" fill="#9890f0"/>
<rect x="215.50" y="306.39" width="4.30" height="4.31" fill="#d9fcf9"/>
<rect x="219.50" y="306.39" width="4.30" height="4.31" fill="#cdeef5"/>
<rect x="223.50" y="306.39" width="4.30" height="4.31" fill="#7142f8"/>
<rect x="227.50" y="306.39" width="4.30" height="4.31" fill="#d4f8f6"/>
<rect x="231.50" y="306.39" width="4.30" height="4.31" fill="#9d9af0"/>
<rect x="235.50" y="306.39" width="4.30" height="4.31" fill="#a3a5f0"/>
<rect x="239.50" y="306.39" width="4.30" height="4.31" fill="#652fb5"/>
<rect x="243.50" y="306.39" width="4.30" height="4.31" fill="#622ba3"/>
<rect x="247.50" y="306.39" width="4.30" height="4.31" fill="#50103f"/>
<rect x="251.50" y="306.39" width="4.30" height="4.31" fill="#500922"/>
<rect x="255.50" y="306.39" width="4.30" height="4.31" fill="#a1a2f0"/>
<rect x="259.50" y="306.39" width="4.30" height="4.31" fill="#bad2f0"/>
<rect x="263.50" y="306.39" width="4.30" height="4.31" fill="#9386f1"/>
<rect x="267.50" y="306.39" width="4.30" height="4.31" fill="#cdeef4"/>
<rect x="7.50" y="310.40" width="4.30" height="4.31" fill="#6c3ade"/>
<rect x="11.50" y="310.40" width="4.30" height="4.31" fill="#9f9ff0"/>
<rect x="15.50" y="310.40" width="4.30" height="4.31" fill="#d0f2f5"/>
<rect x="19.50" y="310.40" width="4.30" height="4.31" fill="#b1c3f0"/>
<rect x="23.50" y="310.40" width="4.30" height="4.31" fill="#d1f4f5"/>
<rect x="27.50" y="310.40" width="4.30" height="4.31" fill="#a7aff0"/>
<rect x="31.50" y="310.40" width="4.30" height="4.31" fill="#a4a7f0"/>
<rect x="35.50" y="310.40" width="4.30" height="4.31" fill="#886ff3"/>
<rect x="39.50" y="310.40" width="4.30" height="4.31" fill="#d9fbf9"/>
<rect x="43.50" y="310.40" width="4.30" height="4.31" fill="#bed9f1"/>
<rect x="47.50" y="310.40" width="4.30" height="4.31" fill="#adbbf0"/>
<rect x="51.50" y="310.40" width="4.30" height="4.31" fill="#d3f6f6"/>
<rect x="55.50" y="310.40" width="4.30" height="4.31" fill="#ffff00"/>
<rect x="59.50" y="310.40" width="4.30" height="4.31" fill="#c4e1f3"/>
<rect x="63.50" y="310.40" width="4.30" height="4.31" fill="#d1f4f5"/>
<rect x="67.50" y="310.40" width="4.30" height="4.31" fill="#d0f3f5"/>
<rect x="71.50" y="310.40" width="4.30" height="4.31" fill="#9b97f0"/>
<rect x="75.50" y="310.40" width="4.30" height="4.31" fill="#764cf7"/>
<rect x="79.50" y="310.40" width="4.30" height="4.31" fill="#a5a9f0"/>
<rect x="83.50" y="310.40" width="4.30" height="4.31" fill="#c1dcf2"/>
<rect x="87.50" y="310.40" width="4.30" height="4.31" fill="#dffffe"/>
<rect x="91.50" y="310.40" width="4.30" height="4.31" fill="#9890f0"/>
<rect x="95.50" y="310.40" width="4.30" height="4.31" fill="#d5f9f7"/>
<rect x="99.50" y="310.40" width="4.30" height="4.31" fill="#bfdaf1"/>
<rect x="103.50" y="310.40" width="4.30" height="4.31" fill="#dafcfa"/>
<rect x="107.50" y="310.40" width="4.30" height="4.31" fill="#ceeff5"/>
<rect x="111.50" y="310.40" width="4.30" height="4.31" fill="#d2f6f6"/>
<rect x="115.50" y="310.40" width="4.30" height="4.31" fill="#adbaf0"/>
<rect x="119.50" y="310.40" width="4.30" height="4.31" fill="#d5f9f7"/>
<rect x="123.50" y="310.40" width="4.30" height="4.31" fill="#dafcfa"/>
<rect x="127.50" y="310.40" width="4.30" height="4.31" fill="#bbd5f1"/>
<rect x="131.50" y="310.40" width="4.30" height="4.31" fill="#7851f6"/>
<rect x="135.50" y="310.40" width="4.30" height="4.31" fill="#6b38da"/>
<rect x="139.50" y="310.40" width="4.30" height="4.31" fill="#b4c8f0"/>
<rect x="143.50" y="310.40" width="4.30" height="4.31" fill="#c2dff2"/>
<rect x="147.50" y="310.40" width="4.30" height="4.31" fill="#a0a1f0"/>
<rect x="151.50" y="310.40" width="4.30" height="4.31" fill="#b0c0f0"/>
<rect x="155.50" y="310.40" width="4.30" height="4.31" fill="#b1c2f0"/>
<rect x="159.50" y="310.40" width="4.30" height="4.31" fill="#a9b1f0"/>
<rect x="163.50" y="310.40" width="4.30" height="4.31" fill="#dafcfa"/>
<rect x="167.50" y="310.40" width="4.30" height="4.31" fill="#500e37"/>
<rect x="171.50" y="310.40" width="4.30" height="4.31" fill="#978df0"/>
<rect x="175.50" y="310.40" width="4.30" height="4.31" fill="#d4f8f6"/>
<rect x="179.50" y="310.40" width="4.30" height="4.31" fill="#d8fbf8"/>
<rect x="183.50" y="310.40" width="4.30" height="4.31" fill="#7244f8"/>
<rect x="187.50" y="310.40" width="4.30" height="4.31" fill="#51071b"/>
<rect x="191.50" y="310.40" width="4.30" height="4.31" fill="#612aa0"/>
<rect x="195.50" y="310.40" width="4.30" height="4.31" fill="#9d9af0"/>
<rect x="199.50" y="310.40" width="4.30" height="4.31" fill="#cdedf4"/>
<rect x="203.50" y="310.40" width="4.30" height="4.31" fill="#d7faf7"/>
<rect x="207.50" y="310.40" width="4.30" height="4.31" fill="#cff1f5"/>
<rect x="211.50" y="310.40" width="4.30" height="4.31" fill="#cff1f5"/>
<rect x="215.50" y="310.40" width="4.30" height="4.31" fill="#8a75f3"/>
<rect x="219.50" y="310.40" width="4.30" height="4.31" fill="#bdd7f1"/>
<rect x="223.50" y="310.40" width="4.30" height="4.31" fill="#c2dff2"/>
<rect x="227.50" y="310.40" width="4.30" height="4.31" fill="#d2f5f6"/>
<rect x="231.50" y="310.40" width="4.30" height="4.31" fill="#a9b1f0"/>
<rect x="235.50" y="310.40" width="4.30" height="4.31" fill="#968bf0"/>
<rect x="239.50" y="310.40" width="4.30" height="4.31" fill="#550000"/>
<rect x="243.50" y="310.40" width="4.30" height="4.31" fill="#6e3dec"/>
<rect x="247.50" y="310.40" width="4.30" height="4.31" fill="#958bf1"/>
<rect x="251.50" y="310.40" width="4.30" height="4.31" fill="#9080f2"/>
<rect x="255.50" y="310.40" width="4.30" height="4.31" fill="#b9d2f0"/>
<rect x="259.50" y="310.40" width="4.30" height="4.31" fill="#7f5ef5"/>
<rect x="263.50" y="310.40" width="4.30" height="4.31" fill="#9890f0"/>
<rect x="267.50" y="310.40" width="4.30" height="4.31" fill="#560206"/>
<rect x="7.50" y="314.41" width="4.30" height="4.31" fill="#54040f"/>
<rect x="11.50" y="314.41" width="4.30" height="4.31" fill="#907ff2"/>
<rect x="15.50" y="314.41" width="4.30" height="4.31" fill="#6e3ce9"/>
<rect x="19.50" y="314.41" width="4.30" height="4.31" fill="#d8fbf8"/>
<rect x="23.50" y="314.41" width="4.30" height="4.31" fill="#978ff0"/>
<rect x="27.50" y="314.41" width="4.30" height="4.31" fill="#9283f1"/>
<rect x="31.50" y="314.41" width="4.30" height="4.31" fill="#540410"/>
<rect x="35.50" y="314.41" width="4.30" height="4.31" fill="#560208"/>
<rect x="39.50" y="314.41" width="4.30" height="4.31" fill="#d7faf7"/>
<rect x="43.50" y="314.41" width="4.30" height="4.31" fill="#d4f8f6"/>
<rect x="47.50" y="314.41" width="4.30" height="4.31" fill="#dcfdfb"/>
<rect x="51.50" y="314.41" width="4.30" height="4.31" fill="#dbfcfa"/>
<rect x="55.50" y="314.41" width="4.30" height="4.31" fill="#cbebf4"/>
<rect x="59.50" y="314.41" width="4.30" height="4.31" fill="#f8ff40"/>
<rect x="63.50" y="314.41" width="4.30" height="4.31" fill="#7b56f6"/>
<rect x="67.50" y="314.41" width="4.30" height="4.31" fill="#d8fbf8"/>
<rect x="71.50" y="314.41" width="4.30" height="4.31" fill="#9890f0"/>
<rect x="75.50" y="314.41" width="4.30" height="4.31" fill="#cdedf4"/>
<rect x="79.50" y="314.41" width="4.30" height="4.31" fill="#b0bff0"/>
<rect x="83.50" y="314.41" width="4.30" height="4.31" fill="#c1ddf2"/>
<rect x="87.50" y="314.41" width="4.30" height="4.31" fill="#d9fcf9"/>
<rect x="91.50" y="314.41" width="4.30" height="4.31" fill="#ddfefd"/>
<rect x="95.50" y="314.41" width="4.30" height="4.31" fill="#cbebf4"/>
<rect x="99.50" y="314.41" width="4.30" height="4.31" fill="#d7faf8"/>
<rect x="103.50" y="314.41" width="4.30" height="4.31" fill="#bbd4f1"/>
<rect x="107.50" y="314.41" width="4.30" height="4.31" fill="#d6faf7"/>
<rect x="111.50" y="314.41" width="4.30" height="4.31" fill="#ddfdfc"/>
<rect x="115.50" y="314.41" width="4.30" height="4.31" fill="#c0dbf2"/>
<rect x="119.50" y="314.41" width="4.30" height="4.31" fill="#caeaf4"/>
<rect x="123.50" y="314.41" width="4.30" height="4.31" fill="#9b96f0"/>
<rect x="127.50" y="314.41" width="4.30" height="4.31" fill="#d6f9f7"/>
<rect x="131.50" y="314.41" width="4.30" height="4.31" fill="#9d99f0"/>
<rect x="135.50" y="314.41" width="4.30" height="4.31" fill="#6f3ff2"/>
<rect x="139.50" y="314.41" width="4.30" height="4.31" fill="#988ff0"/>
<rect x="143.50" y="314.41" width="4.30" height="4.31" fill="#d9fbf9"/>
<rect x="147.50" y="314.41" width="4.30" height="4.31" fill="#d3f6f6"/>
<rect x="151.50" y="314.41" width="4.30" height="4.31" fill="#530000"/>
<rect x="155.50" y="314.41" width="4.30" height="4.31" fill="#8972f3"/>
<rect x="159.50" y="314.41" width="4.30" height="4.31" fill="#d5f9f7"/>
<rect x="163.50" y="314.41" width="4.30" height="4.31" fill="#d9fcf9"/>
<rect x="167.50" y="314.41" width="4.30" height="4.31" fill="#7f5ef5"/>
<rect x="171.50" y="314.41" width="4.30" height="4.31" fill="#a09ff0"/>
<rect x="175.50" y="314.41" width="4.30" height="4.31" fill="#d8fbf8"/>
<rect x="179.50" y="314.41" width="4.30" height="4.31" fill="#cae9f4"/>
<rect x="183.50" y="314.41" width="4.30" height="4.31" fill="#a0a0f0"/>
<rect x="187.50" y="314.41" width="4.30" height="4.31" fill="#6530b6"/>
<rect x="191.50" y="314.41" width="4.30" height="4.31" fill="#7448f7"/>
<rect x="195.50" y="314.41" width="4.30" height="4.31" fill="#9183f1"/>
<rect x="199.50" y="314.41" width="4.30" height="4.31" fill="#dafcf9"/>
<rect x="203.50" y="314.41" width="4.30" height="4.31" fill="#bad3f0"/>
<rect x="207.50" y="314.41" width="4.30" height="4.31" fill="#cff1f5"/>
<rect x="211.50" y="314.41" width="4.30" height="4.31" fill="#9f9ef0"/>
<rect x="215.50" y="314.41" width="4.30" height="4.31" fill="#6d3ce9"/>
<rect x="219.50" y="314.41" width="4.30" height="4.31" fill="#754bf7"/>
<rect x="223.50" y="314.41" width="4.30" height="4.31" fill="#bdd8f1"/>
<rect x="227.50" y="314.41" width="4.30" height="4.31" fill="#968bf0"/>
<rect x="231.50" y="314.41" width="4.30" height="4.31" fill="#abb6f0"/>
<rect x="235.50" y="314.41" width="4.30" height="4.31" fill="#aebbf0"/>
<rect x="239.50" y="314.41" width="4.30" height="4.31" fill="#876df3"/>
<rect x="243.50" y="314.41" width="4.30" height="4.31" fill="#a4a8f0"/>
<rect x="247.50" y="314.41" width="4.30" height="4.31" fill="#754bf7"/>
<rect x="251.50" y="314.41" width="4.30" height="4.31" fill="#6f3ff3"/>
<rect x="255.50" y="314.41" width="4.30" height="4.31" fill="#bed8f1"/>
<rect x="259.50" y="314.41" width="4.30" height="4.31" fill="#8871f3"/>
<rect x="263.50" y="314.41" width="4.30" height="4.31" fill="#6c3ae0"/>
<rect x="267.50" y="314.41" width="4.30" height="4.31" fill="#500c32"/>
<rect x="7.50" y="318.41" width="4.30" height="4.31" fill="#d0f3f5"/>
<rect x="11.50" y="318.41" width="4.30" height="4.31" fill="#a6acf0"/>
<rect x="15.50" y="318.41" width="4.30" height="4.31" fill="#cef0f5"/>
<rect x="19.50" y="318.41" width="4.30" height="4.31" fill="#7549f7"/>
<rect x="23.50" y="318.41" width="4.30" height="4.31" fill="#50134b"/>
<rect x="27.50" y="318.41" width="4.30" height="4.31" fill="#a9b1f0"/>
<rect x="31.50" y="318.41" width="4.30" height="4.31" fill="#6631bc"/>
<rect x="35.50" y="318.41" width="4.30" height="4.31" fill="#530516"/>
<rect x="39.50" y="318.41" width="4.30" height="4.31" fill="#d7faf8"/>
<rect x="43.50" y="318.41" width="4.30" height="4.31" fill="#cdeff5"/>
<rect x="47.50" y="318.41" width="4.30" height="4.31" fill="#b9d1f0"/>
<rect x="51.50" y="318.41" width="4.30" height="4.31" fill="#9891f0"/>
<rect x="55.50" y="318.41" width="4.30" height="4.31" fill="#cff1f5"/>
<rect x="59.50" y="318.41" width="4.30" height="4.31" fill="#d9fcf9"/>
<rect x="63.50" y="318.41" width="4.30" height="4.31" fill="#b8d0f0"/>
<rect x="67.50" y="318.41" width="4.30" height="4.31" fill="#958bf1"/>
<rect x="71.50" y="318.41" width="4.30" height="4.31" fill="#7345f7"/>
<rect x="75.50" y="318.41" width="4.30" height="4.31" fill="#c1ddf2"/>
<rect x="79.50" y="318.41" width="4.30" height="4.31" fill="#6d3be4"/>
<rect x="83.50" y="318.41" width="4.30" height="4.31" fill="#cbebf4"/>
<rect x="87.50" y="318.41" width="4.30" height="4.31" fill="#dbfdfb"/>
<rect x="91.50" y="318.41" width="4.30" height="4.31" fill="#dafcfa"/>
<rect x="95.50" y="318.41" width="4.30" height="4.31" fill="#f0ff80"/>
<rect x="99.50" y="318.41" width="4.30" height="4.31" fill="#dcfdfc"/>
<rect x="103.50" y="318.41" width="4.30" height="4.31" fill="#7243f8"/>
<rect x="107.50" y="318.41" width="4.30" height="4.31" fill="#cdedf4"/>
<rect x="111.50" y="318.41" width="4.30" height="4.31" fill="#7d5af5"/>
<rect x="115.50" y="318.41" width="4.30" height="4.31" fill="#d0f2f5"/>
<rect x="119.50" y="318.41" width="4.30" height="4.31" fill="#6f3ff3"/>
<rect x="123.50" y="318.41" width="4.30" height="4.31" fill="#54040e"/>
<rect x="127.50" y="318.41" width="4.30" height="4.31" fill="#dafcfa"/>
<rect x="131.50" y="318.41" width="4.30" height="4.31" fill="#d2f6f6"/>
<rect x="135.50" y="318.41" width="4.30" height="4.31" fill="#8264f4"/>
<rect x="139.50" y="318.41" width="4.30" height="4.31" fill="#d5f9f6"/>
<rect x="143.50" y="318.41" width="4.30" height="4.31" fill="#764df7"/>
<rect x="147.50" y="318.41" width="4.30" height="4.31" fill="#d6faf7"/>
<rect x="151.50" y="318.41" width="4.30" height="4.31" fill="#6c3adf"/>
<rect x="155.50" y="318.41" width="4.30" height="4.31" fill="#7850f6"/>
<rect x="159.50" y="318.41" width="4.30" height="4.31" fill="#cef0f5"/>
<rect x="163.50" y="318.41" width="4.30" height="4.31" fill="#b2c3f0"/>
<rect x="167.50" y="318.41" width="4.30" height="4.31" fill="#b5caf0"/>
<rect x="171.50" y="318.41" width="4.30" height="4.31" fill="#d5f8f6"/>
<rect x="175.50" y="318.41" width="4.30" height="4.31" fill="#8f7df2"/>
<rect x="179.50" y="318.41" width="4.30" height="4.31" fill="#8b76f3"/>
<rect x="183.50" y="318.41" width="4.30" height="4.31" fill="#caeaf4"/>
<rect x="187.50" y="318.41" width="4.30" height="4.31" fill="#dcfdfb"/>
<rect x="191.50" y="318.41" width="4.30" height="4.31" fill="#9891f0"/>
<rect x="195.50" y="318.41" width="4.30" height="4.31" fill="#9081f2"/>
<rect x="199.50" y="318.41" width="4.30" height="4.31" fill="#978ef0"/>
<rect x="203.50" y="318.41" width="4.30" height="4.31" fill="#aab4f0"/>
<rect x="207.50" y="318.41" width="4.30" height="4.31" fill="#bfdaf1"/>
<rect x="211.50" y="318.41" width="4.30" height="4.31" fill="#d0f2f5"/>
<rect x="215.50" y="318.41" width="4.30" height="4.31" fill="#8971f3"/>
<rect x="219.50" y="318.41" width="4.30" height="4.31" fill="#51071c"/>
<rect x="223.50" y="318.41" width="4.30" height="4.31" fill="#cdeef4"/>
<rect x="227.50" y="318.41" width="4.30" height="4.31" fill="#a5aaf0"/>
<rect x="231.50" y="318.41" width="4.30" height="4.31" fill="#d0f2f5"/>
<rect x="235.50" y="318.41" width="4.30" height="4.31" fill="#b6ccf0"/>
<rect x="239.50" y="318.41" width="4.30" height="4.31" fill="#9182f1"/>
<rect x="243.50" y="318.41" width="4.30" height="4.31" fill="#7a54f6"/>
<rect x="247.50" y="318.41" width="4.30" height="4.31" fill="#ddfdfc"/>
<rect x="251.50" y="318.41" width="4.30" height="4.31" fill="#d3f6f6"/>
<rect x="255.50" y="318.41" width="4.30" height="4.31" fill="#7b56f6"/>
<rect x="259.50" y="318.41" width="4.30" height="4.31" fill="#c0dcf2"/>
<rect x="263.50" y="318.41" width="4.30" height="4.31" fill="#cbebf4"/>
<rect x="267.50" y="318.41" width="4.30" height="4.31" fill="#dcfdfb"/>
<rect x="7.50" y="322.42" width="4.30" height="4.31" fill="#defefd"/>
<rect x="11.50" y="322.42" width="4.30" height="4.31" fill="#9890f0"/>
<rect x="15.50" y="322.42" width="4.30" height="4.31" fill="#6c3adf"/>
<rect x="19.50" y="322.42" width="4.30" height="4.31" fill="#8a74f3"/>
<rect x="23.50" y="322.42" width="4.30" height="4.31" fill="#866df4"/>
<rect x="27.50" y="322.42" width="4.30" height="4.31" fill="#9a94f0"/>
<rect x="31.50" y="322.42" width="4.30" height="4.31" fill="#6e3dec"/>
<rect x="35.50" y="322.42" width="4.30" height="4.31" fill="#7040f7"/>
<rect x="39.50" y="322.42" width="4.30" height="4.31" fill="#d0f2f5"/>
<rect x="43.50" y="322.42" width="4.30" height="4.31" fill="#ccedf4"/>
<rect x="47.50" y="322.42" width="4.30" height="4.31" fill="#9a94f0"/>
<rect x="51.50" y="322.42" width="4.30" height="4.31" fill="#aebcf0"/>
<rect x="55.50" y="322.42" width="4.30" height="4.31" fill="#8468f4"/>
<rect x="59.50" y="322.42" width="4.30" height="4.31" fill="#bcd5f1"/>
<rect x="63.50" y="322.42" width="4.30" height="4.31" fill="#8060f5"/>
<rect x="67.50" y="322.42" width="4.30" height="4.31" fill="#c9e8f4"/>
<rect x="71.50" y="322.42" width="4.30" height="4.31" fill="#aebdf0"/>
<rect x="75.50" y="322.42" width="4.30" height="4.31" fill="#8972f3"/>
<rect x="79.50" y="322.42" width="4.30" height="4.31" fill="#c3dff2"/>
<rect x="83.50" y="322.42" width="4.30" height="4.31" fill="#6733c4"/>
<rect x="87.50" y="322.42" width="4.30" height="4.31" fill="#876ef3"/>
<rect x="91.50" y="322.42" width="4.30" height="4.31" fill="#dbfcfa"/>
<rect x="95.50" y="322.42" width="4.30" height="4.31" fill="#8973f3"/>
<rect x="99.50" y="322.42" width="4.30" height="4.31" fill="#d9fcf9"/>
<rect x="103.50" y="322.42" width="4.30" height="4.31" fill="#7850f6"/>
<rect x="107.50" y="322.42" width="4.30" height="4.31" fill="#9a94f0"/>
<rect x="111.50" y="322.42" width="4.30" height="4.31" fill="#bfd9f1"/>
<rect x="115.50" y="322.42" width="4.30" height="4.31" fill="#6a38d7"/>
<rect x="119.50" y="322.42" width="4.30" height="4.31" fill="#6733c3"/>
<rect x="123.50" y="322.42" width="4.30" height="4.31" fill="#8b76f3"/>
<rect x="127.50" y="322.42" width="4.30" height="4.31" fill="#d7faf8"/>
<rect x="131.50" y="322.42" width="4.30" height="4.31" fill="#d9fcf9"/>
<rect x="135.50" y="322.42" width="4.30" height="4.31" fill="#a7adf0"/>
<rect x="139.50" y="322.42" width="4.30" height="4.31" fill="#ddfdfc"/>
<rect x="143.50" y="322.42" width="4.30" height="4.31" fill="#7f5ef5"/>
<rect x="147.50" y="322.42" width="4.30" height="4.31" fill="#866cf4"/>
<rect x="151.50" y="322.42" width="4.30" height="4.31" fill="#9386f1"/>
<rect x="155.50" y="322.42" width="4.30" height="4.31" fill="#5c2489"/>
<rect x="159.50" y="322.42" width="4.30" height="4.31" fill="#c6e3f3"/>
<rect x="163.50" y="322.42" width="4.30" height="4.31" fill="#d9fcf9"/>
<rect x="167.50" y="322.42" width="4.30" height="4.31" fill="#6f3ef2"/>
<rect x="171.50" y="322.42" width="4.30" height="4.31" fill="#d4f8f6"/>
<rect x="175.50" y="322.42" width="4.30" height="4.31" fill="#592180"/>
<rect x="179.50" y="322.42" width="4.30" height="4.31" fill="#7e5bf5"/>
<rect x="183.50" y="322.42" width="4.30" height="4.31" fill="#b4c8f0"/>
<rect x="187.50" y="322.42" width="4.30" height="4.31" fill="#d9fcf9"/>
<rect x="191.50" y="322.42" width="4.30" height="4.31" fill="#6b39db"/>
<rect x="195.50" y="322.42" width="4.30" height="4.31" fill="#c6e4f3"/>
<rect x="199.50" y="322.42" width="4.30" height="4.31" fill="#a2a4f0"/>
<rect x="203.50" y="322.42" width="4.30" height="4.31" fill="#ceeff5"/>
<rect x="207.50" y="322.42" width="4.30" height="4.31" fill="#8264f4"/>
<rect x="211.50" y="322.42" width="4.30" height="4.31" fill="#a9b2f0"/>
<rect x="215.50" y="322.42" width="4.30" height="4.31" fill="#aab5f0"/>
<rect x="219.50" y="322.42" width="4.30" height="4.31" fill="#b8d0f0"/>
<rect x="223.50" y="322.42" width="4.30" height="4.31" fill="#d3f7f6"/>
<rect x="227.50" y="322.42" width="4.30" height="4.31" fill="#d0f2f5"/>
<rect x="231.50" y="322.42" width="4.30" height="4.31" fill="#7d59f5"/>
<rect x="235.50" y="322.42" width="4.30" height="4.31" fill="#50081f"/>
<rect x="239.50" y="322.42" width="4.30" height="4.31" fill="#bfdaf1"/>
<rect x="243.50" y="322.42" width="4.30" height="4.31" fill="#52061a"/>
<rect x="247.50" y="322.42" width="4.30" height="4.31" fill="#bed9f1"/>
<rect x="251.50" y="322.42" width="4.30" height="4.31" fill="#6c3ae1"/>
<rect x="255.50" y="322.42" width="4.30" height="4.31" fill="#774ff7"/>
<rect x="259.50" y="322.42" width="4.30" height="4.31" fill="#856af4"/>
<rect x="263.50" y="322.42" width="4.30" height="4.31" fill="#a7aef0"/>
<rect x="267.50" y="322.42" width="4.30" height="4.31" fill="#a6acf0"/>
<rect x="7.50" y="326.42" width="4.30" height="4.31" fill="#9d9af0"/>
<rect x="11.50" y="326.42" width="4.30" height="4.31" fill="#a6acf0"/>
<rect x="15.50" y="326.42" width="4.30" height="4.31" fill="#6b39dc"/>
<rect x="19.50" y="326.42" width="4.30" height="4.31" fill="#500a27"/>
<rect x="23.50" y="326.42" width="4.30" height="4.31" fill="#a5aaf0"/>
<rect x="27.50" y="326.42" width="4.30" height="4.31" fill="#500e39"/>
<rect x="31.50" y="326.42" width="4.30" height="4.31" fill="#bcd5f1"/>
<rect x="35.50" y="326.42" width="4.30" height="4.31" fill="#9c98f0"/>
<rect x="39.50" y="326.42" width="4.30" height="4.31" fill="#d8fbf8"/>
<rect x="43.50" y="326.42" width="4.30" height="4.31" fill="#d8fbf8"/>
<rect x="47.50" y="326.42" width="4.30" height="4.31" fill="#6e3cea"/>
<rect x="51.50" y="326.42" width="4.30" height="4.31" fill="#440000"/>
<rect x="55.50" y="326.42" width="4.30" height="4.31" fill="#a6acf0"/>
<rect x="59.50" y="326.42" width="4.30" height="4.31" fill="#dbfcfb"/>
<rect x="63.50" y="326.42" width="4.30" height="4.31" fill="#cdeef4"/>
<rect x="67.50" y="326.42" width="4.30" height="4.31" fill="#9e9df0"/>
<rect x="71.50" y="326.42" width="4.30" height="4.31" fill="#d4f8f6"/>
<rect x="75.50" y="326.42" width="4.30" height="4.31" fill="#ceeff5"/>
<rect x="79.50" y="326.42" width="4.30" height="4.31" fill="#ceeff5"/>
<rect x="83.50" y="326.42" width="4.30" height="4.31" fill="#9a93f0"/>
<rect x="87.50" y="326.42" width="4.30" height="4.31" fill="#d9fcf9"/>
<rect x="91.50" y="326.42" width="4.30" height="4.31" fill="#caeaf4"/>
<rect x="95.50" y="326.42" width="4.30" height="4.31" fill="#ccedf4"/>
<rect x="99.50" y="326.42" width="4.30" height="4.31" fill="#b4c7f0"/>
<rect x="103.50" y="326.42" width="4.30" height="4.31" fill="#6a37d3"/>
<rect x="107.50" y="326.42" width="4.30" height="4.31" fill="#8264f4"/>
<rect x="111.50" y="326.42" width="4.30" height="4.31" fill="#dafcfa"/>
<rect x="115.50" y="326.42" width="4.30" height="4.31" fill="#b1c2f0"/>
<rect x="119.50" y="326.42" width="4.30" height="4.31" fill="#7142f8"/>
<rect x="123.50" y="326.42" width="4.30" height="4.31" fill="#9d9af0"/>
<rect x="127.50" y="326.42" width="4.30" height="4.31" fill="#d9fbf9"/>
<rect x="131.50" y="326.42" width="4.30" height="4.31" fill="#d3f7f6"/>
<rect x="135.50" y="326.42" width="4.30" height="4.31" fill="#d8fbf8"/>
<rect x="139.50" y="326.42" width="4.30" height="4.31" fill="#c0dcf2"/>
<rect x="143.50" y="326.42" width="4.30" height="4.31" fill="#a1a3f0"/>
<rect x="147.50" y="326.42" width="4.30" height="4.31" fill="#51071a"/>
<rect x="151.50" y="326.42" width="4.30" height="4.31" fill="#55030b"/>
<rect x="155.50" y="326.42" width="4.30" height="4.31" fill="#cbebf4"/>
<rect x="159.50" y="326.42" width="4.30" height="4.31" fill="#8e7df2"/>
<rect x="163.50" y="326.42" width="4.30" height="4.31" fill="#8060f5"/>
<rect x="167.50" y="326.42" width="4.30" height="4.31" fill="#d0f2f5"/>
<rect x="171.50" y="326.42" width="4.30" height="4.31" fill="#bcd6f1"/>
<rect x="175.50" y="326.42" width="4.30" height="4.31" fill="#6f3ef2"/>
<rect x="179.50" y="326.42" width="4.30" height="4.31" fill="#856af4"/>
<rect x="183.50" y="326.42" width="4.30" height="4.31" fill="#8870f3"/>
<rect x="187.50" y="326.42" width="4.30" height="4.31" fill="#7b56f6"/>
<rect x="191.50" y="326.42" width="4.30" height="4.31" fill="#cef0f5"/>
<rect x="195.50" y="326.42" width="4.30" height="4.31" fill="#a0a0f0"/>
<rect x="199.50" y="326.42" width="4.30" height="4.31" fill="#8c77f2"/>
<rect x="203.50" y="326.42" width="4.30" height="4.31" fill="#7e5cf5"/>
<rect x="207.50" y="326.42" width="4.30" height="4.31" fill="#8a75f3"/>
<rect x="211.50" y="326.42" width="4.30" height="4.31" fill="#bad3f1"/>
<rect x="215.50" y="326.42" width="4.30" height="4.31" fill="#8366f4"/>
<rect x="219.50" y="326.42" width="4.30" height="4.31" fill="#d5f9f7"/>
<rect x="223.50" y="326.42" width="4.30" height="4.31" fill="#c0dbf2"/>
<rect x="227.50" y="326.42" width="4.30" height="4.31" fill="#b8d0f0"/>
<rect x="231.50" y="326.42" width="4.30" height="4.31" fill="#8870f3"/>
<rect x="235.50" y="326.42" width="4.30" height="4.31" fill="#500c30"/>
<rect x="239.50" y="326.42" width="4.30" height="4.31" fill="#55030d"/>
<rect x="243.50" y="326.42" width="4.30" height="4.31" fill="#570102"/>
<rect x="247.50" y="326.42" width="4.30" height="4.31" fill="#d9fcf9"/>
<rect x="251.50" y="326.42" width="4.30" height="4.31" fill="#d9fcf9"/>
<rect x="255.50" y="326.42" width="4.30" height="4.31" fill="#8870f3"/>
<rect x="259.50" y="326.42" width="4.30" height="4.31" fill="#aab4f0"/>
<rect x="263.50" y="326.42" width="4.30" height="4.31" fill="#b7cef0"/>
<rect x="267.50" y="326.42" width="4.30" height="4.31" fill="#c1dcf2"/>
<rect x="7.50" y="330.43" width="4.30" height="4.31" fill="#d0f2f5"/>
<rect x="11.50" y="330.43" width="4.30" height="4.31" fill="#c4e2f3"/>
<rect x="15.50" y="330.43" width="4.30" height="4.31" fill="#7245f8"/>
<rect x="19.50" y="330.43" width="4.30" height="4.31" fill="#764bf7"/>
<rect x="23.50" y="330.43" width="4.30" height="4.31" fill="#6d3be5"/>
<rect x="27.50" y="330.43" width="4.30" height="4.31" fill="#9a93f0"/>
<rect x="31.50" y="330.43" width="4.30" height="4.31" fill="#8a74f3"/>
<rect x="35.50" y="330.43" width="4.30" height="4.31" fill="#d2f6f6"/>
<rect x="39.50" y="330.43" width="4.30" height="4.31" fill="#d6f9f7"/>
<rect x="43.50" y="330.43" width="4.30" height="4.31" fill="#caeaf4"/>
<rect x="47.50" y="330.43" width="4.30" height="4.31" fill="#7b56f6"/>
<rect x="51.50" y="330.43" width="4.30" height="4.31" fill="#b7cef0"/>
<rect x="55.50" y="330.43" width="4.30" height="4.31" fill="#c9e8f4"/>
<rect x="59.50" y="330.43" width="4.30" height="4.31" fill="#d8fbf8"/>
<rect x="63.50" y="330.43" width="4.30" height="4.31" fill="#d2f5f6"/>
<rect x="67.50" y="330.43" width="4.30" height="4.31" fill="#7f5ef5"/>
<rect x="71.50" y="330.43" width="4.30" height="4.31" fill="#d6faf7"/>
<rect x="75.50" y="330.43" width="4.30" height="4.31" fill="#d7faf8"/>
<rect x="79.50" y="330.43" width="4.30" height="4.31" fill="#a3a5f0"/>
<rect x="83.50" y="330.43" width="4.30" height="4.31" fill="#6c3ae0"/>
<rect x="87.50" y="330.43" width="4.30" height="4.31" fill="#d8fbf8"/>
<rect x="91.50" y="330.43" width="4.30" height="4.31" fill="#774ef7"/>
<rect x="95.50" y="330.43" width="4.30" height="4.31" fill="#bcd6f1"/>
<rect x="99.50" y="330.43" width="4.30" height="4.31" fill="#f0ff80"/>
<rect x="103.50" y="330.43" width="4.30" height="4.31" fill="#c2dff2"/>
<rect x="107.50" y="330.43" width="4.30" height="4.31" fill="#9a95f0"/>
<rect x="111.50" y="330.43" width="4.30" height="4.31" fill="#9d9af0"/>
<rect x="115.50" y="330.43" width="4.30" height="4.31" fill="#876ef3"/>
<rect x="119.50" y="330.43" width="4.30" height="4.31" fill="#c3dff2"/>
<rect x="123.50" y="330.43" width="4.30" height="4.31" fill="#ccecf4"/>
<rect x="127.50" y="330.43" width="4.30" height="4.31" fill="#988ff0"/>
<rect x="131.50" y="330.43" width="4.30" height="4.31" fill="#d6faf7"/>
<rect x="135.50" y="330.43" width="4.30" height="4.31" fill="#d5f9f7"/>
<rect x="139.50" y="330.43" width="4.30" height="4.31" fill="#7347f7"/>
<rect x="143.50" y="330.43" width="4.30" height="4.31" fill="#9891f0"/>
<rect x="147.50" y="330.43" width="4.30" height="4.31" fill="#c8e7f3"/>
<rect x="151.50" y="330.43" width="4.30" height="4.31" fill="#7141f8"/>
<rect x="155.50" y="330.43" width="4.30" height="4.31" fill="#bfdaf1"/>
<rect x="159.50" y="330.43" width="4.30" height="4.31" fill="#bbd4f1"/>
<rect x="163.50" y="330.43" width="4.30" height="4.31" fill="#988ff0"/>
<rect x="167.50" y="330.43" width="4.30" height="4.31" fill="#d5f8f6"/>
<rect x="171.50" y="330.43" width="4.30" height="4.31" fill="#d1f3f5"/>
<rect x="175.50" y="330.43" width="4.30" height="4.31" fill="#5f2796"/>
<rect x="179.50" y="330.43" width="4.30" height="4.31" fill="#968bf0"/>
<rect x="183.50" y="330.43" width="4.30" height="4.31" fill="#6c39de"/>
<rect x="187.50" y="330.43" width="4.30" height="4.31" fill="#7040f8"/>
<rect x="191.50" y="330.43" width="4.30" height="4.31" fill="#c7e5f3"/>
<rect x="195.50" y="330.43" width="4.30" height="4.31" fill="#978ef0"/>
<rect x="199.50" y="330.43" width="4.30" height="4.31" fill="#c4e1f3"/>
<rect x="203.50" y="330.43" width="4.30" height="4.31" fill="#6c3ade"/>
<rect x="207.50" y="330.43" width="4.30" height="4.31" fill="#500c2f"/>
<rect x="211.50" y="330.43" width="4.30" height="4.31" fill="#9283f1"/>
<rect x="215.50" y="330.43" width="4.30" height="4.31" fill="#ccedf4"/>
<rect x="219.50" y="330.43" width="4.30" height="4.31" fill="#b3c7f0"/>
<rect x="223.50" y="330.43" width="4.30" height="4.31" fill="#c1ddf2"/>
<rect x="227.50" y="330.43" width="4.30" height="4.31" fill="#c2def2"/>
<rect x="231.50" y="330.43" width="4.30" height="4.31" fill="#6834c7"/>
<rect x="235.50" y="330.43" width="4.30" height="4.31" fill="#6936d0"/>
<rect x="239.50" y="330.43" width="4.30" height="4.31" fill="#784ff6"/>
<rect x="243.50" y="330.43" width="4.30" height="4.31" fill="#550000"/>
<rect x="247.50" y="330.43" width="4.30" height="4.31" fill="#caeaf4"/>
<rect x="251.50" y="330.43" width="4.30" height="4.31" fill="#d8fbf8"/>
<rect x="255.50" y="330.43" width="4.30" height="4.31" fill="#6936ce"/>
<rect x="259.50" y="330.43" width="4.30" height="4.31" fill="#b0c0f0"/>
<rect x="263.50" y="330.43" width="4.30" height="4.31" fill="#cdeef4"/>
<rect x="267.50" y="330.43" width="4.30" height="4.31" fill="#9891f0"/>
<rect x="7.50" y="334.43" width="4.30" height="4.31" fill="#f0ff80"/>
<rect x="11.50" y="334.43" width="4.30" height="4.31" fill="#ddfefd"/>
<rect x="15.50" y="334.43" width="4.30" height="4.31" fill="#bfd9f1"/>
<rect x="19.50" y="334.43" width="4.30" height="4.31" fill="#500c30"/>
<rect x="23.50" y="334.43" width="4.30" height="4.31" fill="#6c3ae0"/>
<rect x="27.50" y="334.43" width="4.30" height="4.31" fill="#6a37d4"/>
<rect x="31.50" y="334.43" width="4.30" height="4.31" fill="#7b55f6"/>
<rect x="35.50" y="334.43" width="4.30" height="4.31" fill="#bdd7f1"/>
<rect x="39.50" y="334.43" width="4.30" height="4.31" fill="#6d3be6"/>
<rect x="43.50" y="334.43" width="4.30" height="4.31" fill="#774ef7"/>
<rect x="47.50" y="334.43" width="4.30" height="4.31" fill="#9e9df0"/>
<rect x="51.50" y="334.43" width="4.30" height="4.31" fill="#50175a"/>
<rect x="55.50" y="334.43" width="4.30" height="4.31" fill="#d6faf7"/>
<rect x="59.50" y="334.43" width="4.30" height="4.31" fill="#a2a4f0"/>
<rect x="63.50" y="334.43" width="4.30" height="4.31" fill="#c4e1f3"/>
<rect x="67.50" y="334.43" width="4.30" height="4.31" fill="#defefe"/>
<rect x="71.50" y="334.43" width="4.30" height="4.31" fill="#510000"/>
<rect x="75.50" y="334.43" width="4.30" height="4.31" fill="#7c58f6"/>
<rect x="79.50" y="334.43" width="4.30" height="4.31" fill="#580001"/>
<rect x="83.50" y="334.43" width="4.30" height="4.31" fill="#c8e7f3"/>
<rect x="87.50" y="334.43" width="4.30" height="4.31" fill="#dbfdfb"/>
<rect x="91.50" y="334.43" width="4.30" height="4.31" fill="#c8e8f4"/>
<rect x="95.50" y="334.43" width="4.30" height="4.31" fill="#784ff6"/>
<rect x="99.50" y="334.43" width="4.30" height="4.31" fill="#6f3ff2"/>
<rect x="103.50" y="334.43" width="4.30" height="4.31" fill="#500b2d"/>
<rect x="107.50" y="334.43" width="4.30" height="4.31" fill="#7f5ef5"/>
<rect x="111.50" y="334.43" width="4.30" height="4.31" fill="#bdd7f1"/>
<rect x="115.50" y="334.43" width="4.30" height="4.31" fill="#c8e6f3"/>
<rect x="119.50" y="334.43" width="4.30" height="4.31" fill="#bed8f1"/>
<rect x="123.50" y="334.43" width="4.30" height="4.31" fill="#bbd4f1"/>
<rect x="127.50" y="334.43" width="4.30" height="4.31" fill="#8162f5"/>
<rect x="131.50" y="334.43" width="4.30" height="4.31" fill="#876ef3"/>
<rect x="135.50" y="334.43" width="4.30" height="4.31" fill="#6d3ce7"/>
<rect x="139.50" y="334.43" width="4.30" height="4.31" fill="#642eb1"/>
<rect x="143.50" y="334.43" width="4.30" height="4.31" fill="#d5f9f7"/>
<rect x="147.50" y="334.43" width="4.30" height="4.31" fill="#7850f6"/>
<rect x="151.50" y="334.43" width="4.30" height="4.31" fill="#501450"/>
<rect x="155.50" y="334.43" width="4.30" height="4.31" fill="#9d99f0"/>
<rect x="159.50" y="334.43" width="4.30" height="4.31" fill="#6834c9"/>
<rect x="163.50" y="334.43" width="4.30" height="4.31" fill="#7a54f6"/>
<rect x="167.50" y="334.43" width="4.30" height="4.31" fill="#c8e7f4"/>
<rect x="171.50" y="334.43" width="4.30" height="4.31" fill="#dbfdfb"/>
<rect x="175.50" y="334.43" width="4.30" height="4.31" fill="#540410"/>
<rect x="179.50" y="334.43" width="4.30" height="4.31" fill="#c4e2f3"/>
<rect x="183.50" y="334.43" width="4.30" height="4.31" fill="#54040f"/>
<rect x="187.50" y="334.43" width="4.30" height="4.31" fill="#9386f1"/>
<rect x="191.50" y="334.43" width="4.30" height="4.31" fill="#c7e6f3"/>
<rect x="195.50" y="334.43" width="4.30" height="4.31" fill="#b2c5f0"/>
<rect x="199.50" y="334.43" width="4.30" height="4.31" fill="#7448f7"/>
<rect x="203.50" y="334.43" width="4.30" height="4.31" fill="#50124a"/>
<rect x="207.50" y="334.43" width="4.30" height="4.31" fill="#8162f5"/>
<rect x="211.50" y="334.43" width="4.30" height="4.31" fill="#afbdf0"/>
<rect x="215.50" y="334.43" width="4.30" height="4.31" fill="#50175b"/>
<rect x="219.50" y="334.43" width="4.30" height="4.31" fill="#7245f8"/>
<rect x="223.50" y="334.43" width="4.30" height="4.31" fill="#b9d2f0"/>
<rect x="227.50" y="334.43" width="4.30" height="4.31" fill="#8b77f3"/>
<rect x="231.50" y="334.43" width="4.30" height="4.31" fill="#d9fcf9"/>
<rect x="235.50" y="334.43" width="4.30" height="4.31" fill="#9181f1"/>
<rect x="239.50" y="334.43" width="4.30" height="4.31" fill="#560208"/>
<rect x="243.50" y="334.43" width="4.30" height="4.31" fill="#7142f8"/>
<rect x="247.50" y="334.43" width="4.30" height="4.31" fill="#ceeff5"/>
<rect x="251.50" y="334.43" width="4.30" height="4.31" fill="#d5f8f6"/>
<rect x="255.50" y="334.43" width="4.30" height="4.31" fill="#6d3be6"/>
<rect x="259.50" y="334.43" width="4.30" height="4.31" fill="#b6cdf0"/>
<rect x="263.50" y="334.43" width="4.30" height="4.31" fill="#c7e5f3"/>
<rect x="267.50" y="334.43" width="4.30" height="4.31" fill="#d6faf7"/>
<rect x="7.50" y="338.44" width="4.30" height="4.31" fill="#dafcfa"/>
<rect x="11.50" y="338.44" width="4.30" height="4.31" fill="#d8fbf8"/>
<rect x="15.50" y="338.44" width="4.30" height="4.31" fill="#7851f6"/>
<rect x="19.50" y="338.44" width="4.30" height="4.31" fill="#7952f6"/>
<rect x="23.50" y="338.44" width="4.30" height="4.31" fill="#d7faf7"/>
<rect x="27.50" y="338.44" width="4.30" height="4.31" fill="#d5f8f6"/>
<rect x="31.50" y="338.44" width="4.30" height="4.31" fill="#c8e6f3"/>
<rect x="35.50" y="338.44" width="4.30" height="4.31" fill="#764df7"/>
<rect x="39.50" y="338.44" width="4.30" height="4.31" fill="#7143f8"/>
<rect x="43.50" y="338.44" width="4.30" height="4.31" fill="#7e5cf5"/>
<rect x="47.50" y="338.44" width="4.30" height="4.31" fill="#c0dcf2"/>
<rect x="51.50" y="338.44" width="4.30" height="4.31" fill="#8163f5"/>
<rect x="55.50" y="338.44" width="4.30" height="4.31" fill="#8060f5"/>
<rect x="59.50" y="338.44" width="4.30" height="4.31" fill="#cbebf4"/>
<rect x="63.50" y="338.44" width="4.30" height="4.31" fill="#defefd"/>
<rect x="67.50" y="338.44" width="4.30" height="4.31" fill="#ddfdfc"/>
<rect x="71.50" y="338.44" width="4.30" height="4.31" fill="#9e9bf0"/>
<rect x="75.50" y="338.44" width="4.30" height="4.31" fill="#6c39dd"/>
<rect x="79.50" y="338.44" width="4.30" height="4.31" fill="#642eb2"/>
<rect x="83.50" y="338.44" width="4.30" height="4.31" fill="#7a55f6"/>
<rect x="87.50" y="338.44" width="4.30" height="4.31" fill="#dafcfa"/>
<rect x="91.50" y="338.44" width="4.30" height="4.31" fill="#ccedf4"/>
<rect x="95.50" y="338.44" width="4.30" height="4.31" fill="#d4f8f6"/>
<rect x="99.50" y="338.44" width="4.30" height="4.31" fill="#a0a0f0"/>
<rect x="103.50" y="338.44" width="4.30" height="4.31" fill="#a5abf0"/>
<rect x="107.50" y="338.44" width="4.30" height="4.31" fill="#7f5ff5"/>
<rect x="111.50" y="338.44" width="4.30" height="4.31" fill="#d1f3f5"/>
<rect x="115.50" y="338.44" width="4.30" height="4.31" fill="#ccedf4"/>
<rect x="119.50" y="338.44" width="4.30" height="4.31" fill="#c2def2"/>
<rect x="123.50" y="338.44" width="4.30" height="4.31" fill="#7a53f6"/>
<rect x="127.50" y="338.44" width="4.30" height="4.31" fill="#622aa2"/>
<rect x="131.50" y="338.44" width="4.30" height="4.31" fill="#8973f3"/>
<rect x="135.50" y="338.44" width="4.30" height="4.31" fill="#7c58f6"/>
<rect x="139.50" y="338.44" width="4.30" height="4.31" fill="#764bf7"/>
<rect x="143.50" y="338.44" width="4.30" height="4.31" fill="#acb8f0"/>
<rect x="147.50" y="338.44" width="4.30" height="4.31" fill="#856bf4"/>
<rect x="151.50" y="338.44" width="4.30" height="4.31" fill="#968cf0"/>
<rect x="155.50" y="338.44" width="4.30" height="4.31" fill="#9e9df0"/>
<rect x="159.50" y="338.44" width="4.30" height="4.31" fill="#8f7ef2"/>
<rect x="163.50" y="338.44" width="4.30" height="4.31" fill="#7850f6"/>
<rect x="167.50" y="338.44" width="4.30" height="4.31" fill="#cdeef5"/>
<rect x="171.50" y="338.44" width="4.30" height="4.31" fill="#8971f3"/>
<rect x="175.50" y="338.44" width="4.30" height="4.31" fill="#774ff7"/>
<rect x="179.50" y="338.44" width="4.30" height="4.31" fill="#500a28"/>
<rect x="183.50" y="338.44" width="4.30" height="4.31" fill="#9891f0"/>
<rect x="187.50" y="338.44" width="4.30" height="4.31" fill="#7953f6"/>
<rect x="191.50" y="338.44" width="4.30" height="4.31" fill="#d1f4f5"/>
<rect x="195.50" y="338.44" width="4.30" height="4.31" fill="#7e5df5"/>
<rect x="199.50" y="338.44" width="4.30" height="4.31" fill="#8f7ef2"/>
<rect x="203.50" y="338.44" width="4.30" height="4.31" fill="#6f3ff2"/>
<rect x="207.50" y="338.44" width="4.30" height="4.31" fill="#b1c2f0"/>
<rect x="211.50" y="338.44" width="4.30" height="4.31" fill="#c6e3f3"/>
<rect x="215.50" y="338.44" width="4.30" height="4.31" fill="#c0dbf2"/>
<rect x="219.50" y="338.44" width="4.30" height="4.31" fill="#6632bf"/>
<rect x="223.50" y="338.44" width="4.30" height="4.31" fill="#c7e5f3"/>
<rect x="227.50" y="338.44" width="4.30" height="4.31" fill="#cdeef4"/>
<rect x="231.50" y="338.44" width="4.30" height="4.31" fill="#dbfcfa"/>
<rect x="235.50" y="338.44" width="4.30" height="4.31" fill="#d8fbf8"/>
<rect x="239.50" y="338.44" width="4.30" height="4.31" fill="#570106"/>
<rect x="243.50" y="338.44" width="4.30" height="4.31" fill="#550000"/>
<rect x="247.50" y="338.44" width="4.30" height="4.31" fill="#d8fbf8"/>
<rect x="251.50" y="338.44" width="4.30" height="4.31" fill="#d2f5f5"/>
<rect x="255.50" y="338.44" width="4.30" height="4.31" fill="#7a55f6"/>
<rect x="259.50" y="338.44" width="4.30" height="4.31" fill="#b8d0f0"/>
<rect x="263.50" y="338.44" width="4.30" height="4.31" fill="#acb8f0"/>
<rect x="267.50" y="338.44" width="4.30" height="4.31" fill="#aab5f0"/>
<rect x="7.50" y="342.44" width="4.30" height="4.31" fill="#ffc700"/>
<rect x="11.50" y="342.44" width="4.30" height="4.31" fill="#f9ff36"/>
<rect x="15.50" y="342.44" width="4.30" height="4.31" fill="#7346f7"/>
<rect x="19.50" y="342.44" width="4.30" height="4.31" fill="#6834c8"/>
<rect x="23.50" y="342.44" width="4.30" height="4.31" fill="#bfdbf2"/>
<rect x="27.50" y="342.44" width="4.30" height="4.31" fill="#7448f7"/>
<rect x="31.50" y="342.44" width="4.30" height="4.31" fill="#bed9f1"/>
<rect x="35.50" y="342.44" width="4.30" height="4.31" fill="#dafcfa"/>
<rect x="39.50" y="342.44" width="4.30" height="4.31" fill="#550000"/>
<rect x="43.50" y="342.44" width="4.30" height="4.31" fill="#7549f7"/>
<rect x="47.50" y="342.44" width="4.30" height="4.31" fill="#560208"/>
<rect x="51.50" y="342.44" width="4.30" height="4.31" fill="#8569f4"/>
<rect x="55.50" y="342.44" width="4.30" height="4.31" fill="#bcd6f1"/>
<rect x="59.50" y="342.44" width="4.30" height="4.31" fill="#c4e0f2"/>
<rect x="63.50" y="342.44" width="4.30" height="4.31" fill="#d6faf7"/>
<rect x="67.50" y="342.44" width="4.30" height="4.31" fill="#a4a8f0"/>
<rect x="71.50" y="342.44" width="4.30" height="4.31" fill="#cae9f4"/>
<rect x="75.50" y="342.44" width="4.30" height="4.31" fill="#9f9ef0"/>
<rect x="79.50" y="342.44" width="4.30" height="4.31" fill="#c5e3f3"/>
<rect x="83.50" y="342.44" width="4.30" height="4.31" fill="#7d5af5"/>
<rect x="87.50" y="342.44" width="4.30" height="4.31" fill="#7142f8"/>
<rect x="91.50" y="342.44" width="4.30" height="4.31" fill="#470000"/>
<rect x="95.50" y="342.44" width="4.30" height="4.31" fill="#acb8f0"/>
<rect x="99.50" y="342.44" width="4.30" height="4.31" fill="#dbfdfb"/>
<rect x="103.50" y="342.44" width="4.30" height="4.31" fill="#9c98f0"/>
<rect x="107.50" y="342.44" width="4.30" height="4.31" fill="#d7faf7"/>
<rect x="111.50" y="342.44" width="4.30" height="4.31" fill="#856bf4"/>
<rect x="115.50" y="342.44" width="4.30" height="4.31" fill="#a2a3f0"/>
<rect x="119.50" y="342.44" width="4.30" height="4.31" fill="#a0a0f0"/>
<rect x="123.50" y="342.44" width="4.30" height="4.31" fill="#afbef0"/>
<rect x="127.50" y="342.44" width="4.30" height="4.31" fill="#6f3ff4"/>
<rect x="131.50" y="342.44" width="4.30" height="4.31" fill="#bdd7f1"/>
<rect x="135.50" y="342.44" width="4.30" height="4.31" fill="#7c57f6"/>
<rect x="139.50" y="342.44" width="4.30" height="4.31" fill="#d9fcf9"/>
<rect x="143.50" y="342.44" width="4.30" height="4.31" fill="#cff1f5"/>
<rect x="147.50" y="342.44" width="4.30" height="4.31" fill="#856bf4"/>
<rect x="151.50" y="342.44" width="4.30" height="4.31" fill="#dafcfa"/>
<rect x="155.50" y="342.44" width="4.30" height="4.31" fill="#d8fbf8"/>
<rect x="159.50" y="342.44" width="4.30" height="4.31" fill="#caeaf4"/>
<rect x="163.50" y="342.44" width="4.30" height="4.31" fill="#c7e6f3"/>
<rect x="167.50" y="342.44" width="4.30" height="4.31" fill="#ddfefc"/>
<rect x="171.50" y="342.44" width="4.30" height="4.31" fill="#bdd7f1"/>
<rect x="175.50" y="342.44" width="4.30" height="4.31" fill="#9489f1"/>
<rect x="179.50" y="342.44" width="4.30" height="4.31" fill="#6834c6"/>
<rect x="183.50" y="342.44" width="4.30" height="4.31" fill="#dcfdfb"/>
<rect x="187.50" y="342.44" width="4.30" height="4.31" fill="#d9fbf9"/>
<rect x="191.50" y="342.44" width="4.30" height="4.31" fill="#bed8f1"/>
<rect x="195.50" y="342.44" width="4.30" height="4.31" fill="#a3a7f0"/>
<rect x="199.50" y="342.44" width="4.30" height="4.31" fill="#9993f0"/>
<rect x="203.50" y="342.44" width="4.30" height="4.31" fill="#540410"/>
<rect x="207.50" y="342.44" width="4.30" height="4.31" fill="#754bf7"/>
<rect x="211.50" y="342.44" width="4.30" height="4.31" fill="#8263f4"/>
<rect x="215.50" y="342.44" width="4.30" height="4.31" fill="#6c3ae2"/>
<rect x="219.50" y="342.44" width="4.30" height="4.31" fill="#7e5bf5"/>
<rect x="223.50" y="342.44" width="4.30" height="4.31" fill="#8f7ef2"/>
<rect x="227.50" y="342.44" width="4.30" height="4.31" fill="#c8e6f3"/>
<rect x="231.50" y="342.44" width="4.30" height="4.31" fill="#6e3deb"/>
<rect x="235.50" y="342.44" width="4.30" height="4.31" fill="#500a27"/>
<rect x="239.50" y="342.44" width="4.30" height="4.31" fill="#b2c3f0"/>
<rect x="243.50" y="342.44" width="4.30" height="4.31" fill="#ccedf4"/>
<rect x="247.50" y="342.44" width="4.30" height="4.31" fill="#c3dff2"/>
<rect x="251.50" y="342.44" width="4.30" height="4.31" fill="#c6e4f3"/>
<rect x="255.50" y="342.44" width="4.30" height="4.31" fill="#d4f7f6"/>
<rect x="259.50" y="342.44" width="4.30" height="4.31" fill="#520618"/>
<rect x="263.50" y="342.44" width="4.30" height="4.31" fill="#9081f2"/>
<rect x="267.50" y="342.44" width="4.30" height="4.31" fill="#8c79f2"/>
<rect x="7.50" y="346.45" width="4.30" height="4.31" fill="#ff9900"/>
<rect x="11.50" y="346.45" width="4.30" height="4.31" fill="#ffff00"/>
<rect x="15.50" y="346.45" width="4.30" height="4.31" fill="#b3c5f0"/>
<rect x="19.50" y="346.45" width="4.30" height="4.31" fill="#b9d1f0"/>
<rect x="23.50" y="346.45" width="4.30" height="4.31" fill="#aab5f0"/>
<rect x="27.50" y="346.45" width="4.30" height="4.31" fill="#7e5cf5"/>
<rect x="31.50" y="346.45" width="4.30" height="4.31" fill="#784ff6"/>
<rect x="35.50" y="346.45" width="4.30" height="4.31" fill="#d9fbf9"/>
<rect x="39.50" y="346.45" width="4.30" height="4.31" fill="#560207"/>
<rect x="43.50" y="346.45" width="4.30" height="4.31" fill="#500f3d"/>
<rect x="47.50" y="346.45" width="4.30" height="4.31" fill="#6f3ff2"/>
<rect x="51.50" y="346.45" width="4.30" height="4.31" fill="#7b55f6"/>
<rect x="55.50" y="346.45" width="4.30" height="4.31" fill="#d6faf7"/>
<rect x="59.50" y="346.45" width="4.30" height="4.31" fill="#c9e9f4"/>
<rect x="63.50" y="346.45" width="4.30" height="4.31" fill="#a3a7f0"/>
<rect x="67.50" y="346.45" width="4.30" height="4.31" fill="#7d59f5"/>
<rect x="71.50" y="346.45" width="4.30" height="4.31" fill="#b3c5f0"/>
<rect x="75.50" y="346.45" width="4.30" height="4.31" fill="#ceeff5"/>
<rect x="79.50" y="346.45" width="4.30" height="4.31" fill="#a0a0f0"/>
<rect x="83.50" y="346.45" width="4.30" height="4.31" fill="#907ff2"/>
<rect x="87.50" y="346.45" width="4.30" height="4.31" fill="#6f3ff3"/>
<rect x="91.50" y="346.45" width="4.30" height="4.31" fill="#b3c5f0"/>
<rect x="95.50" y="346.45" width="4.30" height="4.31" fill="#c0dbf2"/>
<rect x="99.50" y="346.45" width="4.30" height="4.31" fill="#c6e4f3"/>
<rect x="103.50" y="346.45" width="4.30" height="4.31" fill="#8e7cf2"/>
<rect x="107.50" y="346.45" width="4.30" height="4.31" fill="#d4f8f6"/>
<rect x="111.50" y="346.45" width="4.30" height="4.31" fill="#c4e1f2"/>
<rect x="115.50" y="346.45" width="4.30" height="4.31" fill="#6e3cea"/>
<rect x="119.50" y="346.45" width="4.30" height="4.31" fill="#9d9af0"/>
<rect x="123.50" y="346.45" width="4.30" height="4.31" fill="#c2def2"/>
<rect x="127.50" y="346.45" width="4.30" height="4.31" fill="#703ff6"/>
<rect x="131.50" y="346.45" width="4.30" height="4.31" fill="#a1a2f0"/>
<rect x="135.50" y="346.45" width="4.30" height="4.31" fill="#55030b"/>
<rect x="139.50" y="346.45" width="4.30" height="4.31" fill="#6d3be5"/>
<rect x="143.50" y="346.45" width="4.30" height="4.31" fill="#6d3be5"/>
<rect x="147.50" y="346.45" width="4.30" height="4.31" fill="#6e3deb"/>
<rect x="151.50" y="346.45" width="4.30" height="4.31" fill="#dcfdfc"/>
<rect x="155.50" y="346.45" width="4.30" height="4.31" fill="#d3f6f6"/>
<rect x="159.50" y="346.45" width="4.30" height="4.31" fill="#7d5bf5"/>
<rect x="163.50" y="346.45" width="4.30" height="4.31" fill="#9d9bf0"/>
<rect x="167.50" y="346.45" width="4.30" height="4.31" fill="#9e9cf0"/>
<rect x="171.50" y="346.45" width="4.30" height="4.31" fill="#9890f0"/>
<rect x="175.50" y="346.45" width="4.30" height="4.31" fill="#9e9cf0"/>
<rect x="179.50" y="346.45" width="4.30" height="4.31" fill="#9e9df0"/>
<rect x="183.50" y="346.45" width="4.30" height="4.31" fill="#978ff0"/>
<rect x="187.50" y="346.45" width="4.30" height="4.31" fill="#c5e3f3"/>
<rect x="191.50" y="346.45" width="4.30" height="4.31" fill="#b3c5f0"/>
<rect x="195.50" y="346.45" width="4.30" height="4.31" fill="#500820"/>
<rect x="199.50" y="346.45" width="4.30" height="4.31" fill="#8d79f2"/>
<rect x="203.50" y="346.45" width="4.30" height="4.31" fill="#570104"/>
<rect x="207.50" y="346.45" width="4.30" height="4.31" fill="#9b97f0"/>
<rect x="211.50" y="346.45" width="4.30" height="4.31" fill="#9386f1"/>
<rect x="215.50" y="346.45" width="4.30" height="4.31" fill="#6a37d4"/>
<rect x="219.50" y="346.45" width="4.30" height="4.31" fill="#8060f5"/>
<rect x="223.50" y="346.45" width="4.30" height="4.31" fill="#b3c6f0"/>
<rect x="227.50" y="346.45" width="4.30" height="4.31" fill="#cdeef4"/>
<rect x="231.50" y="346.45" width="4.30" height="4.31" fill="#754bf7"/>
<rect x="235.50" y="346.45" width="4.30" height="4.31" fill="#c3e0f2"/>
<rect x="239.50" y="346.45" width="4.30" height="4.31" fill="#d5f9f7"/>
<rect x="243.50" y="346.45" width="4.30" height="4.31" fill="#774ff7"/>
<rect x="247.50" y="346.45" width="4.30" height="4.31" fill="#bad3f0"/>
<rect x="251.50" y="346.45" width="4.30" height="4.31" fill="#d7faf7"/>
<rect x="255.50" y="346.45" width="4.30" height="4.31" fill="#c3e0f2"/>
<rect x="259.50" y="346.45" width="4.30" height="4.31" fill="#866cf4"/>
<rect x="263.50" y="346.45" width="4.30" height="4.31" fill="#8e7cf2"/>
<rect x="267.50" y="346.45" width="4.30" height="4.31" fill="#a4a8f0"/>
<rect x="7.50" y="350.46" width="4.30" height="4.31" fill="#ff8000"/>
<rect x="11.50" y="350.46" width="4.30" height="4.31" fill="#f8ff40"/>
<rect x="15.50" y="350.46" width="4.30" height="4.31" fill="#a4a8f0"/>
<rect x="19.50" y="350.46" width="4.30" height="4.31" fill="#a3a7f0"/>
<rect x="23.50" y="350.46" width="4.30" height="4.31" fill="#d4f8f6"/>
<rect x="27.50" y="350.46" width="4.30" height="4.31" fill="#7d5bf5"/>
<rect x="31.50" y="350.46" width="4.30" height="4.31" fill="#d9fbf9"/>
<rect x="35.50" y="350.46" width="4.30" height="4.31" fill="#9c97f0"/>
<rect x="39.50" y="350.46" width="4.30" height="4.31" fill="#9a94f0"/>
<rect x="43.50" y="350.46" width="4.30" height="4.31" fill="#bdd7f1"/>
<rect x="47.50" y="350.46" width="4.30" height="4.31" fill="#856af4"/>
<rect x="51.50" y="350.46" width="4.30" height="4.31" fill="#c6e4f3"/>
<rect x="55.50" y="350.46" width="4.30" height="4.31" fill="#7e5bf5"/>
<rect x="59.50" y="350.46" width="4.30" height="4.31" fill="#d6f9f7"/>
<rect x="63.50" y="350.46" width="4.30" height="4.31" fill="#defefd"/>
<rect x="67.50" y="350.46" width="4.30" height="4.31" fill="#ddfefd"/>
<rect x="71.50" y="350.46" width="4.30" height="4.31" fill="#9488f1"/>
<rect x="75.50" y="350.46" width="4.30" height="4.31" fill="#6d3be5"/>
<rect x="79.50" y="350.46" width="4.30" height="4.31" fill="#d9fcf9"/>
<rect x="83.50" y="350.46" width="4.30" height="4.31" fill="#d7faf7"/>
<rect x="87.50" y="350.46" width="4.30" height="4.31" fill="#afbef0"/>
<rect x="91.50" y="350.46" width="4.30" height="4.31" fill="#ccecf4"/>
<rect x="95.50" y="350.46" width="4.30" height="4.31" fill="#d5f9f6"/>
<rect x="99.50" y="350.46" width="4.30" height="4.31" fill="#a2a4f0"/>
<rect x="103.50" y="350.46" width="4.30" height="4.31" fill="#dafcfa"/>
<rect x="107.50" y="350.46" width="4.30" height="4.31" fill="#a6abf0"/>
<rect x="111.50" y="350.46" width="4.30" height="4.31" fill="#6c3adf"/>
<rect x="115.50" y="350.46" width="4.30" height="4.31" fill="#774df7"/>
<rect x="119.50" y="350.46" width="4.30" height="4.31" fill="#7951f6"/>
<rect x="123.50" y="350.46" width="4.30" height="4.31" fill="#6f3ff2"/>
<rect x="127.50" y="350.46" width="4.30" height="4.31" fill="#9992f0"/>
<rect x="131.50" y="350.46" width="4.30" height="4.31" fill="#bdd7f1"/>
<rect x="135.50" y="350.46" width="4.30" height="4.31" fill="#a8b1f0"/>
<rect x="139.50" y="350.46" width="4.30" height="4.31" fill="#c5e3f3"/>
<rect x="143.50" y="350.46" width="4.30" height="4.31" fill="#c3dff2"/>
<rect x="147.50" y="350.46" width="4.30" height="4.31" fill="#774df7"/>
<rect x="151.50" y="350.46" width="4.30" height="4.31" fill="#51071d"/>
<rect x="155.50" y="350.46" width="4.30" height="4.31" fill="#6834c8"/>
<rect x="159.50" y="350.46" width="4.30" height="4.31" fill="#7952f6"/>
<rect x="163.50" y="350.46" width="4.30" height="4.31" fill="#784ff6"/>
<rect x="167.50" y="350.46" width="4.30" height="4.31" fill="#6936d0"/>
<rect x="171.50" y="350.46" width="4.30" height="4.31" fill="#8973f3"/>
<rect x="175.50" y="350.46" width="4.30" height="4.31" fill="#7244f8"/>
<rect x="179.50" y="350.46" width="4.30" height="4.31" fill="#7e5cf5"/>
<rect x="183.50" y="350.46" width="4.30" height="4.31" fill="#9182f1"/>
<rect x="187.50" y="350.46" width="4.30" height="4.31" fill="#c6e4f3"/>
<rect x="191.50" y="350.46" width="4.30" height="4.31" fill="#b4c7f0"/>
<rect x="195.50" y="350.46" width="4.30" height="4.31" fill="#bad3f0"/>
<rect x="199.50" y="350.46" width="4.30" height="4.31" fill="#d5f9f7"/>
<rect x="203.50" y="350.46" width="4.30" height="4.31" fill="#8f7df2"/>
<rect x="207.50" y="350.46" width="4.30" height="4.31" fill="#a4a9f0"/>
<rect x="211.50" y="350.46" width="4.30" height="4.31" fill="#8365f4"/>
<rect x="215.50" y="350.46" width="4.30" height="4.31" fill="#9488f1"/>
<rect x="219.50" y="350.46" width="4.30" height="4.31" fill="#805ff5"/>
<rect x="223.50" y="350.46" width="4.30" height="4.31" fill="#d8fbf8"/>
<rect x="227.50" y="350.46" width="4.30" height="4.31" fill="#cff2f5"/>
<rect x="231.50" y="350.46" width="4.30" height="4.31" fill="#500000"/>
<rect x="235.50" y="350.46" width="4.30" height="4.31" fill="#5e2690"/>
<rect x="239.50" y="350.46" width="4.30" height="4.31" fill="#703ff6"/>
<rect x="243.50" y="350.46" width="4.30" height="4.31" fill="#7245f8"/>
<rect x="247.50" y="350.46" width="4.30" height="4.31" fill="#4c0000"/>
<rect x="251.50" y="350.46" width="4.30" height="4.31" fill="#a9b1f0"/>
<rect x="255.50" y="350.46" width="4.30" height="4.31" fill="#9080f2"/>
<rect x="259.50" y="350.46" width="4.30" height="4.31" fill="#52061a"/>
<rect x="263.50" y="350.46" width="4.30" height="4.31" fill="#c9e8f4"/>
<rect x="267.50" y="350.46" width="4.30" height="4.31" fill="#774ff7"/>
<rect x="7.50" y="354.46" width="4.30" height="4.31" fill="#d7faf8"/>
<rect x="11.50" y="354.46" width="4.30" height="4.31" fill="#8265f4"/>
<rect x="15.50" y="354.46" width="4.30" height="4.31" fill="#afbff0"/>
<rect x="19.50" y="354.46" width="4.30" height="4.31" fill="#b2c3f0"/>
<rect x="23.50" y="354.46" width="4.30" height="4.31" fill="#9890f0"/>
<rect x="27.50" y="354.46" width="4.30" height="4.31" fill="#7243f8"/>
<rect x="31.50" y="354.46" width="4.30" height="4.31" fill="#c5e2f3"/>
<rect x="35.50" y="354.46" width="4.30" height="4.31" fill="#cbebf4"/>
<rect x="39.50" y="354.46" width="4.30" height="4.31" fill="#51071b"/>
<rect x="43.50" y="354.46" width="4.30" height="4.31" fill="#aab3f0"/>
<rect x="47.50" y="354.46" width="4.30" height="4.31" fill="#bbd4f1"/>
<rect x="51.50" y="354.46" width="4.30" height="4.31" fill="#56020a"/>
<rect x="55.50" y="354.46" width="4.30" height="4.31" fill="#bcd6f1"/>
<rect x="59.50" y="354.46" width="4.30" height="4.31" fill="#b9d2f0"/>
<rect x="63.50" y="354.46" width="4.30" height="4.31" fill="#ddfdfc"/>
<rect x="67.50" y="354.46" width="4.30" height="4.31" fill="#dcfdfc"/>
<rect x="71.50" y="354.46" width="4.30" height="4.31" fill="#c7e6f3"/>
<rect x="75.50" y="354.46" width="4.30" height="4.31" fill="#a3a6f0"/>
<rect x="79.50" y="354.46" width="4.30" height="4.31" fill="#9991f0"/>
<rect x="83.50" y="354.46" width="4.30" height="4.31" fill="#c2dff2"/>
<rect x="87.50" y="354.46" width="4.30" height="4.31" fill="#a4a8f0"/>
<rect x="91.50" y="354.46" width="4.30" height="4.31" fill="#ceeff5"/>
<rect x="95.50" y="354.46" width="4.30" height="4.31" fill="#8c78f2"/>
<rect x="99.50" y="354.46" width="4.30" height="4.31" fill="#b9d1f0"/>
<rect x="103.50" y="354.46" width="4.30" height="4.31" fill="#bad2f0"/>
<rect x="107.50" y="354.46" width="4.30" height="4.31" fill="#a7aef0"/>
<rect x="111.50" y="354.46" width="4.30" height="4.31" fill="#7244f8"/>
<rect x="115.50" y="354.46" width="4.30" height="4.31" fill="#51071d"/>
<rect x="119.50" y="354.46" width="4.30" height="4.31" fill="#d4f8f6"/>
<rect x="123.50" y="354.46" width="4.30" height="4.31" fill="#d7faf8"/>
<rect x="127.50" y="354.46" width="4.30" height="4.31" fill="#7a55f6"/>
<rect x="131.50" y="354.46" width="4.30" height="4.31" fill="#6e3ded"/>
<rect x="135.50" y="354.46" width="4.30" height="4.31" fill="#d1f4f5"/>
<rect x="139.50" y="354.46" width="4.30" height="4.31" fill="#b2c4f0"/>
<rect x="143.50" y="354.46" width="4.30" height="4.31" fill="#8b77f3"/>
<rect x="147.50" y="354.46" width="4.30" height="4.31" fill="#6e3deb"/>
<rect x="151.50" y="354.46" width="4.30" height="4.31" fill="#6b38d8"/>
<rect x="155.50" y="354.46" width="4.30" height="4.31" fill="#8569f4"/>
<rect x="159.50" y="354.46" width="4.30" height="4.31" fill="#d9fcf9"/>
<rect x="163.50" y="354.46" width="4.30" height="4.31" fill="#9e9bf0"/>
<rect x="167.50" y="354.46" width="4.30" height="4.31" fill="#570103"/>
<rect x="171.50" y="354.46" width="4.30" height="4.31" fill="#a7aff0"/>
<rect x="175.50" y="354.46" width="4.30" height="4.31" fill="#6733c5"/>
<rect x="179.50" y="354.46" width="4.30" height="4.31" fill="#7245f8"/>
<rect x="183.50" y="354.46" width="4.30" height="4.31" fill="#c5e3f3"/>
<rect x="187.50" y="354.46" width="4.30" height="4.31" fill="#a6acf0"/>
<rect x="191.50" y="354.46" width="4.30" height="4.31" fill="#6530b6"/>
<rect x="195.50" y="354.46" width="4.30" height="4.31" fill="#cff2f5"/>
<rect x="199.50" y="354.46" width="4.30" height="4.31" fill="#9f9ef0"/>
<rect x="203.50" y="354.46" width="4.30" height="4.31" fill="#cdeef5"/>
<rect x="207.50" y="354.46" width="4.30" height="4.31" fill="#7c58f6"/>
<rect x="211.50" y="354.46" width="4.30" height="4.31" fill="#7346f7"/>
<rect x="215.50" y="354.46" width="4.30" height="4.31" fill="#7851f6"/>
<rect x="219.50" y="354.46" width="4.30" height="4.31" fill="#500923"/>
<rect x="223.50" y="354.46" width="4.30" height="4.31" fill="#d8fbf8"/>
<rect x="227.50" y="354.46" width="4.30" height="4.31" fill="#dafcfa"/>
<rect x="231.50" y="354.46" width="4.30" height="4.31" fill="#6530b6"/>
<rect x="235.50" y="354.46" width="4.30" height="4.31" fill="#540411"/>
<rect x="239.50" y="354.46" width="4.30" height="4.31" fill="#7041f8"/>
<rect x="243.50" y="354.46" width="4.30" height="4.31" fill="#978df0"/>
<rect x="247.50" y="354.46" width="4.30" height="4.31" fill="#8d7af2"/>
<rect x="251.50" y="354.46" width="4.30" height="4.31" fill="#7142f8"/>
<rect x="255.50" y="354.46" width="4.30" height="4.31" fill="#9c98f0"/>
<rect x="259.50" y="354.46" width="4.30" height="4.31" fill="#856bf4"/>
<rect x="263.50" y="354.46" width="4.30" height="4.31" fill="#d2f6f6"/>
<rect x="267.50" y="354.46" width="4.30" height="4.31" fill="#ccedf4"/>
<rect x="7.50" y="358.47" width="4.30" height="4.31" fill="#9d9af0"/>
<rect x="11.50" y="358.47" width="4.30" height="4.31" fill="#774df7"/>
<rect x="15.50" y="358.47" width="4.30" height="4.31" fill="#d5f9f7"/>
<rect x="19.50" y="358.47" width="4.30" height="4.31" fill="#d5f9f6"/>
<rect x="23.50" y="358.47" width="4.30" height="4.31" fill="#c4e1f3"/>
<rect x="27.50" y="358.47" width="4.30" height="4.31" fill="#c6e4f3"/>
<rect x="31.50" y="358.47" width="4.30" height="4.31" fill="#b8d0f0"/>
<rect x="35.50" y="358.47" width="4.30" height="4.31" fill="#9890f0"/>
<rect x="39.50" y="358.47" width="4.30" height="4.31" fill="#cff1f5"/>
<rect x="43.50" y="358.47" width="4.30" height="4.31" fill="#d2f5f6"/>
<rect x="47.50" y="358.47" width="4.30" height="4.31" fill="#aab4f0"/>
<rect x="51.50" y="358.47" width="4.30" height="4.31" fill="#afbdf0"/>
<rect x="55.50" y="358.47" width="4.30" height="4.31" fill="#6b38d9"/>
<rect x="59.50" y="358.47" width="4.30" height="4.31" fill="#7448f7"/>
<rect x="63.50" y="358.47" width="4.30" height="4.31" fill="#f8ff40"/>
<rect x="67.50" y="358.47" width="4.30" height="4.31" fill="#9386f1"/>
<rect x="71.50" y="358.47" width="4.30" height="4.31" fill="#d7faf8"/>
<rect x="75.50" y="358.47" width="4.30" height="4.31" fill="#d4f8f6"/>
<rect x="79.50" y="358.47" width="4.30" height="4.31" fill="#521a66"/>
<rect x="83.50" y="358.47" width="4.30" height="4.31" fill="#7040f7"/>
<rect x="87.50" y="358.47" width="4.30" height="4.31" fill="#cdeef4"/>
<rect x="91.50" y="358.47" width="4.30" height="4.31" fill="#d5f9f7"/>
<rect x="95.50" y="358.47" width="4.30" height="4.31" fill="#d6faf7"/>
<rect x="99.50" y="358.47" width="4.30" height="4.31" fill="#d0f2f5"/>
<rect x="103.50" y="358.47" width="4.30" height="4.31" fill="#652fb5"/>
<rect x="107.50" y="358.47" width="4.30" height="4.31" fill="#6e3cea"/>
<rect x="111.50" y="358.47" width="4.30" height="4.31" fill="#bad3f0"/>
<rect x="115.50" y="358.47" width="4.30" height="4.31" fill="#a7aef0"/>
<rect x="119.50" y="358.47" width="4.30" height="4.31" fill="#a4a8f0"/>
<rect x="123.50" y="358.47" width="4.30" height="4.31" fill="#9f9ef0"/>
<rect x="127.50" y="358.47" width="4.30" height="4.31" fill="#a0a0f0"/>
<rect x="131.50" y="358.47" width="4.30" height="4.31" fill="#8468f4"/>
<rect x="135.50" y="358.47" width="4.30" height="4.31" fill="#6935cc"/>
<rect x="139.50" y="358.47" width="4.30" height="4.31" fill="#8060f5"/>
<rect x="143.50" y="358.47" width="4.30" height="4.31" fill="#8870f3"/>
<rect x="147.50" y="358.47" width="4.30" height="4.31" fill="#cae9f4"/>
<rect x="151.50" y="358.47" width="4.30" height="4.31" fill="#9080f2"/>
<rect x="155.50" y="358.47" width="4.30" height="4.31" fill="#774ef7"/>
<rect x="159.50" y="358.47" width="4.30" height="4.31" fill="#7141f8"/>
<rect x="163.50" y="358.47" width="4.30" height="4.31" fill="#9080f2"/>
<rect x="167.50" y="358.47" width="4.30" height="4.31" fill="#b1c2f0"/>
<rect x="171.50" y="358.47" width="4.30" height="4.31" fill="#cdedf4"/>
<rect x="175.50" y="358.47" width="4.30" height="4.31" fill="#9489f1"/>
<rect x="179.50" y="358.47" width="4.30" height="4.31" fill="#aab4f0"/>
<rect x="183.50" y="358.47" width="4.30" height="4.31" fill="#7f5ef5"/>
<rect x="187.50" y="358.47" width="4.30" height="4.31" fill="#bbd4f1"/>
<rect x="191.50" y="358.47" width="4.30" height="4.31" fill="#520617"/>
<rect x="195.50" y="358.47" width="4.30" height="4.31" fill="#530513"/>
<rect x="199.50" y="358.47" width="4.30" height="4.31" fill="#9e9cf0"/>
<rect x="203.50" y="358.47" width="4.30" height="4.31" fill="#7952f6"/>
<rect x="207.50" y="358.47" width="4.30" height="4.31" fill="#a3a6f0"/>
<rect x="211.50" y="358.47" width="4.30" height="4.31" fill="#774ef7"/>
<rect x="215.50" y="358.47" width="4.30" height="4.31" fill="#500e38"/>
<rect x="219.50" y="358.47" width="4.30" height="4.31" fill="#a5aaf0"/>
<rect x="223.50" y="358.47" width="4.30" height="4.31" fill="#978ff0"/>
<rect x="227.50" y="358.47" width="4.30" height="4.31" fill="#632dac"/>
<rect x="231.50" y="358.47" width="4.30" height="4.31" fill="#bed9f1"/>
<rect x="235.50" y="358.47" width="4.30" height="4.31" fill="#6d3ce6"/>
<rect x="239.50" y="358.47" width="4.30" height="4.31" fill="#dbfdfb"/>
<rect x="243.50" y="358.47" width="4.30" height="4.31" fill="#dafcfa"/>
<rect x="247.50" y="358.47" width="4.30" height="4.31" fill="#642eaf"/>
<rect x="251.50" y="358.47" width="4.30" height="4.31" fill="#774df7"/>
<rect x="255.50" y="358.47" width="4.30" height="4.31" fill="#a9b1f0"/>
<rect x="259.50" y="358.47" width="4.30" height="4.31" fill="#8162f5"/>
<rect x="263.50" y="358.47" width="4.30" height="4.31" fill="#9f9df0"/>
<rect x="267.50" y="358.47" width="4.30" height="4.31" fill="#bed8f1"/>
<rect x="7.50" y="362.47" width="4.30" height="4.31" fill="#754bf7"/>
<rect x="11.50" y="362.47" width="4.30" height="4.31" fill="#551d70"/>
<rect x="15.50" y="362.47" width="4.30" height="4.31" fill="#c6e4f3"/>
<rect x="19.50" y="362.47" width="4.30" height="4.31" fill="#afbef0"/>
<rect x="23.50" y="362.47" width="4.30" height="4.31" fill="#7a54f6"/>
<rect x="27.50" y="362.47" width="4.30" height="4.31" fill="#7951f6"/>
<rect x="31.50" y="362.47" width="4.30" height="4.31" fill="#6f3ff5"/>
<rect x="35.50" y="362.47" width="4.30" height="4.31" fill="#774ef7"/>
<rect x="39.50" y="362.47" width="4.30" height="4.31" fill="#cdeff5"/>
<rect x="43.50" y="362.47" width="4.30" height="4.31" fill="#d5f9f7"/>
<rect x="47.50" y="362.47" width="4.30" height="4.31" fill="#bcd6f1"/>
<rect x="51.50" y="362.47" width="4.30" height="4.31" fill="#9992f0"/>
<rect x="55.50" y="362.47" width="4.30" height="4.31" fill="#a9b1f0"/>
<rect x="59.50" y="362.47" width="4.30" height="4.31" fill="#6632be"/>
<rect x="63.50" y="362.47" width="4.30" height="4.31" fill="#cbebf4"/>
<rect x="67.50" y="362.47" width="4.30" height="4.31" fill="#a5aaf0"/>
<rect x="71.50" y="362.47" width="4.30" height="4.31" fill="#a3a5f0"/>
<rect x="75.50" y="362.47" width="4.30" height="4.31" fill="#d0f3f5"/>
<rect x="79.50" y="362.47" width="4.30" height="4.31" fill="#866cf4"/>
<rect x="83.50" y="362.47" width="4.30" height="4.31" fill="#61299c"/>
<rect x="87.50" y="362.47" width="4.30" height="4.31" fill="#c8e6f3"/>
<rect x="91.50" y="362.47" width="4.30" height="4.31" fill="#8060f5"/>
<rect x="95.50" y="362.47" width="4.30" height="4.31" fill="#dafcfa"/>
<rect x="99.50" y="362.47" width="4.30" height="4.31" fill="#a3a6f0"/>
<rect x="103.50" y="362.47" width="4.30" height="4.31" fill="#6d3ce8"/>
<rect x="107.50" y="362.47" width="4.30" height="4.31" fill="#a7aef0"/>
<rect x="111.50" y="362.47" width="4.30" height="4.31" fill="#6d3ce8"/>
<rect x="115.50" y="362.47" width="4.30" height="4.31" fill="#8163f5"/>
<rect x="119.50" y="362.47" width="4.30" height="4.31" fill="#c6e4f3"/>
<rect x="123.50" y="362.47" width="4.30" height="4.31" fill="#8c78f2"/>
<rect x="127.50" y="362.47" width="4.30" height="4.31" fill="#8f7ef2"/>
<rect x="131.50" y="362.47" width="4.30" height="4.31" fill="#a9b2f0"/>
<rect x="135.50" y="362.47" width="4.30" height="4.31" fill="#9993f0"/>
<rect x="139.50" y="362.47" width="4.30" height="4.31" fill="#7245f8"/>
<rect x="143.50" y="362.47" width="4.30" height="4.31" fill="#6f3ef1"/>
<rect x="147.50" y="362.47" width="4.30" height="4.31" fill="#bcd6f1"/>
<rect x="151.50" y="362.47" width="4.30" height="4.31" fill="#d0f2f5"/>
<rect x="155.50" y="362.47" width="4.30" height="4.31" fill="#8e7df2"/>
<rect x="159.50" y="362.47" width="4.30" height="4.31" fill="#784ff6"/>
<rect x="163.50" y="362.47" width="4.30" height="4.31" fill="#c4e2f3"/>
<rect x="167.50" y="362.47" width="4.30" height="4.31" fill="#d3f6f6"/>
<rect x="171.50" y="362.47" width="4.30" height="4.31" fill="#d5f9f6"/>
<rect x="175.50" y="362.47" width="4.30" height="4.31" fill="#b4c8f0"/>
<rect x="179.50" y="362.47" width="4.30" height="4.31" fill="#8265f4"/>
<rect x="183.50" y="362.47" width="4.30" height="4.31" fill="#7f5ff5"/>
<rect x="187.50" y="362.47" width="4.30" height="4.31" fill="#6733c3"/>
<rect x="191.50" y="362.47" width="4.30" height="4.31" fill="#7c59f6"/>
<rect x="195.50" y="362.47" width="4.30" height="4.31" fill="#6834c8"/>
<rect x="199.50" y="362.47" width="4.30" height="4.31" fill="#7f5ff5"/>
<rect x="203.50" y="362.47" width="4.30" height="4.31" fill="#7a53f6"/>
<rect x="207.50" y="362.47" width="4.30" height="4.31" fill="#8f7ef2"/>
<rect x="211.50" y="362.47" width="4.30" height="4.31" fill="#a6abf0"/>
<rect x="215.50" y="362.47" width="4.30" height="4.31" fill="#8a75f3"/>
<rect x="219.50" y="362.47" width="4.30" height="4.31" fill="#adbaf0"/>
<rect x="223.50" y="362.47" width="4.30" height="4.31" fill="#9181f1"/>
<rect x="227.50" y="362.47" width="4.30" height="4.31" fill="#6f3ef0"/>
<rect x="231.50" y="362.47" width="4.30" height="4.31" fill="#968bf0"/>
<rect x="235.50" y="362.47" width="4.30" height="4.31" fill="#55030e"/>
<rect x="239.50" y="362.47" width="4.30" height="4.31" fill="#d4f8f6"/>
<rect x="243.50" y="362.47" width="4.30" height="4.31" fill="#dafcfa"/>
<rect x="247.50" y="362.47" width="4.30" height="4.31" fill="#6d3be6"/>
<rect x="251.50" y="362.47" width="4.30" height="4.31" fill="#7b55f6"/>
<rect x="255.50" y="362.47" width="4.30" height="4.31" fill="#cef0f5"/>
<rect x="259.50" y="362.47" width="4.30" height="4.31" fill="#7040f8"/>
<rect x="263.50" y="362.47" width="4.30" height="4.31" fill="#9181f1"/>
<rect x="267.50" y="362.47" width="4.30" height="4.31" fill="#cdeff5"/>
<rect x="7.50" y="366.48" width="4.30" height="4.31" fill="#d8fbf8"/>
<rect x="11.50" y="366.48" width="4.30" height="4.31" fill="#c2def2"/>
<rect x="15.50" y="366.48" width="4.30" height="4.31" fill="#8f7ef2"/>
<rect x="19.50" y="366.48" width="4.30" height="4.31" fill="#8265f4"/>
<rect x="23.50" y="366.48" width="4.30" height="4.31" fill="#b8d1f0"/>
<rect x="27.50" y="366.48" width="4.30" height="4.31" fill="#a9b1f0"/>
<rect x="31.50" y="366.48" width="4.30" height="4.31" fill="#8366f4"/>
<rect x="35.50" y="366.48" width="4.30" height="4.31" fill="#764cf7"/>
<rect x="39.50" y="366.48" width="4.30" height="4.31" fill="#d4f8f6"/>
<rect x="43.50" y="366.48" width="4.30" height="4.31" fill="#d5f9f7"/>
<rect x="47.50" y="366.48" width="4.30" height="4.31" fill="#d4f7f6"/>
<rect x="51.50" y="366.48" width="4.30" height="4.31" fill="#d5f9f7"/>
<rect x="55.50" y="366.48" width="4.30" height="4.31" fill="#570103"/>
<rect x="59.50" y="366.48" width="4.30" height="4.31" fill="#b8cff0"/>
<rect x="63.50" y="366.48" width="4.30" height="4.31" fill="#d6faf7"/>
<rect x="67.50" y="366.48" width="4.30" height="4.31" fill="#cdeff5"/>
<rect x="71.50" y="366.48" width="4.30" height="4.31" fill="#6e3deb"/>
<rect x="75.50" y="366.48" width="4.30" height="4.31" fill="#d0f2f5"/>
<rect x="79.50" y="366.48" width="4.30" height="4.31" fill="#a8b0f0"/>
<rect x="83.50" y="366.48" width="4.30" height="4.31" fill="#a6acf0"/>
<rect x="87.50" y="366.48" width="4.30" height="4.31" fill="#530000"/>
<rect x="91.50" y="366.48" width="4.30" height="4.31" fill="#978df0"/>
<rect x="95.50" y="366.48" width="4.30" height="4.31" fill="#dbfcfa"/>
<rect x="99.50" y="366.48" width="4.30" height="4.31" fill="#ccedf4"/>
<rect x="103.50" y="366.48" width="4.30" height="4.31" fill="#caeaf4"/>
<rect x="107.50" y="366.48" width="4.30" height="4.31" fill="#aab4f0"/>
<rect x="111.50" y="366.48" width="4.30" height="4.31" fill="#b2c4f0"/>
<rect x="115.50" y="366.48" width="4.30" height="4.31" fill="#540410"/>
<rect x="119.50" y="366.48" width="4.30" height="4.31" fill="#ccecf4"/>
<rect x="123.50" y="366.48" width="4.30" height="4.31" fill="#d5f9f6"/>
<rect x="127.50" y="366.48" width="4.30" height="4.31" fill="#d9fbf8"/>
<rect x="131.50" y="366.48" width="4.30" height="4.31" fill="#a0a0f0"/>
<rect x="135.50" y="366.48" width="4.30" height="4.31" fill="#978ef0"/>
<rect x="139.50" y="366.48" width="4.30" height="4.31" fill="#a4a8f0"/>
<rect x="143.50" y="366.48" width="4.30" height="4.31" fill="#7f5ef5"/>
<rect x="147.50" y="366.48" width="4.30" height="4.31" fill="#8870f3"/>
<rect x="151.50" y="366.48" width="4.30" height="4.31" fill="#d3f7f6"/>
<rect x="155.50" y="366.48" width="4.30" height="4.31" fill="#c8e6f3"/>
<rect x="159.50" y="366.48" width="4.30" height="4.31" fill="#6f3ef0"/>
<rect x="163.50" y="366.48" width="4.30" height="4.31" fill="#bad3f0"/>
<rect x="167.50" y="366.48" width="4.30" height="4.31" fill="#8163f5"/>
<rect x="171.50" y="366.48" width="4.30" height="4.31" fill="#bed9f1"/>
<rect x="175.50" y="366.48" width="4.30" height="4.31" fill="#d8fbf8"/>
<rect x="179.50" y="366.48" width="4.30" height="4.31" fill="#bcd6f1"/>
<rect x="183.50" y="366.48" width="4.30" height="4.31" fill="#ccedf4"/>
<rect x="187.50" y="366.48" width="4.30" height="4.31" fill="#d8fbf8"/>
<rect x="191.50" y="366.48" width="4.30" height="4.31" fill="#7447f7"/>
<rect x="195.50" y="366.48" width="4.30" height="4.31" fill="#c9e9f4"/>
<rect x="199.50" y="366.48" width="4.30" height="4.31" fill="#7141f8"/>
<rect x="203.50" y="366.48" width="4.30" height="4.31" fill="#b6ccf0"/>
<rect x="207.50" y="366.48" width="4.30" height="4.31" fill="#ceeff5"/>
<rect x="211.50" y="366.48" width="4.30" height="4.31" fill="#bdd8f1"/>
<rect x="215.50" y="366.48" width="4.30" height="4.31" fill="#b8d0f0"/>
<rect x="219.50" y="366.48" width="4.30" height="4.31" fill="#866cf4"/>
<rect x="223.50" y="366.48" width="4.30" height="4.31" fill="#6d3ce6"/>
<rect x="227.50" y="366.48" width="4.30" height="4.31" fill="#500f3e"/>
<rect x="231.50" y="366.48" width="4.30" height="4.31" fill="#d9fcf9"/>
<rect x="235.50" y="366.48" width="4.30" height="4.31" fill="#d7faf8"/>
<rect x="239.50" y="366.48" width="4.30" height="4.31" fill="#cff1f5"/>
<rect x="243.50" y="366.48" width="4.30" height="4.31" fill="#cff1f5"/>
<rect x="247.50" y="366.48" width="4.30" height="4.31" fill="#6c3ae1"/>
<rect x="251.50" y="366.48" width="4.30" height="4.31" fill="#bad3f0"/>
<rect x="255.50" y="366.48" width="4.30" height="4.31" fill="#7346f7"/>
<rect x="259.50" y="366.48" width="4.30" height="4.31" fill="#cdeef4"/>
<rect x="263.50" y="366.48" width="4.30" height="4.31" fill="#acb8f0"/>
<rect x="267.50" y="366.48" width="4.30" height="4.31" fill="#dafcfa"/>
<rect x="7.50" y="370.48" width="4.30" height="4.31" fill="#d9fbf9"/>
<rect x="11.50" y="370.48" width="4.30" height="4.31" fill="#d7faf8"/>
<rect x="15.50" y="370.48" width="4.30" height="4.31" fill="#9c97f0"/>
<rect x="19.50" y="370.48" width="4.30" height="4.31" fill="#6936d0"/>
<rect x="23.50" y="370.48" width="4.30" height="4.31" fill="#8161f5"/>
<rect x="27.50" y="370.48" width="4.30" height="4.31" fill="#876ff3"/>
<rect x="31.50" y="370.48" width="4.30" height="4.31" fill="#7850f6"/>
<rect x="35.50" y="370.48" width="4.30" height="4.31" fill="#784ff6"/>
<rect x="39.50" y="370.48" width="4.30" height="4.31" fill="#a1a2f0"/>
<rect x="43.50" y="370.48" width="4.30" height="4.31" fill="#a3a5f0"/>
<rect x="47.50" y="370.48" width="4.30" height="4.31" fill="#8c78f2"/>
<rect x="51.50" y="370.48" width="4.30" height="4.31" fill="#b5caf0"/>
<rect x="55.50" y="370.48" width="4.30" height="4.31" fill="#8d79f2"/>
<rect x="59.50" y="370.48" width="4.30" height="4.31" fill="#7448f7"/>
<rect x="63.50" y="370.48" width="4.30" height="4.31" fill="#866df4"/>
<rect x="67.50" y="370.48" width="4.30" height="4.31" fill="#c9e8f4"/>
<rect x="71.50" y="370.48" width="4.30" height="4.31" fill="#6b39dd"/>
<rect x="75.50" y="370.48" width="4.30" height="4.31" fill="#8366f4"/>
<rect x="79.50" y="370.48" width="4.30" height="4.31" fill="#a0a1f0"/>
<rect x="83.50" y="370.48" width="4.30" height="4.31" fill="#c9e8f4"/>
<rect x="87.50" y="370.48" width="4.30" height="4.31" fill="#7245f8"/>
<rect x="91.50" y="370.48" width="4.30" height="4.31" fill="#6733c5"/>
<rect x="95.50" y="370.48" width="4.30" height="4.31" fill="#a4a7f0"/>
<rect x="99.50" y="370.48" width="4.30" height="4.31" fill="#cae9f4"/>
<rect x="103.50" y="370.48" width="4.30" height="4.31" fill="#520617"/>
<rect x="107.50" y="370.48" width="4.30" height="4.31" fill="#ccecf4"/>
<rect x="111.50" y="370.48" width="4.30" height="4.31" fill="#9d9af0"/>
<rect x="115.50" y="370.48" width="4.30" height="4.31" fill="#b5c9f0"/>
<rect x="119.50" y="370.48" width="4.30" height="4.31" fill="#abb5f0"/>
<rect x="123.50" y="370.48" width="4.30" height="4.31" fill="#805ff5"/>
<rect x="127.50" y="370.48" width="4.30" height="4.31" fill="#9e9df0"/>
<rect x="131.50" y="370.48" width="4.30" height="4.31" fill="#ceeff5"/>
<rect x="135.50" y="370.48" width="4.30" height="4.31" fill="#b4c9f0"/>
<rect x="139.50" y="370.48" width="4.30" height="4.31" fill="#7447f7"/>
<rect x="143.50" y="370.48" width="4.30" height="4.31" fill="#caeaf4"/>
<rect x="147.50" y="370.48" width="4.30" height="4.31" fill="#ccecf4"/>
<rect x="151.50" y="370.48" width="4.30" height="4.31" fill="#a7aef0"/>
<rect x="155.50" y="370.48" width="4.30" height="4.31" fill="#cdeef5"/>
<rect x="159.50" y="370.48" width="4.30" height="4.31" fill="#703ff6"/>
<rect x="163.50" y="370.48" width="4.30" height="4.31" fill="#7448f7"/>
<rect x="167.50" y="370.48" width="4.30" height="4.31" fill="#cdeef5"/>
<rect x="171.50" y="370.48" width="4.30" height="4.31" fill="#d2f5f6"/>
<rect x="175.50" y="370.48" width="4.30" height="4.31" fill="#d2f5f6"/>
<rect x="179.50" y="370.48" width="4.30" height="4.31" fill="#bfdaf2"/>
<rect x="183.50" y="370.48" width="4.30" height="4.31" fill="#c4e1f3"/>
<rect x="187.50" y="370.48" width="4.30" height="4.31" fill="#9182f1"/>
<rect x="191.50" y="370.48" width="4.30" height="4.31" fill="#a09ff0"/>
<rect x="195.50" y="370.48" width="4.30" height="4.31" fill="#d5f9f6"/>
<rect x="199.50" y="370.48" width="4.30" height="4.31" fill="#876ef3"/>
<rect x="203.50" y="370.48" width="4.30" height="4.31" fill="#540412"/>
<rect x="207.50" y="370.48" width="4.30" height="4.31" fill="#dafcfa"/>
<rect x="211.50" y="370.48" width="4.30" height="4.31" fill="#cdeef4"/>
<rect x="215.50" y="370.48" width="4.30" height="4.31" fill="#9c97f0"/>
<rect x="219.50" y="370.48" width="4.30" height="4.31" fill="#8060f5"/>
<rect x="223.50" y="370.48" width="4.30" height="4.31" fill="#9b97f0"/>
<rect x="227.50" y="370.48" width="4.30" height="4.31" fill="#7549f7"/>
<rect x="231.50" y="370.48" width="4.30" height="4.31" fill="#d0f2f5"/>
<rect x="235.50" y="370.48" width="4.30" height="4.31" fill="#ceeff5"/>
<rect x="239.50" y="370.48" width="4.30" height="4.31" fill="#9f9ef0"/>
<rect x="243.50" y="370.48" width="4.30" height="4.31" fill="#abb5f0"/>
<rect x="247.50" y="370.48" width="4.30" height="4.31" fill="#7952f6"/>
<rect x="251.50" y="370.48" width="4.30" height="4.31" fill="#500820"/>
<rect x="255.50" y="370.48" width="4.30" height="4.31" fill="#6f3ff3"/>
<rect x="259.50" y="370.48" width="4.30" height="4.31" fill="#bad3f1"/>
<rect x="263.50" y="370.48" width="4.30" height="4.31" fill="#b9d1f0"/>
<rect x="267.50" y="370.48" width="4.30" height="4.31" fill="#d8fbf8"/>
<rect x="7.50" y="374.49" width="4.30" height="4.31" fill="#a1a3f0"/>
<rect x="11.50" y="374.49" width="4.30" height="4.31" fill="#6733c5"/>
<rect x="15.50" y="374.49" width="4.30" height="4.31" fill="#54040f"/>
<rect x="19.50" y="374.49" width="4.30" height="4.31" fill="#6530b7"/>
<rect x="23.50" y="374.49" width="4.30" height="4.31" fill="#7f5df5"/>
<rect x="27.50" y="374.49" width="4.30" height="4.31" fill="#ccedf4"/>
<rect x="31.50" y="374.49" width="4.30" height="4.31" fill="#9f9df0"/>
<rect x="35.50" y="374.49" width="4.30" height="4.31" fill="#754af7"/>
<rect x="39.50" y="374.49" width="4.30" height="4.31" fill="#c9e8f4"/>
<rect x="43.50" y="374.49" width="4.30" height="4.31" fill="#a4a7f0"/>
<rect x="47.50" y="374.49" width="4.30" height="4.31" fill="#ceeff5"/>
<rect x="51.50" y="374.49" width="4.30" height="4.31" fill="#764cf7"/>
<rect x="55.50" y="374.49" width="4.30" height="4.31" fill="#d0f3f5"/>
<rect x="59.50" y="374.49" width="4.30" height="4.31" fill="#6a37d5"/>
<rect x="63.50" y="374.49" width="4.30" height="4.31" fill="#ceeff5"/>
<rect x="67.50" y="374.49" width="4.30" height="4.31" fill="#7b55f6"/>
<rect x="71.50" y="374.49" width="4.30" height="4.31" fill="#d8fbf8"/>
<rect x="75.50" y="374.49" width="4.30" height="4.31" fill="#d5f9f6"/>
<rect x="79.50" y="374.49" width="4.30" height="4.31" fill="#c5e3f3"/>
<rect x="83.50" y="374.49" width="4.30" height="4.31" fill="#cbebf4"/>
<rect x="87.50" y="374.49" width="4.30" height="4.31" fill="#d3f7f6"/>
<rect x="91.50" y="374.49" width="4.30" height="4.31" fill="#6f3ef2"/>
<rect x="95.50" y="374.49" width="4.30" height="4.31" fill="#d9fbf9"/>
<rect x="99.50" y="374.49" width="4.30" height="4.31" fill="#d7fbf8"/>
<rect x="103.50" y="374.49" width="4.30" height="4.31" fill="#d9fcf9"/>
<rect x="107.50" y="374.49" width="4.30" height="4.31" fill="#d2f5f6"/>
<rect x="111.50" y="374.49" width="4.30" height="4.31" fill="#a5aaf0"/>
<rect x="115.50" y="374.49" width="4.30" height="4.31" fill="#b6cdf0"/>
<rect x="119.50" y="374.49" width="4.30" height="4.31" fill="#978df0"/>
<rect x="123.50" y="374.49" width="4.30" height="4.31" fill="#6b38d8"/>
<rect x="127.50" y="374.49" width="4.30" height="4.31" fill="#580001"/>
<rect x="131.50" y="374.49" width="4.30" height="4.31" fill="#bcd6f1"/>
<rect x="135.50" y="374.49" width="4.30" height="4.31" fill="#d1f3f5"/>
<rect x="139.50" y="374.49" width="4.30" height="4.31" fill="#9991f0"/>
<rect x="143.50" y="374.49" width="4.30" height="4.31" fill="#6d3ce7"/>
<rect x="147.50" y="374.49" width="4.30" height="4.31" fill="#7a53f6"/>
<rect x="151.50" y="374.49" width="4.30" height="4.31" fill="#7850f6"/>
<rect x="155.50" y="374.49" width="4.30" height="4.31" fill="#6a38d7"/>
<rect x="159.50" y="374.49" width="4.30" height="4.31" fill="#51071c"/>
<rect x="163.50" y="374.49" width="4.30" height="4.31" fill="#866bf4"/>
<rect x="167.50" y="374.49" width="4.30" height="4.31" fill="#d8fbf8"/>
<rect x="171.50" y="374.49" width="4.30" height="4.31" fill="#d6faf7"/>
<rect x="175.50" y="374.49" width="4.30" height="4.31" fill="#7f5ff5"/>
<rect x="179.50" y="374.49" width="4.30" height="4.31" fill="#55030c"/>
<rect x="183.50" y="374.49" width="4.30" height="4.31" fill="#7952f6"/>
<rect x="187.50" y="374.49" width="4.30" height="4.31" fill="#764df7"/>
<rect x="191.50" y="374.49" width="4.30" height="4.31" fill="#cff2f5"/>
<rect x="195.50" y="374.49" width="4.30" height="4.31" fill="#d3f6f6"/>
<rect x="199.50" y="374.49" width="4.30" height="4.31" fill="#9f9ef0"/>
<rect x="203.50" y="374.49" width="4.30" height="4.31" fill="#866bf4"/>
<rect x="207.50" y="374.49" width="4.30" height="4.31" fill="#6b39db"/>
<rect x="211.50" y="374.49" width="4.30" height="4.31" fill="#a9b3f0"/>
<rect x="215.50" y="374.49" width="4.30" height="4.31" fill="#6d3ce9"/>
<rect x="219.50" y="374.49" width="4.30" height="4.31" fill="#9992f0"/>
<rect x="223.50" y="374.49" width="4.30" height="4.31" fill="#9c98f0"/>
<rect x="227.50" y="374.49" width="4.30" height="4.31" fill="#c9e8f4"/>
<rect x="231.50" y="374.49" width="4.30" height="4.31" fill="#bed9f1"/>
<rect x="235.50" y="374.49" width="4.30" height="4.31" fill="#b4c7f0"/>
<rect x="239.50" y="374.49" width="4.30" height="4.31" fill="#d2f5f6"/>
<rect x="243.50" y="374.49" width="4.30" height="4.31" fill="#978ff0"/>
<rect x="247.50" y="374.49" width="4.30" height="4.31" fill="#8f7ef2"/>
<rect x="251.50" y="374.49" width="4.30" height="4.31" fill="#abb5f0"/>
<rect x="255.50" y="374.49" width="4.30" height="4.31" fill="#cbebf4"/>
<rect x="259.50" y="374.49" width="4.30" height="4.31" fill="#6b39dc"/>
<rect x="263.50" y="374.49" width="4.30" height="4.31" fill="#8264f4"/>
<rect x="267.50" y="374.49" width="4.30" height="4.31" fill="#c8e7f3"/>
<rect x="7.50" y="378.49" width="4.30" height="4.31" fill="#a4a8f0"/>
<rect x="11.50" y="378.49" width="4.30" height="4.31" fill="#a3a6f0"/>
<rect x="15.50" y="378.49" width="4.30" height="4.31" fill="#764cf7"/>
<rect x="19.50" y="378.49" width="4.30" height="4.31" fill="#500a29"/>
<rect x="23.50" y="378.49" width="4.30" height="4.31" fill="#d2f6f6"/>
<rect x="27.50" y="378.49" width="4.30" height="4.31" fill="#d2f5f6"/>
<rect x="31.50" y="378.49" width="4.30" height="4.31" fill="#774ef7"/>
<rect x="35.50" y="378.49" width="4.30" height="4.31" fill="#7447f7"/>
<rect x="39.50" y="378.49" width="4.30" height="4.31" fill="#8468f4"/>
<rect x="43.50" y="378.49" width="4.30" height="4.31" fill="#abb6f0"/>
<rect x="47.50" y="378.49" width="4.30" height="4.31" fill="#dafcfa"/>
<rect x="51.50" y="378.49" width="4.30" height="4.31" fill="#d9fcf9"/>
<rect x="55.50" y="378.49" width="4.30" height="4.31" fill="#bbd5f1"/>
<rect x="59.50" y="378.49" width="4.30" height="4.31" fill="#6d3be5"/>
<rect x="63.50" y="378.49" width="4.30" height="4.31" fill="#8a74f3"/>
<rect x="67.50" y="378.49" width="4.30" height="4.31" fill="#8366f4"/>
<rect x="71.50" y="378.49" width="4.30" height="4.31" fill="#dbfcfb"/>
<rect x="75.50" y="378.49" width="4.30" height="4.31" fill="#8870f3"/>
<rect x="79.50" y="378.49" width="4.30" height="4.31" fill="#856af4"/>
<rect x="83.50" y="378.49" width="4.30" height="4.31" fill="#9e9cf0"/>
<rect x="87.50" y="378.49" width="4.30" height="4.31" fill="#9992f0"/>
<rect x="91.50" y="378.49" width="4.30" height="4.31" fill="#8467f4"/>
<rect x="95.50" y="378.49" width="4.30" height="4.31" fill="#d9fcf9"/>
<rect x="99.50" y="378.49" width="4.30" height="4.31" fill="#dffefe"/>
<rect x="103.50" y="378.49" width="4.30" height="4.31" fill="#f8ff40"/>
<rect x="107.50" y="378.49" width="4.30" height="4.31" fill="#d7faf8"/>
<rect x="111.50" y="378.49" width="4.30" height="4.31" fill="#a6abf0"/>
<rect x="115.50" y="378.49" width="4.30" height="4.31" fill="#501142"/>
<rect x="119.50" y="378.49" width="4.30" height="4.31" fill="#a7aef0"/>
<rect x="123.50" y="378.49" width="4.30" height="4.31" fill="#a4a8f0"/>
<rect x="127.50" y="378.49" width="4.30" height="4.31" fill="#a5aaf0"/>
<rect x="131.50" y="378.49" width="4.30" height="4.31" fill="#9181f1"/>
<rect x="135.50" y="378.49" width="4.30" height="4.31" fill="#dbfdfb"/>
<rect x="139.50" y="378.49" width="4.30" height="4.31" fill="#d8fbf8"/>
<rect x="143.50" y="378.49" width="4.30" height="4.31" fill="#6f3ff5"/>
<rect x="147.50" y="378.49" width="4.30" height="4.31" fill="#501143"/>
<rect x="151.50" y="378.49" width="4.30" height="4.31" fill="#c8e7f3"/>
<rect x="155.50" y="378.49" width="4.30" height="4.31" fill="#8c77f2"/>
<rect x="159.50" y="378.49" width="4.30" height="4.31" fill="#8060f5"/>
<rect x="163.50" y="378.49" width="4.30" height="4.31" fill="#7245f8"/>
<rect x="167.50" y="378.49" width="4.30" height="4.31" fill="#d0f2f5"/>
<rect x="171.50" y="378.49" width="4.30" height="4.31" fill="#a6adf0"/>
<rect x="175.50" y="378.49" width="4.30" height="4.31" fill="#a2a4f0"/>
<rect x="179.50" y="378.49" width="4.30" height="4.31" fill="#c9e8f4"/>
<rect x="183.50" y="378.49" width="4.30" height="4.31" fill="#a6acf0"/>
<rect x="187.50" y="378.49" width="4.30" height="4.31" fill="#642dad"/>
<rect x="191.50" y="378.49" width="4.30" height="4.31" fill="#9f9df0"/>
<rect x="195.50" y="378.49" width="4.30" height="4.31" fill="#caeaf4"/>
<rect x="199.50" y="378.49" width="4.30" height="4.31" fill="#a2a5f0"/>
<rect x="203.50" y="378.49" width="4.30" height="4.31" fill="#876ef3"/>
<rect x="207.50" y="378.49" width="4.30" height="4.31" fill="#55030b"/>
<rect x="211.50" y="378.49" width="4.30" height="4.31" fill="#c0dbf2"/>
<rect x="215.50" y="378.49" width="4.30" height="4.31" fill="#d5f9f7"/>
<rect x="219.50" y="378.49" width="4.30" height="4.31" fill="#9992f0"/>
<rect x="223.50" y="378.49" width="4.30" height="4.31" fill="#7345f7"/>
<rect x="227.50" y="378.49" width="4.30" height="4.31" fill="#b2c5f0"/>
<rect x="231.50" y="378.49" width="4.30" height="4.31" fill="#7a54f6"/>
<rect x="235.50" y="378.49" width="4.30" height="4.31" fill="#a4a7f0"/>
<rect x="239.50" y="378.49" width="4.30" height="4.31" fill="#d6f9f7"/>
<rect x="243.50" y="378.49" width="4.30" height="4.31" fill="#ddfdfc"/>
<rect x="247.50" y="378.49" width="4.30" height="4.31" fill="#a5aaf0"/>
<rect x="251.50" y="378.49" width="4.30" height="4.31" fill="#bbd5f1"/>
<rect x="255.50" y="378.49" width="4.30" height="4.31" fill="#bad3f0"/>
<rect x="259.50" y="378.49" width="4.30" height="4.31" fill="#9182f1"/>
<rect x="263.50" y="378.49" width="4.30" height="4.31" fill="#7245f8"/>
<rect x="267.50" y="378.49" width="4.30" height="4.31" fill="#c9e8f4"/>
</g>
<rect x="7.5" y="238.3" width="264.0" height="144.2" fill="none" stroke="#111" stroke-width="0.9"/>
<linearGradient id="cbg" x1="0" y1="1" x2="0" y2="0">
<stop offset="0.0000" stop-color="#000000"/>
<stop offset="0.0769" stop-color="#2a0000"/>
<stop offset="0.1538" stop-color="#580000"/>
<stop offset="0.1923" stop-color="#500820"/>
<stop offset="0.2308" stop-color="#501860"/>
<stop offset="0.2692" stop-color="#602898"/>
<stop offset="0.3231" stop-color="#7040f8"/>
<stop offset="0.3846" stop-color="#9890f0"/>
<stop offset="0.4615" stop-color="#b8d0f0"/>
<stop offset="0.5231" stop-color="#d4f8f6"/>
<stop offset="0.5385" stop-color="#d8fbf8"/>
<stop offset="0.6154" stop-color="#e0ffff"/>
<stop offset="0.6923" stop-color="#e8ffe0"/>
<stop offset="0.7692" stop-color="#f0ff80"/>
<stop offset="0.8462" stop-color="#ffff00"/>
<stop offset="0.9231" stop-color="#ff8000"/>
<stop offset="1.0000" stop-color="#ff0000"/>
</linearGradient>
<rect x="282.0" y="236.5" width="22.69999999999999" height="149.39999999999998" fill="url(#cbg)" stroke="#555" stroke-width="0.6"/>
<line x1="304.7" y1="374.41" x2="306.5" y2="374.41" stroke="#555" stroke-width="0.6"/>
<text x="308.10" y="376.41" font-size="5.5" text-anchor="start" fill="#2a2a2a" font-weight="normal" textLength="8.0" lengthAdjust="spacingAndGlyphs" >0.8</text>
<line x1="304.7" y1="351.42" x2="306.5" y2="351.42" stroke="#555" stroke-width="0.6"/>
<text x="308.10" y="353.42" font-size="5.5" text-anchor="start" fill="#2a2a2a" font-weight="normal" textLength="8.0" lengthAdjust="spacingAndGlyphs" >1.0</text>
<line x1="304.7" y1="328.44" x2="306.5" y2="328.44" stroke="#555" stroke-width="0.6"/>
<text x="308.10" y="330.44" font-size="5.5" text-anchor="start" fill="#2a2a2a" font-weight="normal" textLength="8.0" lengthAdjust="spacingAndGlyphs" >1.2</text>
<line x1="304.7" y1="305.45" x2="306.5" y2="305.45" stroke="#555" stroke-width="0.6"/>
<text x="308.10" y="307.45" font-size="5.5" text-anchor="start" fill="#2a2a2a" font-weight="normal" textLength="8.0" lengthAdjust="spacingAndGlyphs" >1.4</text>
<line x1="304.7" y1="282.47" x2="306.5" y2="282.47" stroke="#555" stroke-width="0.6"/>
<text x="308.10" y="284.47" font-size="5.5" text-anchor="start" fill="#2a2a2a" font-weight="normal" textLength="8.0" lengthAdjust="spacingAndGlyphs" >1.6</text>
<line x1="304.7" y1="259.48" x2="306.5" y2="259.48" stroke="#555" stroke-width="0.6"/>
<text x="308.10" y="261.48" font-size="5.5" text-anchor="start" fill="#2a2a2a" font-weight="normal" textLength="8.0" lengthAdjust="spacingAndGlyphs" >1.8</text>
<line x1="304.7" y1="236.50" x2="306.5" y2="236.50" stroke="#555" stroke-width="0.6"/>
<text x="308.10" y="238.50" font-size="5.5" text-anchor="start" fill="#2a2a2a" font-weight="normal" textLength="8.0" lengthAdjust="spacingAndGlyphs" >2.0</text>
<text transform="translate(318.6,311.5) rotate(90)" x="0" y="0" font-size="5.4" text-anchor="middle" fill="#2a2a2a" textLength="24.6" lengthAdjust="spacingAndGlyphs">I<tspan font-size="3.6" dy="1">D</tspan><tspan dy="-1">/I</tspan><tspan font-size="3.6" dy="1">G</tspan><tspan dy="-1"> ratio</tspan></text>
<text x="8.00" y="231.80" font-size="17.5" text-anchor="start" fill="#000" font-weight="bold" textLength="27.0" lengthAdjust="spacingAndGlyphs" >(c)</text>
<rect x="376.00" y="381.30" width="12.02" height="3.70" fill="#008000" fill-opacity="0.5" stroke="#000" stroke-opacity="0.45" stroke-width="0.6"/>
<rect x="388.02" y="383.30" width="12.02" height="1.70" fill="#008000" fill-opacity="0.5" stroke="#000" stroke-opacity="0.45" stroke-width="0.6"/>
<rect x="400.04" y="377.30" width="12.02" height="7.70" fill="#008000" fill-opacity="0.5" stroke="#000" stroke-opacity="0.45" stroke-width="0.6"/>
<rect x="412.06" y="371.40" width="12.02" height="13.60" fill="#008000" fill-opacity="0.5" stroke="#000" stroke-opacity="0.45" stroke-width="0.6"/>
<rect x="424.08" y="347.70" width="12.02" height="37.30" fill="#008000" fill-opacity="0.5" stroke="#000" stroke-opacity="0.45" stroke-width="0.6"/>
<rect x="436.10" y="319.30" width="12.02" height="65.70" fill="#008000" fill-opacity="0.5" stroke="#000" stroke-opacity="0.45" stroke-width="0.6"/>
<rect x="448.12" y="273.90" width="12.02" height="111.10" fill="#008000" fill-opacity="0.5" stroke="#000" stroke-opacity="0.45" stroke-width="0.6"/>
<rect x="460.14" y="221.00" width="12.02" height="164.00" fill="#008000" fill-opacity="0.5" stroke="#000" stroke-opacity="0.45" stroke-width="0.6"/>
<rect x="472.16" y="229.40" width="12.02" height="155.60" fill="#008000" fill-opacity="0.5" stroke="#000" stroke-opacity="0.45" stroke-width="0.6"/>
<rect x="484.18" y="251.20" width="12.02" height="133.80" fill="#008000" fill-opacity="0.5" stroke="#000" stroke-opacity="0.45" stroke-width="0.6"/>
<rect x="496.20" y="293.40" width="12.02" height="91.60" fill="#008000" fill-opacity="0.5" stroke="#000" stroke-opacity="0.45" stroke-width="0.6"/>
<rect x="508.22" y="328.30" width="12.02" height="56.70" fill="#008000" fill-opacity="0.5" stroke="#000" stroke-opacity="0.45" stroke-width="0.6"/>
<rect x="520.24" y="363.60" width="12.02" height="21.40" fill="#008000" fill-opacity="0.5" stroke="#000" stroke-opacity="0.45" stroke-width="0.6"/>
<rect x="532.26" y="369.30" width="12.02" height="15.70" fill="#008000" fill-opacity="0.5" stroke="#000" stroke-opacity="0.45" stroke-width="0.6"/>
<rect x="544.28" y="381.00" width="12.02" height="4.00" fill="#008000" fill-opacity="0.5" stroke="#000" stroke-opacity="0.45" stroke-width="0.6"/>
<rect x="556.30" y="381.30" width="12.02" height="3.70" fill="#008000" fill-opacity="0.5" stroke="#000" stroke-opacity="0.45" stroke-width="0.6"/>
<rect x="568.32" y="382.60" width="12.02" height="2.40" fill="#008000" fill-opacity="0.5" stroke="#000" stroke-opacity="0.45" stroke-width="0.6"/>
<rect x="580.34" y="384.00" width="12.02" height="1.00" fill="#008000" fill-opacity="0.5" stroke="#000" stroke-opacity="0.45" stroke-width="0.6"/>
<rect x="592.36" y="384.60" width="12.02" height="0.40" fill="#008000" fill-opacity="0.5" stroke="#000" stroke-opacity="0.45" stroke-width="0.6"/>
<rect x="604.38" y="384.30" width="12.02" height="0.70" fill="#008000" fill-opacity="0.5" stroke="#000" stroke-opacity="0.45" stroke-width="0.6"/>
<rect x="389.30" y="371.90" width="8.57" height="13.10" fill="#0000ff" fill-opacity="0.5" stroke="#000" stroke-opacity="0.45" stroke-width="0.6"/>
<rect x="397.87" y="358.20" width="8.57" height="26.80" fill="#0000ff" fill-opacity="0.5" stroke="#000" stroke-opacity="0.45" stroke-width="0.6"/>
<rect x="406.45" y="344.50" width="8.57" height="40.50" fill="#0000ff" fill-opacity="0.5" stroke="#000" stroke-opacity="0.45" stroke-width="0.6"/>
<rect x="415.02" y="371.90" width="8.57" height="13.10" fill="#0000ff" fill-opacity="0.5" stroke="#000" stroke-opacity="0.45" stroke-width="0.6"/>
<rect x="423.59" y="303.40" width="8.57" height="81.60" fill="#0000ff" fill-opacity="0.5" stroke="#000" stroke-opacity="0.45" stroke-width="0.6"/>
<rect x="432.17" y="317.10" width="8.57" height="67.90" fill="#0000ff" fill-opacity="0.5" stroke="#000" stroke-opacity="0.45" stroke-width="0.6"/>
<rect x="440.74" y="317.10" width="8.57" height="67.90" fill="#0000ff" fill-opacity="0.5" stroke="#000" stroke-opacity="0.45" stroke-width="0.6"/>
<rect x="449.31" y="221.20" width="8.57" height="163.80" fill="#0000ff" fill-opacity="0.5" stroke="#000" stroke-opacity="0.45" stroke-width="0.6"/>
<rect x="457.88" y="330.80" width="8.57" height="54.20" fill="#0000ff" fill-opacity="0.5" stroke="#000" stroke-opacity="0.45" stroke-width="0.6"/>
<rect x="466.46" y="276.00" width="8.57" height="109.00" fill="#0000ff" fill-opacity="0.5" stroke="#000" stroke-opacity="0.45" stroke-width="0.6"/>
<rect x="475.03" y="276.00" width="8.57" height="109.00" fill="#0000ff" fill-opacity="0.5" stroke="#000" stroke-opacity="0.45" stroke-width="0.6"/>
<rect x="483.60" y="276.00" width="8.57" height="109.00" fill="#0000ff" fill-opacity="0.5" stroke="#000" stroke-opacity="0.45" stroke-width="0.6"/>
<rect x="492.18" y="344.50" width="8.57" height="40.50" fill="#0000ff" fill-opacity="0.5" stroke="#000" stroke-opacity="0.45" stroke-width="0.6"/>
<rect x="500.75" y="358.20" width="8.57" height="26.80" fill="#0000ff" fill-opacity="0.5" stroke="#000" stroke-opacity="0.45" stroke-width="0.6"/>
<rect x="509.32" y="344.50" width="8.57" height="40.50" fill="#0000ff" fill-opacity="0.5" stroke="#000" stroke-opacity="0.45" stroke-width="0.6"/>
<polyline points="376.00,384.73 376.50,384.71 377.00,384.69 377.50,384.67 378.00,384.65 378.50,384.63 379.00,384.60 379.50,384.58 380.00,384.55 380.50,384.52 381.00,384.49 381.50,384.46 382.00,384.43 382.50,384.39 383.00,384.35 383.50,384.31 384.00,384.27 384.50,384.23 385.00,384.18 385.50,384.13 386.00,384.08 386.50,384.02 387.00,383.97 387.50,383.91 388.00,383.84 388.50,383.77 389.00,383.70 389.50,383.63 390.00,383.55 390.50,383.47 391.00,383.38 391.50,383.29 392.00,383.20 392.50,383.10 393.00,382.99 393.50,382.88 394.00,382.77 394.50,382.65 395.00,382.52 395.50,382.39 396.00,382.25 396.50,382.11 397.00,381.96 397.50,381.80 398.00,381.63 398.50,381.46 399.00,381.28 399.50,381.09 400.00,380.90 400.50,380.69 401.00,380.48 401.50,380.26 402.00,380.02 402.50,379.78 403.00,379.53 403.50,379.27 404.00,379.00 404.50,378.71 405.00,378.42 405.50,378.11 406.00,377.79 406.50,377.46 407.00,377.12 407.50,376.77 408.00,376.40 408.50,376.01 409.00,375.62 409.50,375.21 410.00,374.78 410.50,374.34 411.00,373.88 411.50,373.41 412.00,372.92 412.50,372.42 413.00,371.90 413.50,371.36 414.00,370.81 414.50,370.23 415.00,369.64 415.50,369.03 416.00,368.40 416.50,367.75 417.00,367.08 417.50,366.39 418.00,365.69 418.50,364.96 419.00,364.21 419.50,363.44 420.00,362.64 420.50,361.83 421.00,361.00 421.50,360.14 422.00,359.26 422.50,358.36 423.00,357.43 423.50,356.48 424.00,355.51 424.50,354.52 425.00,353.50 425.50,352.46 426.00,351.40 426.50,350.31 427.00,349.20 427.50,348.06 428.00,346.90 428.50,345.72 429.00,344.51 429.50,343.28 430.00,342.03 430.50,340.75 431.00,339.45 431.50,338.13 432.00,336.79 432.50,335.42 433.00,334.03 433.50,332.61 434.00,331.18 434.50,329.73 435.00,328.25 435.50,326.75 436.00,325.23 436.50,323.70 437.00,322.14 437.50,320.57 438.00,318.97 438.50,317.36 439.00,315.73 439.50,314.09 440.00,312.43 440.50,310.76 441.00,309.07 441.50,307.37 442.00,305.65 442.50,303.93 443.00,302.19 443.50,300.45 444.00,298.69 444.50,296.93 445.00,295.16 445.50,293.38 446.00,291.60 446.50,289.82 447.00,288.03 447.50,286.24 448.00,284.46 448.50,282.67 449.00,280.88 449.50,279.10 450.00,277.32 450.50,275.54 451.00,273.78 451.50,272.02 452.00,270.27 452.50,268.53 453.00,266.80 453.50,265.09 454.00,263.39 454.50,261.71 455.00,260.04 455.50,258.39 456.00,256.77 456.50,255.16 457.00,253.57 457.50,252.01 458.00,250.48 458.50,248.97 459.00,247.49 459.50,246.03 460.00,244.61 460.50,243.22 461.00,241.86 461.50,240.53 462.00,239.24 462.50,237.99 463.00,236.77 463.50,235.59 464.00,234.45 464.50,233.35 465.00,232.29 465.50,231.27 466.00,230.30 466.50,229.37 467.00,228.49 467.50,227.65 468.00,226.86 468.50,226.12 469.00,225.42 469.50,224.78 470.00,224.18 470.50,223.63 471.00,223.13 471.50,222.69 472.00,222.29 472.50,221.95 473.00,221.66 473.50,221.42 474.00,221.24 474.50,221.11 475.00,221.03 475.50,221.00 476.00,221.03 476.50,221.11 477.00,221.24 477.50,221.42 478.00,221.66 478.50,221.95 479.00,222.29 479.50,222.69 480.00,223.13 480.50,223.63 481.00,224.18 481.50,224.78 482.00,225.42 482.50,226.12 483.00,226.86 483.50,227.65 484.00,228.49 484.50,229.37 485.00,230.30 485.50,231.27 486.00,232.29 486.50,233.35 487.00,234.45 487.50,235.59 488.00,236.77 488.50,237.99 489.00,239.24 489.50,240.53 490.00,241.86 490.50,243.22 491.00,244.61 491.50,246.03 492.00,247.49 492.50,248.97 493.00,250.48 493.50,252.01 494.00,253.57 494.50,255.16 495.00,256.77 495.50,258.39 496.00,260.04 496.50,261.71 497.00,263.39 497.50,265.09 498.00,266.80 498.50,268.53 499.00,270.27 499.50,272.02 500.00,273.78 500.50,275.54 501.00,277.32 501.50,279.10 502.00,280.88 502.50,282.67 503.00,284.46 503.50,286.24 504.00,288.03 504.50,289.82 505.00,291.60 505.50,293.38 506.00,295.16 506.50,296.93 507.00,298.69 507.50,300.45 508.00,302.19 508.50,303.93 509.00,305.65 509.50,307.37 510.00,309.07 510.50,310.76 511.00,312.43 511.50,314.09 512.00,315.73 512.50,317.36 513.00,318.97 513.50,320.57 514.00,322.14 514.50,323.70 515.00,325.23 515.50,326.75 516.00,328.25 516.50,329.73 517.00,331.18 517.50,332.61 518.00,334.03 518.50,335.42 519.00,336.79 519.50,338.13 520.00,339.45 520.50,340.75 521.00,342.03 521.50,343.28 522.00,344.51 522.50,345.72 523.00,346.90 523.50,348.06 524.00,349.20 524.50,350.31 525.00,351.40 525.50,352.46 526.00,353.50 526.50,354.52 527.00,355.51 527.50,356.48 528.00,357.43 528.50,358.36 529.00,359.26 529.50,360.14 530.00,361.00 530.50,361.83 531.00,362.64 531.50,363.44 532.00,364.21 532.50,364.96 533.00,365.69 533.50,366.39 534.00,367.08 534.50,367.75 535.00,368.40 535.50,369.03 536.00,369.64 536.50,370.23 537.00,370.81 537.50,371.36 538.00,371.90 538.50,372.42 539.00,372.92 539.50,373.41 540.00,373.88 540.50,374.34 541.00,374.78 541.50,375.21 542.00,375.62 542.50,376.01 543.00,376.40 543.50,376.77 544.00,377.12 544.50,377.46 545.00,377.79 545.50,378.11 546.00,378.42 546.50,378.71 547.00,379.00 547.50,379.27 548.00,379.53 548.50,379.78 549.00,380.02 549.50,380.26 550.00,380.48 550.50,380.69 551.00,380.90 551.50,381.09 552.00,381.28 552.50,381.46 553.00,381.63 553.50,381.80 554.00,381.96 554.50,382.11 555.00,382.25 555.50,382.39 556.00,382.52 556.50,382.65 557.00,382.77 557.50,382.88 558.00,382.99 558.50,383.10 559.00,383.20 559.50,383.29 560.00,383.38 560.50,383.47 561.00,383.55 561.50,383.63 562.00,383.70 562.50,383.77 563.00,383.84 563.50,383.91 564.00,383.97 564.50,384.02 565.00,384.08 565.50,384.13 566.00,384.18 566.50,384.23 567.00,384.27 567.50,384.31 568.00,384.35 568.50,384.39 569.00,384.43 569.50,384.46 570.00,384.49 570.50,384.52 571.00,384.55 571.50,384.58 572.00,384.60 572.50,384.63 573.00,384.65 573.50,384.67 574.00,384.69 574.50,384.71 575.00,384.73 575.50,384.75 576.00,384.76 576.50,384.78 577.00,384.79 577.50,384.80 578.00,384.82 578.50,384.83 579.00,384.84 579.50,384.85 580.00,384.86 580.50,384.87 581.00,384.88 581.50,384.89 582.00,384.89 582.50,384.90 583.00,384.91 583.50,384.91 584.00,384.92 584.50,384.92 585.00,384.93 585.50,384.93 586.00,384.94 586.50,384.94 587.00,384.95 587.50,384.95 588.00,384.95 588.50,384.96 589.00,384.96 589.50,384.96 590.00,384.97 590.50,384.97 591.00,384.97 591.50,384.97 592.00,384.97 592.50,384.98 593.00,384.98 593.50,384.98 594.00,384.98 594.50,384.98 595.00,384.98 595.50,384.99 596.00,384.99 596.50,384.99 597.00,384.99 597.50,384.99 598.00,384.99 598.50,384.99 599.00,384.99 599.50,384.99 600.00,384.99 600.50,384.99 601.00,384.99 601.50,384.99 602.00,384.99 602.50,385.00 603.00,385.00 603.50,385.00 604.00,385.00 604.50,385.00 605.00,385.00 605.50,385.00 606.00,385.00 606.50,385.00 607.00,385.00 607.50,385.00 608.00,385.00 608.50,385.00 609.00,385.00 609.50,385.00 610.00,385.00 610.50,385.00 611.00,385.00 611.50,385.00 612.00,385.00 612.50,385.00 613.00,385.00 613.50,385.00 614.00,385.00 614.50,385.00 615.00,385.00 615.50,385.00 616.00,385.00" fill="none" stroke="#0a8a0a" stroke-width="1.2" stroke-dasharray="4 2.3"/>
<polyline points="389.30,376.98 389.80,376.63 390.30,376.26 390.80,375.88 391.30,375.49 391.80,375.08 392.30,374.66 392.80,374.22 393.30,373.77 393.80,373.31 394.30,372.83 394.80,372.33 395.30,371.82 395.80,371.29 396.30,370.74 396.80,370.18 397.30,369.60 397.80,369.00 398.30,368.38 398.80,367.74 399.30,367.09 399.80,366.41 400.30,365.72 400.80,365.01 401.30,364.28 401.80,363.52 402.30,362.75 402.80,361.96 403.30,361.14 403.80,360.31 404.30,359.45 404.80,358.57 405.30,357.67 405.80,356.75 406.30,355.80 406.80,354.84 407.30,353.85 407.80,352.84 408.30,351.80 408.80,350.74 409.30,349.66 409.80,348.56 410.30,347.44 410.80,346.29 411.30,345.12 411.80,343.93 412.30,342.71 412.80,341.47 413.30,340.21 413.80,338.93 414.30,337.62 414.80,336.30 415.30,334.95 415.80,333.58 416.30,332.19 416.80,330.78 417.30,329.35 417.80,327.89 418.30,326.42 418.80,324.93 419.30,323.42 419.80,321.89 420.30,320.35 420.80,318.78 421.30,317.20 421.80,315.60 422.30,313.99 422.80,312.37 423.30,310.72 423.80,309.07 424.30,307.40 424.80,305.72 425.30,304.03 425.80,302.33 426.30,300.62 426.80,298.90 427.30,297.17 427.80,295.43 428.30,293.69 428.80,291.95 429.30,290.20 429.80,288.45 430.30,286.69 430.80,284.94 431.30,283.18 431.80,281.43 432.30,279.67 432.80,277.93 433.30,276.18 433.80,274.45 434.30,272.72 434.80,270.99 435.30,269.28 435.80,267.58 436.30,265.89 436.80,264.21 437.30,262.55 437.80,260.90 438.30,259.27 438.80,257.66 439.30,256.07 439.80,254.50 440.30,252.95 440.80,251.42 441.30,249.92 441.80,248.44 442.30,246.99 442.80,245.57 443.30,244.17 443.80,242.81 444.30,241.47 444.80,240.17 445.30,238.91 445.80,237.67 446.30,236.48 446.80,235.32 447.30,234.20 447.80,233.11 448.30,232.07 448.80,231.06 449.30,230.10 449.80,229.18 450.30,228.31 450.80,227.47 451.30,226.68 451.80,225.94 452.30,225.25 452.80,224.60 453.30,223.99 453.80,223.44 454.30,222.93 454.80,222.47 455.30,222.07 455.80,221.71 456.30,221.40 456.80,221.14 457.30,220.93 457.80,220.77 458.30,220.67 458.80,220.61 459.30,220.60 459.80,220.65 460.30,220.75 460.80,220.89 461.30,221.09 461.80,221.34 462.30,221.64 462.80,221.99 463.30,222.39 463.80,222.84 464.30,223.33 464.80,223.88 465.30,224.47 465.80,225.11 466.30,225.80 466.80,226.53 467.30,227.31 467.80,228.14 468.30,229.00 468.80,229.91 469.30,230.87 469.80,231.86 470.30,232.90 470.80,233.98 471.30,235.09 471.80,236.24 472.30,237.43 472.80,238.66 473.30,239.92 473.80,241.21 474.30,242.54 474.80,243.90 475.30,245.28 475.80,246.70 476.30,248.15 476.80,249.62 477.30,251.12 477.80,252.64 478.30,254.19 478.80,255.75 479.30,257.34 479.80,258.95 480.30,260.58 480.80,262.22 481.30,263.88 481.80,265.55 482.30,267.24 482.80,268.94 483.30,270.65 483.80,272.37 484.30,274.10 484.80,275.84 485.30,277.58 485.80,279.32 486.30,281.08 486.80,282.83 487.30,284.58 487.80,286.34 488.30,288.09 488.80,289.85 489.30,291.60 489.80,293.34 490.30,295.09 490.80,296.82 491.30,298.55 491.80,300.27 492.30,301.99 492.80,303.69 493.30,305.38 493.80,307.07 494.30,308.74 494.80,310.39 495.30,312.04 495.80,313.67 496.30,315.28 496.80,316.88 497.30,318.47 497.80,320.03 498.30,321.58 498.80,323.12 499.30,324.63 499.80,326.12 500.30,327.60 500.80,329.06 501.30,330.49 501.80,331.91 502.30,333.30 502.80,334.68 503.30,336.03 503.80,337.36 504.30,338.67 504.80,339.96 505.30,341.22 505.80,342.46 506.30,343.68 506.80,344.88 507.30,346.06 507.80,347.21 508.30,348.34 508.80,349.45 509.30,350.53 509.80,351.59 510.30,352.63 510.80,353.65 511.30,354.64 511.80,355.61 512.30,356.56 512.80,357.49 513.30,358.39 513.80,359.28 514.30,360.14 514.80,360.98 515.30,361.80 515.80,362.59 516.30,363.37 516.80,364.13 517.30,364.86 517.80,365.58" fill="none" stroke="#1010ee" stroke-width="1.2" stroke-dasharray="4 2.3"/>
<rect x="364.25" y="213.0" width="263.75" height="172.0" fill="none" stroke="#7f7f7f" stroke-width="1.3"/>
<line x1="361.65" y1="385.00" x2="364.25" y2="385.00" stroke="#7f7f7f" stroke-width="1"/>
<text x="358.35" y="388.10" font-size="8.8" text-anchor="end" fill="#262626" font-weight="normal" textLength="4.95" lengthAdjust="spacingAndGlyphs" >0</text>
<line x1="361.65" y1="365.88" x2="364.25" y2="365.88" stroke="#7f7f7f" stroke-width="1"/>
<text x="358.35" y="368.98" font-size="8.8" text-anchor="end" fill="#262626" font-weight="normal" textLength="9.90" lengthAdjust="spacingAndGlyphs" >50</text>
<line x1="361.65" y1="346.75" x2="364.25" y2="346.75" stroke="#7f7f7f" stroke-width="1"/>
<text x="358.35" y="349.85" font-size="8.8" text-anchor="end" fill="#262626" font-weight="normal" textLength="14.85" lengthAdjust="spacingAndGlyphs" >100</text>
<line x1="361.65" y1="327.62" x2="364.25" y2="327.62" stroke="#7f7f7f" stroke-width="1"/>
<text x="358.35" y="330.73" font-size="8.8" text-anchor="end" fill="#262626" font-weight="normal" textLength="14.85" lengthAdjust="spacingAndGlyphs" >150</text>
<line x1="361.65" y1="308.50" x2="364.25" y2="308.50" stroke="#7f7f7f" stroke-width="1"/>
<text x="358.35" y="311.60" font-size="8.8" text-anchor="end" fill="#262626" font-weight="normal" textLength="14.85" lengthAdjust="spacingAndGlyphs" >200</text>
<line x1="361.65" y1="289.38" x2="364.25" y2="289.38" stroke="#7f7f7f" stroke-width="1"/>
<text x="358.35" y="292.48" font-size="8.8" text-anchor="end" fill="#262626" font-weight="normal" textLength="14.85" lengthAdjust="spacingAndGlyphs" >250</text>
<line x1="361.65" y1="270.25" x2="364.25" y2="270.25" stroke="#7f7f7f" stroke-width="1"/>
<text x="358.35" y="273.35" font-size="8.8" text-anchor="end" fill="#262626" font-weight="normal" textLength="14.85" lengthAdjust="spacingAndGlyphs" >300</text>
<line x1="361.65" y1="251.12" x2="364.25" y2="251.12" stroke="#7f7f7f" stroke-width="1"/>
<text x="358.35" y="254.22" font-size="8.8" text-anchor="end" fill="#262626" font-weight="normal" textLength="14.85" lengthAdjust="spacingAndGlyphs" >350</text>
<line x1="361.65" y1="232.00" x2="364.25" y2="232.00" stroke="#7f7f7f" stroke-width="1"/>
<text x="358.35" y="235.10" font-size="8.8" text-anchor="end" fill="#262626" font-weight="normal" textLength="14.85" lengthAdjust="spacingAndGlyphs" >400</text>
<line x1="628.0" y1="385.60" x2="630.6" y2="385.60" stroke="#7f7f7f" stroke-width="1"/>
<text x="633.80" y="388.00" font-size="8.8" text-anchor="start" fill="#262626" font-weight="normal" textLength="4.95" lengthAdjust="spacingAndGlyphs" >0</text>
<line x1="628.0" y1="358.20" x2="630.6" y2="358.20" stroke="#7f7f7f" stroke-width="1"/>
<text x="633.80" y="360.60" font-size="8.8" text-anchor="start" fill="#262626" font-weight="normal" textLength="4.95" lengthAdjust="spacingAndGlyphs" >2</text>
<line x1="628.0" y1="330.80" x2="630.6" y2="330.80" stroke="#7f7f7f" stroke-width="1"/>
<text x="633.80" y="333.20" font-size="8.8" text-anchor="start" fill="#262626" font-weight="normal" textLength="4.95" lengthAdjust="spacingAndGlyphs" >4</text>
<line x1="628.0" y1="303.40" x2="630.6" y2="303.40" stroke="#7f7f7f" stroke-width="1"/>
<text x="633.80" y="305.80" font-size="8.8" text-anchor="start" fill="#262626" font-weight="normal" textLength="4.95" lengthAdjust="spacingAndGlyphs" >6</text>
<line x1="628.0" y1="276.00" x2="630.6" y2="276.00" stroke="#7f7f7f" stroke-width="1"/>
<text x="633.80" y="278.40" font-size="8.8" text-anchor="start" fill="#262626" font-weight="normal" textLength="4.95" lengthAdjust="spacingAndGlyphs" >8</text>
<line x1="628.0" y1="248.60" x2="630.6" y2="248.60" stroke="#7f7f7f" stroke-width="1"/>
<text x="633.80" y="251.00" font-size="8.8" text-anchor="start" fill="#262626" font-weight="normal" textLength="9.90" lengthAdjust="spacingAndGlyphs" >10</text>
<line x1="628.0" y1="221.20" x2="630.6" y2="221.20" stroke="#7f7f7f" stroke-width="1"/>
<text x="633.80" y="223.60" font-size="8.8" text-anchor="start" fill="#262626" font-weight="normal" textLength="9.90" lengthAdjust="spacingAndGlyphs" >12</text>
<line x1="397.00" y1="385.0" x2="397.00" y2="387.6" stroke="#7f7f7f" stroke-width="1"/>
<text x="397.30" y="396.30" font-size="8.8" text-anchor="middle" fill="#262626" font-weight="normal" textLength="11.6" lengthAdjust="spacingAndGlyphs" >0.8</text>
<line x1="433.50" y1="385.0" x2="433.50" y2="387.6" stroke="#7f7f7f" stroke-width="1"/>
<text x="433.80" y="396.30" font-size="8.8" text-anchor="middle" fill="#262626" font-weight="normal" textLength="11.6" lengthAdjust="spacingAndGlyphs" >1.0</text>
<line x1="470.00" y1="385.0" x2="470.00" y2="387.6" stroke="#7f7f7f" stroke-width="1"/>
<text x="470.30" y="396.30" font-size="8.8" text-anchor="middle" fill="#262626" font-weight="normal" textLength="11.6" lengthAdjust="spacingAndGlyphs" >1.2</text>
<line x1="506.50" y1="385.0" x2="506.50" y2="387.6" stroke="#7f7f7f" stroke-width="1"/>
<text x="506.80" y="396.30" font-size="8.8" text-anchor="middle" fill="#262626" font-weight="normal" textLength="11.6" lengthAdjust="spacingAndGlyphs" >1.4</text>
<line x1="543.00" y1="385.0" x2="543.00" y2="387.6" stroke="#7f7f7f" stroke-width="1"/>
<text x="543.30" y="396.30" font-size="8.8" text-anchor="middle" fill="#262626" font-weight="normal" textLength="11.6" lengthAdjust="spacingAndGlyphs" >1.6</text>
<line x1="579.50" y1="385.0" x2="579.50" y2="387.6" stroke="#7f7f7f" stroke-width="1"/>
<text x="579.80" y="396.30" font-size="8.8" text-anchor="middle" fill="#262626" font-weight="normal" textLength="11.6" lengthAdjust="spacingAndGlyphs" >1.8</text>
<line x1="616.00" y1="385.0" x2="616.00" y2="387.6" stroke="#7f7f7f" stroke-width="1"/>
<text x="616.30" y="396.30" font-size="8.8" text-anchor="middle" fill="#262626" font-weight="normal" textLength="11.6" lengthAdjust="spacingAndGlyphs" >2.0</text>
<text x="377.20" y="231.90" font-size="17.5" text-anchor="start" fill="#000" font-weight="bold" textLength="30.5" lengthAdjust="spacingAndGlyphs" >(d)</text>
<rect x="525" y="225.7" width="16.7" height="5.6" fill="#008000" fill-opacity="0.5" stroke="#000" stroke-opacity="0.45" stroke-width="0.6"/>
<rect x="525" y="246.2" width="16.7" height="5.6" fill="#0000ff" fill-opacity="0.5" stroke="#000" stroke-opacity="0.45" stroke-width="0.6"/>
<text x="547.60" y="225.90" font-size="8.0" text-anchor="start" fill="#262626" font-weight="normal" textLength="27.4" lengthAdjust="spacingAndGlyphs" >overall</text>
<text x="547.60" y="235.00" font-size="8.0" fill="#262626" text-anchor="start" textLength="74.3" lengthAdjust="spacingAndGlyphs" >(mean I<tspan font-size="5.6" dy="1.7">D</tspan><tspan dy="-1.7">/I</tspan><tspan font-size="5.6" dy="1.7">G</tspan><tspan dy="-1.7">= 1.23)</tspan></text>
<text x="547.60" y="246.30" font-size="8.0" text-anchor="start" fill="#262626" font-weight="normal" textLength="35.9" lengthAdjust="spacingAndGlyphs" >ring area</text>
<text x="547.60" y="255.40" font-size="8.0" fill="#262626" text-anchor="start" textLength="74.3" lengthAdjust="spacingAndGlyphs" >(mean I<tspan font-size="5.6" dy="1.7">D</tspan><tspan dy="-1.7">/I</tspan><tspan font-size="5.6" dy="1.7">G</tspan><tspan dy="-1.7">= 1.14)</tspan></text>
<text x="478.40" y="406.30" font-size="8.0" fill="#262626" text-anchor="start" textLength="36.6" lengthAdjust="spacingAndGlyphs" >I<tspan font-size="5.6" dy="1.7">D</tspan><tspan dy="-1.7">/I</tspan><tspan font-size="5.6" dy="1.7">G</tspan><tspan dy="-1.7"> ratio</tspan></text>
<text transform="translate(339.1,296.6) rotate(-90)" x="0" y="0" font-size="8.8" text-anchor="middle" fill="#262626" textLength="65.6" lengthAdjust="spacingAndGlyphs">counts (overall)</text>
<text transform="translate(653.6,299.2) rotate(-90)" x="0" y="0" font-size="8.6" text-anchor="middle" fill="#262626" textLength="71.0" lengthAdjust="spacingAndGlyphs">counts (ring area)</text>
</svg></body></html>
